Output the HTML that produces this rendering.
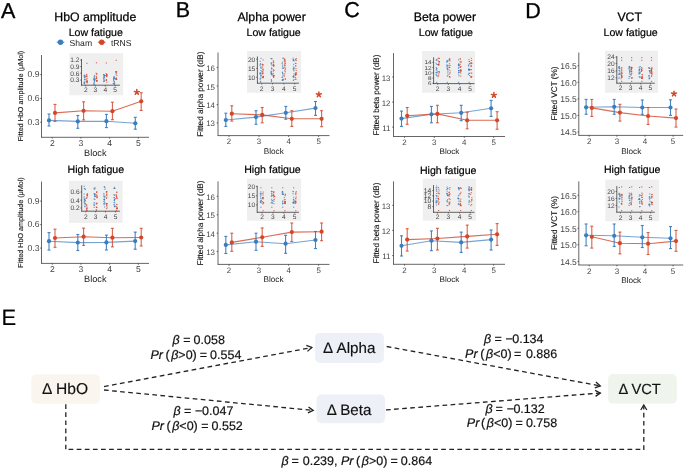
<!DOCTYPE html>
<html><head><meta charset="utf-8"><style>
html,body{margin:0;padding:0;background:#fff;}
body{width:685px;height:469px;overflow:hidden;}
svg{display:block;filter:blur(0.3px);-webkit-font-smoothing:antialiased;will-change:transform;text-rendering:geometricPrecision;font-family:"Liberation Sans",sans-serif;}
</style></head><body>
<svg width="685" height="469" viewBox="0 0 685 469">
<rect width="685" height="469" fill="#fff"/>
<text x="1.00" y="18.10" font-size="21.5" fill="#000" text-anchor="start" stroke="#000" stroke-width="0.35">A</text>
<text x="175.80" y="17.20" font-size="21.5" fill="#000" text-anchor="start" stroke="#000" stroke-width="0.35">B</text>
<text x="344.30" y="17.20" font-size="21.5" fill="#000" text-anchor="start" stroke="#000" stroke-width="0.35">C</text>
<text x="525.30" y="17.80" font-size="21.5" fill="#000" text-anchor="start" stroke="#000" stroke-width="0.35">D</text>
<text x="95.30" y="20.60" font-size="12.3" fill="#000" text-anchor="middle" stroke="#000" stroke-width="0.25">HbO amplitude</text>
<text x="271.60" y="20.60" font-size="12.3" fill="#000" text-anchor="middle" stroke="#000" stroke-width="0.25">Alpha power</text>
<text x="444.90" y="20.60" font-size="12.3" fill="#000" text-anchor="middle" stroke="#000" stroke-width="0.25">Beta power</text>
<text x="629.70" y="20.60" font-size="12.3" fill="#000" text-anchor="middle" stroke="#000" stroke-width="0.25">VCT</text>
<text x="95.75" y="35.80" font-size="10.6" fill="#000" text-anchor="middle" stroke="#000" stroke-width="0.2">Low fatigue</text>
<text x="273.60" y="35.80" font-size="10.6" fill="#000" text-anchor="middle" stroke="#000" stroke-width="0.2">Low fatigue</text>
<text x="445.85" y="35.80" font-size="10.6" fill="#000" text-anchor="middle" stroke="#000" stroke-width="0.2">Low fatigue</text>
<text x="630.60" y="35.80" font-size="10.6" fill="#000" text-anchor="middle" stroke="#000" stroke-width="0.2">Low fatigue</text>
<text x="95.85" y="173.40" font-size="10.6" fill="#000" text-anchor="middle" stroke="#000" stroke-width="0.2">High fatigue</text>
<text x="272.50" y="173.00" font-size="10.6" fill="#000" text-anchor="middle" stroke="#000" stroke-width="0.2">High fatigue</text>
<text x="448.20" y="173.50" font-size="10.6" fill="#000" text-anchor="middle" stroke="#000" stroke-width="0.2">High fatigue</text>
<text x="632.15" y="173.00" font-size="10.6" fill="#000" text-anchor="middle" stroke="#000" stroke-width="0.2">High fatigue</text>
<line x1="56.70" y1="42.20" x2="64.30" y2="42.20" stroke="#3a7dbf" stroke-width="1" />
<circle cx="60.5" cy="42.2" r="2.7" fill="#3a7dbf"/>
<line x1="97.90" y1="42.20" x2="105.50" y2="42.20" stroke="#d2472b" stroke-width="1" />
<circle cx="101.7" cy="42.2" r="2.7" fill="#d2472b"/>
<text x="69.60" y="45.60" font-size="8.6" fill="#222" text-anchor="start" >Sham</text>
<text x="110.90" y="45.60" font-size="8.6" fill="#222" text-anchor="start" >tRNS</text>
<line x1="41.50" y1="55.00" x2="41.50" y2="137.55" stroke="#333333" stroke-width="0.75" />
<line x1="41.25" y1="137.30" x2="149.00" y2="137.30" stroke="#333333" stroke-width="0.75" />
<line x1="40.20" y1="74.60" x2="41.50" y2="74.60" stroke="#333333" stroke-width="0.75" />
<text x="39.50" y="77.10" font-size="8.6" fill="#444444" text-anchor="end" >0.9</text>
<line x1="40.20" y1="98.40" x2="41.50" y2="98.40" stroke="#333333" stroke-width="0.75" />
<text x="39.50" y="100.90" font-size="8.6" fill="#444444" text-anchor="end" >0.6</text>
<line x1="40.20" y1="122.20" x2="41.50" y2="122.20" stroke="#333333" stroke-width="0.75" />
<text x="39.50" y="124.70" font-size="8.6" fill="#444444" text-anchor="end" >0.3</text>
<line x1="52.30" y1="137.30" x2="52.30" y2="138.60" stroke="#333333" stroke-width="0.75" />
<text x="52.30" y="146.00" font-size="8.6" fill="#444444" text-anchor="middle" >2</text>
<line x1="80.90" y1="137.30" x2="80.90" y2="138.60" stroke="#333333" stroke-width="0.75" />
<text x="80.90" y="146.00" font-size="8.6" fill="#444444" text-anchor="middle" >3</text>
<line x1="109.60" y1="137.30" x2="109.60" y2="138.60" stroke="#333333" stroke-width="0.75" />
<text x="109.60" y="146.00" font-size="8.6" fill="#444444" text-anchor="middle" >4</text>
<line x1="138.30" y1="137.30" x2="138.30" y2="138.60" stroke="#333333" stroke-width="0.75" />
<text x="138.30" y="146.00" font-size="8.6" fill="#444444" text-anchor="middle" >5</text>
<text x="95.25" y="155.80" font-size="9.2" fill="#1a1a1a" text-anchor="middle" >Block</text>
<text transform="translate(22.90,96.10) rotate(-90)" font-size="7.2" fill="#111" stroke="#111" stroke-width="0.12" text-anchor="middle">Fitted HbO amplitude (μMol)</text>
<rect x="69.30" y="53.20" width="53.80" height="42.10" fill="#efefef"/>
<rect x="84.52" y="75.83" width="1.2" height="0.9" fill="#3a7dbf" fill-opacity="0.85"/>
<rect x="83.81" y="81.81" width="1.2" height="0.9" fill="#3a7dbf" fill-opacity="0.85"/>
<rect x="84.04" y="79.26" width="1.2" height="0.9" fill="#3a7dbf" fill-opacity="0.85"/>
<rect x="84.45" y="80.74" width="1.2" height="0.9" fill="#3a7dbf" fill-opacity="0.85"/>
<rect x="83.53" y="75.44" width="1.2" height="0.9" fill="#3a7dbf" fill-opacity="0.85"/>
<rect x="84.02" y="82.49" width="1.2" height="0.9" fill="#3a7dbf" fill-opacity="0.85"/>
<rect x="83.50" y="81.79" width="1.2" height="0.9" fill="#3a7dbf" fill-opacity="0.85"/>
<rect x="84.37" y="78.78" width="1.2" height="0.9" fill="#3a7dbf" fill-opacity="0.85"/>
<rect x="84.63" y="76.72" width="1.2" height="0.9" fill="#3a7dbf" fill-opacity="0.85"/>
<rect x="83.54" y="83.11" width="1.2" height="0.9" fill="#3a7dbf" fill-opacity="0.85"/>
<rect x="84.15" y="74.79" width="1.2" height="0.9" fill="#3a7dbf" fill-opacity="0.85"/>
<rect x="83.96" y="83.47" width="1.2" height="0.9" fill="#3a7dbf" fill-opacity="0.85"/>
<rect x="84.01" y="76.61" width="1.2" height="0.9" fill="#3a7dbf" fill-opacity="0.85"/>
<rect x="83.77" y="74.83" width="1.2" height="0.9" fill="#3a7dbf" fill-opacity="0.85"/>
<rect x="84.09" y="78.71" width="1.2" height="0.9" fill="#3a7dbf" fill-opacity="0.85"/>
<rect x="83.78" y="76.76" width="1.2" height="0.9" fill="#3a7dbf" fill-opacity="0.85"/>
<rect x="86.25" y="75.52" width="1.2" height="0.9" fill="#d2472b" fill-opacity="0.85"/>
<rect x="85.73" y="76.16" width="1.2" height="0.9" fill="#d2472b" fill-opacity="0.85"/>
<rect x="86.37" y="81.09" width="1.2" height="0.9" fill="#d2472b" fill-opacity="0.85"/>
<rect x="85.92" y="79.33" width="1.2" height="0.9" fill="#d2472b" fill-opacity="0.85"/>
<rect x="86.73" y="82.48" width="1.2" height="0.9" fill="#d2472b" fill-opacity="0.85"/>
<rect x="86.10" y="74.64" width="1.2" height="0.9" fill="#d2472b" fill-opacity="0.85"/>
<rect x="86.55" y="80.04" width="1.2" height="0.9" fill="#d2472b" fill-opacity="0.85"/>
<rect x="86.21" y="81.98" width="1.2" height="0.9" fill="#d2472b" fill-opacity="0.85"/>
<rect x="86.50" y="81.02" width="1.2" height="0.9" fill="#d2472b" fill-opacity="0.85"/>
<rect x="86.41" y="76.28" width="1.2" height="0.9" fill="#d2472b" fill-opacity="0.85"/>
<rect x="86.72" y="81.49" width="1.2" height="0.9" fill="#d2472b" fill-opacity="0.85"/>
<rect x="86.41" y="78.10" width="1.2" height="0.9" fill="#d2472b" fill-opacity="0.85"/>
<rect x="85.99" y="73.86" width="1.2" height="0.9" fill="#d2472b" fill-opacity="0.85"/>
<rect x="86.20" y="80.73" width="1.2" height="0.9" fill="#d2472b" fill-opacity="0.85"/>
<rect x="86.30" y="62.80" width="1.2" height="1.0" fill="#d2472b" fill-opacity="0.85"/>
<rect x="93.76" y="76.19" width="1.2" height="0.9" fill="#3a7dbf" fill-opacity="0.85"/>
<rect x="93.91" y="81.23" width="1.2" height="0.9" fill="#3a7dbf" fill-opacity="0.85"/>
<rect x="93.63" y="78.11" width="1.2" height="0.9" fill="#3a7dbf" fill-opacity="0.85"/>
<rect x="94.03" y="79.38" width="1.2" height="0.9" fill="#3a7dbf" fill-opacity="0.85"/>
<rect x="93.57" y="79.50" width="1.2" height="0.9" fill="#3a7dbf" fill-opacity="0.85"/>
<rect x="93.14" y="79.20" width="1.2" height="0.9" fill="#3a7dbf" fill-opacity="0.85"/>
<rect x="93.94" y="74.96" width="1.2" height="0.9" fill="#3a7dbf" fill-opacity="0.85"/>
<rect x="93.81" y="83.89" width="1.2" height="0.9" fill="#3a7dbf" fill-opacity="0.85"/>
<rect x="93.30" y="78.29" width="1.2" height="0.9" fill="#3a7dbf" fill-opacity="0.85"/>
<rect x="94.28" y="79.32" width="1.2" height="0.9" fill="#3a7dbf" fill-opacity="0.85"/>
<rect x="93.75" y="81.87" width="1.2" height="0.9" fill="#3a7dbf" fill-opacity="0.85"/>
<rect x="93.38" y="82.72" width="1.2" height="0.9" fill="#3a7dbf" fill-opacity="0.85"/>
<rect x="94.24" y="79.43" width="1.2" height="0.9" fill="#3a7dbf" fill-opacity="0.85"/>
<rect x="93.65" y="80.04" width="1.2" height="0.9" fill="#3a7dbf" fill-opacity="0.85"/>
<rect x="93.76" y="77.11" width="1.2" height="0.9" fill="#3a7dbf" fill-opacity="0.85"/>
<rect x="93.11" y="83.64" width="1.2" height="0.9" fill="#3a7dbf" fill-opacity="0.85"/>
<rect x="96.28" y="79.99" width="1.2" height="0.9" fill="#d2472b" fill-opacity="0.85"/>
<rect x="96.19" y="80.97" width="1.2" height="0.9" fill="#d2472b" fill-opacity="0.85"/>
<rect x="95.92" y="80.24" width="1.2" height="0.9" fill="#d2472b" fill-opacity="0.85"/>
<rect x="95.81" y="77.88" width="1.2" height="0.9" fill="#d2472b" fill-opacity="0.85"/>
<rect x="96.34" y="73.08" width="1.2" height="0.9" fill="#d2472b" fill-opacity="0.85"/>
<rect x="95.54" y="77.96" width="1.2" height="0.9" fill="#d2472b" fill-opacity="0.85"/>
<rect x="95.88" y="77.34" width="1.2" height="0.9" fill="#d2472b" fill-opacity="0.85"/>
<rect x="95.72" y="75.94" width="1.2" height="0.9" fill="#d2472b" fill-opacity="0.85"/>
<rect x="96.05" y="77.67" width="1.2" height="0.9" fill="#d2472b" fill-opacity="0.85"/>
<rect x="95.85" y="78.37" width="1.2" height="0.9" fill="#d2472b" fill-opacity="0.85"/>
<rect x="95.58" y="72.82" width="1.2" height="0.9" fill="#d2472b" fill-opacity="0.85"/>
<rect x="96.00" y="74.23" width="1.2" height="0.9" fill="#d2472b" fill-opacity="0.85"/>
<rect x="96.26" y="80.73" width="1.2" height="0.9" fill="#d2472b" fill-opacity="0.85"/>
<rect x="96.28" y="80.12" width="1.2" height="0.9" fill="#d2472b" fill-opacity="0.85"/>
<rect x="95.90" y="62.30" width="1.2" height="1.0" fill="#d2472b" fill-opacity="0.85"/>
<rect x="104.01" y="76.48" width="1.2" height="0.9" fill="#3a7dbf" fill-opacity="0.85"/>
<rect x="103.10" y="80.44" width="1.2" height="0.9" fill="#3a7dbf" fill-opacity="0.85"/>
<rect x="103.02" y="74.21" width="1.2" height="0.9" fill="#3a7dbf" fill-opacity="0.85"/>
<rect x="103.30" y="81.23" width="1.2" height="0.9" fill="#3a7dbf" fill-opacity="0.85"/>
<rect x="103.75" y="75.09" width="1.2" height="0.9" fill="#3a7dbf" fill-opacity="0.85"/>
<rect x="103.08" y="77.32" width="1.2" height="0.9" fill="#3a7dbf" fill-opacity="0.85"/>
<rect x="103.63" y="75.57" width="1.2" height="0.9" fill="#3a7dbf" fill-opacity="0.85"/>
<rect x="103.33" y="75.65" width="1.2" height="0.9" fill="#3a7dbf" fill-opacity="0.85"/>
<rect x="103.55" y="80.81" width="1.2" height="0.9" fill="#3a7dbf" fill-opacity="0.85"/>
<rect x="103.57" y="77.11" width="1.2" height="0.9" fill="#3a7dbf" fill-opacity="0.85"/>
<rect x="103.46" y="74.27" width="1.2" height="0.9" fill="#3a7dbf" fill-opacity="0.85"/>
<rect x="103.23" y="78.05" width="1.2" height="0.9" fill="#3a7dbf" fill-opacity="0.85"/>
<rect x="104.08" y="75.08" width="1.2" height="0.9" fill="#3a7dbf" fill-opacity="0.85"/>
<rect x="103.25" y="78.90" width="1.2" height="0.9" fill="#3a7dbf" fill-opacity="0.85"/>
<rect x="103.98" y="79.80" width="1.2" height="0.9" fill="#3a7dbf" fill-opacity="0.85"/>
<rect x="103.02" y="74.25" width="1.2" height="0.9" fill="#3a7dbf" fill-opacity="0.85"/>
<rect x="106.06" y="73.94" width="1.2" height="0.9" fill="#d2472b" fill-opacity="0.85"/>
<rect x="106.05" y="74.07" width="1.2" height="0.9" fill="#d2472b" fill-opacity="0.85"/>
<rect x="105.85" y="78.99" width="1.2" height="0.9" fill="#d2472b" fill-opacity="0.85"/>
<rect x="106.37" y="74.65" width="1.2" height="0.9" fill="#d2472b" fill-opacity="0.85"/>
<rect x="105.82" y="80.13" width="1.2" height="0.9" fill="#d2472b" fill-opacity="0.85"/>
<rect x="105.98" y="74.67" width="1.2" height="0.9" fill="#d2472b" fill-opacity="0.85"/>
<rect x="105.89" y="76.30" width="1.2" height="0.9" fill="#d2472b" fill-opacity="0.85"/>
<rect x="105.96" y="75.60" width="1.2" height="0.9" fill="#d2472b" fill-opacity="0.85"/>
<rect x="105.56" y="73.11" width="1.2" height="0.9" fill="#d2472b" fill-opacity="0.85"/>
<rect x="106.25" y="81.75" width="1.2" height="0.9" fill="#d2472b" fill-opacity="0.85"/>
<rect x="106.23" y="75.46" width="1.2" height="0.9" fill="#d2472b" fill-opacity="0.85"/>
<rect x="106.33" y="75.50" width="1.2" height="0.9" fill="#d2472b" fill-opacity="0.85"/>
<rect x="105.70" y="79.62" width="1.2" height="0.9" fill="#d2472b" fill-opacity="0.85"/>
<rect x="105.21" y="74.95" width="1.2" height="0.9" fill="#d2472b" fill-opacity="0.85"/>
<rect x="105.80" y="62.50" width="1.2" height="1.0" fill="#d2472b" fill-opacity="0.85"/>
<rect x="112.85" y="82.96" width="1.2" height="0.9" fill="#3a7dbf" fill-opacity="0.85"/>
<rect x="113.95" y="82.42" width="1.2" height="0.9" fill="#3a7dbf" fill-opacity="0.85"/>
<rect x="113.01" y="80.18" width="1.2" height="0.9" fill="#3a7dbf" fill-opacity="0.85"/>
<rect x="113.97" y="82.86" width="1.2" height="0.9" fill="#3a7dbf" fill-opacity="0.85"/>
<rect x="113.41" y="81.39" width="1.2" height="0.9" fill="#3a7dbf" fill-opacity="0.85"/>
<rect x="113.22" y="78.45" width="1.2" height="0.9" fill="#3a7dbf" fill-opacity="0.85"/>
<rect x="113.61" y="76.90" width="1.2" height="0.9" fill="#3a7dbf" fill-opacity="0.85"/>
<rect x="113.03" y="78.95" width="1.2" height="0.9" fill="#3a7dbf" fill-opacity="0.85"/>
<rect x="113.60" y="75.99" width="1.2" height="0.9" fill="#3a7dbf" fill-opacity="0.85"/>
<rect x="113.40" y="77.71" width="1.2" height="0.9" fill="#3a7dbf" fill-opacity="0.85"/>
<rect x="113.85" y="77.98" width="1.2" height="0.9" fill="#3a7dbf" fill-opacity="0.85"/>
<rect x="112.82" y="83.15" width="1.2" height="0.9" fill="#3a7dbf" fill-opacity="0.85"/>
<rect x="113.19" y="76.86" width="1.2" height="0.9" fill="#3a7dbf" fill-opacity="0.85"/>
<rect x="113.74" y="83.93" width="1.2" height="0.9" fill="#3a7dbf" fill-opacity="0.85"/>
<rect x="113.06" y="78.10" width="1.2" height="0.9" fill="#3a7dbf" fill-opacity="0.85"/>
<rect x="113.81" y="81.12" width="1.2" height="0.9" fill="#3a7dbf" fill-opacity="0.85"/>
<rect x="115.41" y="78.94" width="1.2" height="0.9" fill="#d2472b" fill-opacity="0.85"/>
<rect x="115.82" y="78.49" width="1.2" height="0.9" fill="#d2472b" fill-opacity="0.85"/>
<rect x="116.18" y="74.91" width="1.2" height="0.9" fill="#d2472b" fill-opacity="0.85"/>
<rect x="115.87" y="72.66" width="1.2" height="0.9" fill="#d2472b" fill-opacity="0.85"/>
<rect x="115.20" y="71.31" width="1.2" height="0.9" fill="#d2472b" fill-opacity="0.85"/>
<rect x="115.26" y="78.75" width="1.2" height="0.9" fill="#d2472b" fill-opacity="0.85"/>
<rect x="115.72" y="77.38" width="1.2" height="0.9" fill="#d2472b" fill-opacity="0.85"/>
<rect x="115.44" y="78.12" width="1.2" height="0.9" fill="#d2472b" fill-opacity="0.85"/>
<rect x="115.35" y="73.61" width="1.2" height="0.9" fill="#d2472b" fill-opacity="0.85"/>
<rect x="115.72" y="78.36" width="1.2" height="0.9" fill="#d2472b" fill-opacity="0.85"/>
<rect x="116.06" y="79.14" width="1.2" height="0.9" fill="#d2472b" fill-opacity="0.85"/>
<rect x="115.66" y="71.77" width="1.2" height="0.9" fill="#d2472b" fill-opacity="0.85"/>
<rect x="115.05" y="71.49" width="1.2" height="0.9" fill="#d2472b" fill-opacity="0.85"/>
<rect x="116.04" y="71.21" width="1.2" height="0.9" fill="#d2472b" fill-opacity="0.85"/>
<rect x="115.60" y="59.80" width="1.2" height="1.0" fill="#d2472b" fill-opacity="0.85"/>
<line x1="81.50" y1="59.00" x2="81.50" y2="85.55" stroke="#333" stroke-width="0.75" />
<line x1="81.15" y1="85.20" x2="119.90" y2="85.20" stroke="#333" stroke-width="0.75" />
<line x1="80.20" y1="60.10" x2="81.50" y2="60.10" stroke="#333" stroke-width="0.6" />
<text x="79.40" y="62.40" font-size="6.6" fill="#444444" text-anchor="end" >1.2</text>
<line x1="80.20" y1="66.60" x2="81.50" y2="66.60" stroke="#333" stroke-width="0.6" />
<text x="79.40" y="68.90" font-size="6.6" fill="#444444" text-anchor="end" >0.9</text>
<line x1="80.20" y1="73.20" x2="81.50" y2="73.20" stroke="#333" stroke-width="0.6" />
<text x="79.40" y="75.50" font-size="6.6" fill="#444444" text-anchor="end" >0.6</text>
<line x1="80.20" y1="80.10" x2="81.50" y2="80.10" stroke="#333" stroke-width="0.6" />
<text x="79.40" y="82.40" font-size="6.6" fill="#444444" text-anchor="end" >0.3</text>
<line x1="85.80" y1="85.20" x2="85.80" y2="86.50" stroke="#333" stroke-width="0.6" />
<text x="85.80" y="92.30" font-size="6.6" fill="#444444" text-anchor="middle" >2</text>
<line x1="95.40" y1="85.20" x2="95.40" y2="86.50" stroke="#333" stroke-width="0.6" />
<text x="95.40" y="92.30" font-size="6.6" fill="#444444" text-anchor="middle" >3</text>
<line x1="105.30" y1="85.20" x2="105.30" y2="86.50" stroke="#333" stroke-width="0.6" />
<text x="105.30" y="92.30" font-size="6.6" fill="#444444" text-anchor="middle" >4</text>
<line x1="115.10" y1="85.20" x2="115.10" y2="86.50" stroke="#333" stroke-width="0.6" />
<text x="115.10" y="92.30" font-size="6.6" fill="#444444" text-anchor="middle" >5</text>
<path d="M49.00,120.40 L77.80,121.40 L106.40,121.20 L135.30,123.30" fill="none" stroke="#3a7dbf" stroke-width="1.1" stroke-opacity="0.7"/>
<path d="M55.00,112.90 L83.60,110.80 L112.40,111.20 L141.20,101.30" fill="none" stroke="#d2472b" stroke-width="1.1" stroke-opacity="0.8"/>
<g stroke="#3a7dbf" stroke-width="1.1" stroke-opacity="0.95"><line x1="49.00" y1="114.00" x2="49.00" y2="126.00"/><line x1="47.50" y1="114.00" x2="50.50" y2="114.00"/><line x1="47.50" y1="126.00" x2="50.50" y2="126.00"/></g>
<circle cx="49.00" cy="120.40" r="2.1" fill="#3a7dbf"/>
<g stroke="#3a7dbf" stroke-width="1.1" stroke-opacity="0.95"><line x1="77.80" y1="115.50" x2="77.80" y2="128.30"/><line x1="76.30" y1="115.50" x2="79.30" y2="115.50"/><line x1="76.30" y1="128.30" x2="79.30" y2="128.30"/></g>
<circle cx="77.80" cy="121.40" r="2.1" fill="#3a7dbf"/>
<g stroke="#3a7dbf" stroke-width="1.1" stroke-opacity="0.95"><line x1="106.40" y1="114.40" x2="106.40" y2="127.60"/><line x1="104.90" y1="114.40" x2="107.90" y2="114.40"/><line x1="104.90" y1="127.60" x2="107.90" y2="127.60"/></g>
<circle cx="106.40" cy="121.20" r="2.1" fill="#3a7dbf"/>
<g stroke="#3a7dbf" stroke-width="1.1" stroke-opacity="0.95"><line x1="135.30" y1="117.30" x2="135.30" y2="129.20"/><line x1="133.80" y1="117.30" x2="136.80" y2="117.30"/><line x1="133.80" y1="129.20" x2="136.80" y2="129.20"/></g>
<circle cx="135.30" cy="123.30" r="2.1" fill="#3a7dbf"/>
<g stroke="#d2472b" stroke-width="1.1" stroke-opacity="0.85"><line x1="55.00" y1="104.40" x2="55.00" y2="121.40"/><line x1="53.50" y1="104.40" x2="56.50" y2="104.40"/><line x1="53.50" y1="121.40" x2="56.50" y2="121.40"/></g>
<circle cx="55.00" cy="112.90" r="2.1" fill="#d2472b"/>
<g stroke="#d2472b" stroke-width="1.1" stroke-opacity="0.85"><line x1="83.60" y1="101.80" x2="83.60" y2="119.90"/><line x1="82.10" y1="101.80" x2="85.10" y2="101.80"/><line x1="82.10" y1="119.90" x2="85.10" y2="119.90"/></g>
<circle cx="83.60" cy="110.80" r="2.1" fill="#d2472b"/>
<g stroke="#d2472b" stroke-width="1.1" stroke-opacity="0.85"><line x1="112.40" y1="102.20" x2="112.40" y2="119.70"/><line x1="110.90" y1="102.20" x2="113.90" y2="102.20"/><line x1="110.90" y1="119.70" x2="113.90" y2="119.70"/></g>
<circle cx="112.40" cy="111.20" r="2.1" fill="#d2472b"/>
<g stroke="#d2472b" stroke-width="1.1" stroke-opacity="0.85"><line x1="141.20" y1="92.70" x2="141.20" y2="110.40"/><line x1="139.70" y1="92.70" x2="142.70" y2="92.70"/><line x1="139.70" y1="110.40" x2="142.70" y2="110.40"/></g>
<circle cx="141.20" cy="101.30" r="2.1" fill="#d2472b"/>
<path d="M136.80,92.20 L136.80,89.60 M136.80,92.20 L139.27,91.40 M136.80,92.20 L138.33,94.30 M136.80,92.20 L135.27,94.30 M136.80,92.20 L134.33,91.40 " stroke="#d2472b" stroke-width="1.5" stroke-linecap="round" fill="none"/>
<line x1="41.50" y1="181.60" x2="41.50" y2="263.65" stroke="#333333" stroke-width="0.75" />
<line x1="41.25" y1="263.40" x2="149.00" y2="263.40" stroke="#333333" stroke-width="0.75" />
<line x1="40.20" y1="201.10" x2="41.50" y2="201.10" stroke="#333333" stroke-width="0.75" />
<text x="39.50" y="203.60" font-size="8.6" fill="#444444" text-anchor="end" >0.9</text>
<line x1="40.20" y1="224.60" x2="41.50" y2="224.60" stroke="#333333" stroke-width="0.75" />
<text x="39.50" y="227.10" font-size="8.6" fill="#444444" text-anchor="end" >0.6</text>
<line x1="40.20" y1="248.10" x2="41.50" y2="248.10" stroke="#333333" stroke-width="0.75" />
<text x="39.50" y="250.60" font-size="8.6" fill="#444444" text-anchor="end" >0.3</text>
<line x1="52.30" y1="263.40" x2="52.30" y2="264.70" stroke="#333333" stroke-width="0.75" />
<text x="52.30" y="272.10" font-size="8.6" fill="#444444" text-anchor="middle" >2</text>
<line x1="80.90" y1="263.40" x2="80.90" y2="264.70" stroke="#333333" stroke-width="0.75" />
<text x="80.90" y="272.10" font-size="8.6" fill="#444444" text-anchor="middle" >3</text>
<line x1="109.60" y1="263.40" x2="109.60" y2="264.70" stroke="#333333" stroke-width="0.75" />
<text x="109.60" y="272.10" font-size="8.6" fill="#444444" text-anchor="middle" >4</text>
<line x1="138.30" y1="263.40" x2="138.30" y2="264.70" stroke="#333333" stroke-width="0.75" />
<text x="138.30" y="272.10" font-size="8.6" fill="#444444" text-anchor="middle" >5</text>
<text x="95.25" y="281.70" font-size="9.2" fill="#1a1a1a" text-anchor="middle" >Block</text>
<text transform="translate(22.90,222.50) rotate(-90)" font-size="7.2" fill="#111" stroke="#111" stroke-width="0.12" text-anchor="middle">Fitted HbO amplitude (μMol)</text>
<rect x="69.10" y="180.80" width="53.50" height="42.10" fill="#efefef"/>
<rect x="84.64" y="188.90" width="1.2" height="0.9" fill="#3a7dbf" fill-opacity="0.85"/>
<rect x="83.60" y="185.75" width="1.2" height="0.9" fill="#3a7dbf" fill-opacity="0.85"/>
<rect x="84.38" y="188.47" width="1.2" height="0.9" fill="#3a7dbf" fill-opacity="0.85"/>
<rect x="83.87" y="187.89" width="1.2" height="0.9" fill="#3a7dbf" fill-opacity="0.85"/>
<rect x="84.23" y="201.53" width="1.2" height="0.9" fill="#3a7dbf" fill-opacity="0.85"/>
<rect x="83.69" y="201.19" width="1.2" height="0.9" fill="#3a7dbf" fill-opacity="0.85"/>
<rect x="83.97" y="199.08" width="1.2" height="0.9" fill="#3a7dbf" fill-opacity="0.85"/>
<rect x="84.69" y="203.17" width="1.2" height="0.9" fill="#3a7dbf" fill-opacity="0.85"/>
<rect x="84.15" y="206.34" width="1.2" height="0.9" fill="#3a7dbf" fill-opacity="0.85"/>
<rect x="83.82" y="199.28" width="1.2" height="0.9" fill="#3a7dbf" fill-opacity="0.85"/>
<rect x="83.53" y="193.55" width="1.2" height="0.9" fill="#3a7dbf" fill-opacity="0.85"/>
<rect x="83.88" y="199.56" width="1.2" height="0.9" fill="#3a7dbf" fill-opacity="0.85"/>
<rect x="84.57" y="198.37" width="1.2" height="0.9" fill="#3a7dbf" fill-opacity="0.85"/>
<rect x="84.17" y="200.41" width="1.2" height="0.9" fill="#3a7dbf" fill-opacity="0.85"/>
<rect x="83.53" y="196.36" width="1.2" height="0.9" fill="#3a7dbf" fill-opacity="0.85"/>
<rect x="83.66" y="197.60" width="1.2" height="0.9" fill="#3a7dbf" fill-opacity="0.85"/>
<rect x="84.70" y="200.19" width="1.2" height="0.9" fill="#3a7dbf" fill-opacity="0.85"/>
<rect x="83.72" y="202.49" width="1.2" height="0.9" fill="#3a7dbf" fill-opacity="0.85"/>
<rect x="84.46" y="205.56" width="1.2" height="0.9" fill="#3a7dbf" fill-opacity="0.85"/>
<rect x="84.59" y="203.33" width="1.2" height="0.9" fill="#3a7dbf" fill-opacity="0.85"/>
<rect x="84.45" y="203.73" width="1.2" height="0.9" fill="#3a7dbf" fill-opacity="0.85"/>
<rect x="86.88" y="193.53" width="1.2" height="0.9" fill="#d2472b" fill-opacity="0.85"/>
<rect x="85.89" y="197.78" width="1.2" height="0.9" fill="#d2472b" fill-opacity="0.85"/>
<rect x="86.56" y="196.33" width="1.2" height="0.9" fill="#d2472b" fill-opacity="0.85"/>
<rect x="86.34" y="194.28" width="1.2" height="0.9" fill="#d2472b" fill-opacity="0.85"/>
<rect x="86.81" y="194.48" width="1.2" height="0.9" fill="#d2472b" fill-opacity="0.85"/>
<rect x="86.70" y="194.56" width="1.2" height="0.9" fill="#d2472b" fill-opacity="0.85"/>
<rect x="86.76" y="193.53" width="1.2" height="0.9" fill="#d2472b" fill-opacity="0.85"/>
<rect x="86.25" y="197.35" width="1.2" height="0.9" fill="#d2472b" fill-opacity="0.85"/>
<rect x="86.80" y="195.02" width="1.2" height="0.9" fill="#d2472b" fill-opacity="0.85"/>
<rect x="86.28" y="208.05" width="1.2" height="0.9" fill="#d2472b" fill-opacity="0.85"/>
<rect x="86.09" y="204.24" width="1.2" height="0.9" fill="#d2472b" fill-opacity="0.85"/>
<rect x="85.90" y="207.87" width="1.2" height="0.9" fill="#d2472b" fill-opacity="0.85"/>
<rect x="86.02" y="209.45" width="1.2" height="0.9" fill="#d2472b" fill-opacity="0.85"/>
<rect x="86.07" y="209.48" width="1.2" height="0.9" fill="#d2472b" fill-opacity="0.85"/>
<rect x="86.55" y="209.83" width="1.2" height="0.9" fill="#d2472b" fill-opacity="0.85"/>
<rect x="86.32" y="206.38" width="1.2" height="0.9" fill="#d2472b" fill-opacity="0.85"/>
<rect x="86.41" y="207.50" width="1.2" height="0.9" fill="#d2472b" fill-opacity="0.85"/>
<rect x="85.95" y="204.92" width="1.2" height="0.9" fill="#d2472b" fill-opacity="0.85"/>
<rect x="94.52" y="187.34" width="1.2" height="0.9" fill="#3a7dbf" fill-opacity="0.85"/>
<rect x="93.49" y="187.73" width="1.2" height="0.9" fill="#3a7dbf" fill-opacity="0.85"/>
<rect x="94.27" y="188.42" width="1.2" height="0.9" fill="#3a7dbf" fill-opacity="0.85"/>
<rect x="93.63" y="188.73" width="1.2" height="0.9" fill="#3a7dbf" fill-opacity="0.85"/>
<rect x="93.47" y="203.48" width="1.2" height="0.9" fill="#3a7dbf" fill-opacity="0.85"/>
<rect x="93.73" y="202.19" width="1.2" height="0.9" fill="#3a7dbf" fill-opacity="0.85"/>
<rect x="94.45" y="196.22" width="1.2" height="0.9" fill="#3a7dbf" fill-opacity="0.85"/>
<rect x="94.03" y="194.54" width="1.2" height="0.9" fill="#3a7dbf" fill-opacity="0.85"/>
<rect x="93.69" y="205.01" width="1.2" height="0.9" fill="#3a7dbf" fill-opacity="0.85"/>
<rect x="94.46" y="196.00" width="1.2" height="0.9" fill="#3a7dbf" fill-opacity="0.85"/>
<rect x="94.26" y="198.97" width="1.2" height="0.9" fill="#3a7dbf" fill-opacity="0.85"/>
<rect x="93.83" y="193.50" width="1.2" height="0.9" fill="#3a7dbf" fill-opacity="0.85"/>
<rect x="94.21" y="195.46" width="1.2" height="0.9" fill="#3a7dbf" fill-opacity="0.85"/>
<rect x="94.55" y="194.21" width="1.2" height="0.9" fill="#3a7dbf" fill-opacity="0.85"/>
<rect x="94.28" y="193.40" width="1.2" height="0.9" fill="#3a7dbf" fill-opacity="0.85"/>
<rect x="93.71" y="193.35" width="1.2" height="0.9" fill="#3a7dbf" fill-opacity="0.85"/>
<rect x="93.59" y="204.44" width="1.2" height="0.9" fill="#3a7dbf" fill-opacity="0.85"/>
<rect x="94.23" y="195.62" width="1.2" height="0.9" fill="#3a7dbf" fill-opacity="0.85"/>
<rect x="93.45" y="198.45" width="1.2" height="0.9" fill="#3a7dbf" fill-opacity="0.85"/>
<rect x="93.58" y="206.91" width="1.2" height="0.9" fill="#3a7dbf" fill-opacity="0.85"/>
<rect x="93.81" y="193.56" width="1.2" height="0.9" fill="#3a7dbf" fill-opacity="0.85"/>
<rect x="96.49" y="195.36" width="1.2" height="0.9" fill="#d2472b" fill-opacity="0.85"/>
<rect x="96.00" y="191.84" width="1.2" height="0.9" fill="#d2472b" fill-opacity="0.85"/>
<rect x="96.14" y="191.27" width="1.2" height="0.9" fill="#d2472b" fill-opacity="0.85"/>
<rect x="96.49" y="196.41" width="1.2" height="0.9" fill="#d2472b" fill-opacity="0.85"/>
<rect x="96.51" y="197.36" width="1.2" height="0.9" fill="#d2472b" fill-opacity="0.85"/>
<rect x="96.45" y="197.09" width="1.2" height="0.9" fill="#d2472b" fill-opacity="0.85"/>
<rect x="95.87" y="194.36" width="1.2" height="0.9" fill="#d2472b" fill-opacity="0.85"/>
<rect x="95.98" y="195.68" width="1.2" height="0.9" fill="#d2472b" fill-opacity="0.85"/>
<rect x="96.14" y="191.76" width="1.2" height="0.9" fill="#d2472b" fill-opacity="0.85"/>
<rect x="95.75" y="209.20" width="1.2" height="0.9" fill="#d2472b" fill-opacity="0.85"/>
<rect x="96.07" y="207.00" width="1.2" height="0.9" fill="#d2472b" fill-opacity="0.85"/>
<rect x="95.77" y="206.46" width="1.2" height="0.9" fill="#d2472b" fill-opacity="0.85"/>
<rect x="95.91" y="209.84" width="1.2" height="0.9" fill="#d2472b" fill-opacity="0.85"/>
<rect x="96.10" y="207.16" width="1.2" height="0.9" fill="#d2472b" fill-opacity="0.85"/>
<rect x="96.27" y="202.69" width="1.2" height="0.9" fill="#d2472b" fill-opacity="0.85"/>
<rect x="95.67" y="203.62" width="1.2" height="0.9" fill="#d2472b" fill-opacity="0.85"/>
<rect x="95.79" y="202.81" width="1.2" height="0.9" fill="#d2472b" fill-opacity="0.85"/>
<rect x="96.36" y="203.28" width="1.2" height="0.9" fill="#d2472b" fill-opacity="0.85"/>
<rect x="104.38" y="187.33" width="1.2" height="0.9" fill="#3a7dbf" fill-opacity="0.85"/>
<rect x="104.39" y="188.82" width="1.2" height="0.9" fill="#3a7dbf" fill-opacity="0.85"/>
<rect x="103.73" y="186.36" width="1.2" height="0.9" fill="#3a7dbf" fill-opacity="0.85"/>
<rect x="103.91" y="186.43" width="1.2" height="0.9" fill="#3a7dbf" fill-opacity="0.85"/>
<rect x="104.16" y="201.79" width="1.2" height="0.9" fill="#3a7dbf" fill-opacity="0.85"/>
<rect x="103.51" y="202.98" width="1.2" height="0.9" fill="#3a7dbf" fill-opacity="0.85"/>
<rect x="103.83" y="198.97" width="1.2" height="0.9" fill="#3a7dbf" fill-opacity="0.85"/>
<rect x="103.24" y="193.12" width="1.2" height="0.9" fill="#3a7dbf" fill-opacity="0.85"/>
<rect x="103.33" y="198.77" width="1.2" height="0.9" fill="#3a7dbf" fill-opacity="0.85"/>
<rect x="103.49" y="203.18" width="1.2" height="0.9" fill="#3a7dbf" fill-opacity="0.85"/>
<rect x="103.42" y="194.45" width="1.2" height="0.9" fill="#3a7dbf" fill-opacity="0.85"/>
<rect x="103.46" y="196.29" width="1.2" height="0.9" fill="#3a7dbf" fill-opacity="0.85"/>
<rect x="103.76" y="200.34" width="1.2" height="0.9" fill="#3a7dbf" fill-opacity="0.85"/>
<rect x="103.97" y="197.39" width="1.2" height="0.9" fill="#3a7dbf" fill-opacity="0.85"/>
<rect x="104.29" y="196.02" width="1.2" height="0.9" fill="#3a7dbf" fill-opacity="0.85"/>
<rect x="104.07" y="206.53" width="1.2" height="0.9" fill="#3a7dbf" fill-opacity="0.85"/>
<rect x="103.81" y="199.12" width="1.2" height="0.9" fill="#3a7dbf" fill-opacity="0.85"/>
<rect x="103.26" y="201.19" width="1.2" height="0.9" fill="#3a7dbf" fill-opacity="0.85"/>
<rect x="103.83" y="198.90" width="1.2" height="0.9" fill="#3a7dbf" fill-opacity="0.85"/>
<rect x="103.31" y="195.59" width="1.2" height="0.9" fill="#3a7dbf" fill-opacity="0.85"/>
<rect x="103.64" y="204.29" width="1.2" height="0.9" fill="#3a7dbf" fill-opacity="0.85"/>
<rect x="106.51" y="194.68" width="1.2" height="0.9" fill="#d2472b" fill-opacity="0.85"/>
<rect x="105.75" y="195.32" width="1.2" height="0.9" fill="#d2472b" fill-opacity="0.85"/>
<rect x="105.85" y="197.93" width="1.2" height="0.9" fill="#d2472b" fill-opacity="0.85"/>
<rect x="106.22" y="191.18" width="1.2" height="0.9" fill="#d2472b" fill-opacity="0.85"/>
<rect x="105.77" y="191.76" width="1.2" height="0.9" fill="#d2472b" fill-opacity="0.85"/>
<rect x="106.21" y="196.93" width="1.2" height="0.9" fill="#d2472b" fill-opacity="0.85"/>
<rect x="105.94" y="191.16" width="1.2" height="0.9" fill="#d2472b" fill-opacity="0.85"/>
<rect x="105.98" y="193.92" width="1.2" height="0.9" fill="#d2472b" fill-opacity="0.85"/>
<rect x="106.11" y="192.51" width="1.2" height="0.9" fill="#d2472b" fill-opacity="0.85"/>
<rect x="105.74" y="203.11" width="1.2" height="0.9" fill="#d2472b" fill-opacity="0.85"/>
<rect x="106.52" y="205.38" width="1.2" height="0.9" fill="#d2472b" fill-opacity="0.85"/>
<rect x="106.31" y="203.13" width="1.2" height="0.9" fill="#d2472b" fill-opacity="0.85"/>
<rect x="106.09" y="204.01" width="1.2" height="0.9" fill="#d2472b" fill-opacity="0.85"/>
<rect x="105.96" y="205.53" width="1.2" height="0.9" fill="#d2472b" fill-opacity="0.85"/>
<rect x="105.87" y="208.28" width="1.2" height="0.9" fill="#d2472b" fill-opacity="0.85"/>
<rect x="105.55" y="203.48" width="1.2" height="0.9" fill="#d2472b" fill-opacity="0.85"/>
<rect x="106.42" y="203.16" width="1.2" height="0.9" fill="#d2472b" fill-opacity="0.85"/>
<rect x="106.55" y="207.42" width="1.2" height="0.9" fill="#d2472b" fill-opacity="0.85"/>
<rect x="113.33" y="187.97" width="1.2" height="0.9" fill="#3a7dbf" fill-opacity="0.85"/>
<rect x="114.23" y="187.86" width="1.2" height="0.9" fill="#3a7dbf" fill-opacity="0.85"/>
<rect x="113.90" y="188.08" width="1.2" height="0.9" fill="#3a7dbf" fill-opacity="0.85"/>
<rect x="113.85" y="186.80" width="1.2" height="0.9" fill="#3a7dbf" fill-opacity="0.85"/>
<rect x="113.62" y="204.23" width="1.2" height="0.9" fill="#3a7dbf" fill-opacity="0.85"/>
<rect x="113.87" y="200.42" width="1.2" height="0.9" fill="#3a7dbf" fill-opacity="0.85"/>
<rect x="114.27" y="206.42" width="1.2" height="0.9" fill="#3a7dbf" fill-opacity="0.85"/>
<rect x="114.30" y="206.10" width="1.2" height="0.9" fill="#3a7dbf" fill-opacity="0.85"/>
<rect x="113.58" y="197.20" width="1.2" height="0.9" fill="#3a7dbf" fill-opacity="0.85"/>
<rect x="113.61" y="199.89" width="1.2" height="0.9" fill="#3a7dbf" fill-opacity="0.85"/>
<rect x="114.11" y="199.04" width="1.2" height="0.9" fill="#3a7dbf" fill-opacity="0.85"/>
<rect x="114.00" y="205.91" width="1.2" height="0.9" fill="#3a7dbf" fill-opacity="0.85"/>
<rect x="113.42" y="204.50" width="1.2" height="0.9" fill="#3a7dbf" fill-opacity="0.85"/>
<rect x="114.50" y="198.03" width="1.2" height="0.9" fill="#3a7dbf" fill-opacity="0.85"/>
<rect x="113.80" y="195.10" width="1.2" height="0.9" fill="#3a7dbf" fill-opacity="0.85"/>
<rect x="113.40" y="193.99" width="1.2" height="0.9" fill="#3a7dbf" fill-opacity="0.85"/>
<rect x="114.49" y="205.59" width="1.2" height="0.9" fill="#3a7dbf" fill-opacity="0.85"/>
<rect x="113.45" y="202.12" width="1.2" height="0.9" fill="#3a7dbf" fill-opacity="0.85"/>
<rect x="113.58" y="197.20" width="1.2" height="0.9" fill="#3a7dbf" fill-opacity="0.85"/>
<rect x="114.12" y="202.44" width="1.2" height="0.9" fill="#3a7dbf" fill-opacity="0.85"/>
<rect x="113.93" y="199.19" width="1.2" height="0.9" fill="#3a7dbf" fill-opacity="0.85"/>
<rect x="116.15" y="191.83" width="1.2" height="0.9" fill="#d2472b" fill-opacity="0.85"/>
<rect x="116.41" y="197.70" width="1.2" height="0.9" fill="#d2472b" fill-opacity="0.85"/>
<rect x="116.12" y="191.72" width="1.2" height="0.9" fill="#d2472b" fill-opacity="0.85"/>
<rect x="115.81" y="196.06" width="1.2" height="0.9" fill="#d2472b" fill-opacity="0.85"/>
<rect x="116.05" y="197.31" width="1.2" height="0.9" fill="#d2472b" fill-opacity="0.85"/>
<rect x="115.98" y="195.97" width="1.2" height="0.9" fill="#d2472b" fill-opacity="0.85"/>
<rect x="116.44" y="198.02" width="1.2" height="0.9" fill="#d2472b" fill-opacity="0.85"/>
<rect x="115.67" y="195.06" width="1.2" height="0.9" fill="#d2472b" fill-opacity="0.85"/>
<rect x="115.54" y="194.14" width="1.2" height="0.9" fill="#d2472b" fill-opacity="0.85"/>
<rect x="116.56" y="207.07" width="1.2" height="0.9" fill="#d2472b" fill-opacity="0.85"/>
<rect x="116.11" y="203.92" width="1.2" height="0.9" fill="#d2472b" fill-opacity="0.85"/>
<rect x="115.99" y="206.22" width="1.2" height="0.9" fill="#d2472b" fill-opacity="0.85"/>
<rect x="116.62" y="207.95" width="1.2" height="0.9" fill="#d2472b" fill-opacity="0.85"/>
<rect x="116.07" y="207.91" width="1.2" height="0.9" fill="#d2472b" fill-opacity="0.85"/>
<rect x="115.90" y="209.86" width="1.2" height="0.9" fill="#d2472b" fill-opacity="0.85"/>
<rect x="116.29" y="208.22" width="1.2" height="0.9" fill="#d2472b" fill-opacity="0.85"/>
<rect x="116.52" y="208.34" width="1.2" height="0.9" fill="#d2472b" fill-opacity="0.85"/>
<rect x="116.25" y="204.26" width="1.2" height="0.9" fill="#d2472b" fill-opacity="0.85"/>
<line x1="81.70" y1="185.40" x2="81.70" y2="211.55" stroke="#333" stroke-width="0.75" />
<line x1="81.35" y1="211.20" x2="119.90" y2="211.20" stroke="#333" stroke-width="0.75" />
<line x1="80.40" y1="192.00" x2="81.70" y2="192.00" stroke="#333" stroke-width="0.6" />
<text x="79.60" y="194.30" font-size="6.6" fill="#444444" text-anchor="end" >0.6</text>
<line x1="80.40" y1="200.20" x2="81.70" y2="200.20" stroke="#333" stroke-width="0.6" />
<text x="79.60" y="202.50" font-size="6.6" fill="#444444" text-anchor="end" >0.4</text>
<line x1="80.40" y1="208.00" x2="81.70" y2="208.00" stroke="#333" stroke-width="0.6" />
<text x="79.60" y="210.30" font-size="6.6" fill="#444444" text-anchor="end" >0.2</text>
<line x1="85.80" y1="211.20" x2="85.80" y2="212.50" stroke="#333" stroke-width="0.6" />
<text x="85.80" y="218.60" font-size="6.6" fill="#444444" text-anchor="middle" >2</text>
<line x1="95.70" y1="211.20" x2="95.70" y2="212.50" stroke="#333" stroke-width="0.6" />
<text x="95.70" y="218.60" font-size="6.6" fill="#444444" text-anchor="middle" >3</text>
<line x1="105.50" y1="211.20" x2="105.50" y2="212.50" stroke="#333" stroke-width="0.6" />
<text x="105.50" y="218.60" font-size="6.6" fill="#444444" text-anchor="middle" >4</text>
<line x1="115.60" y1="211.20" x2="115.60" y2="212.50" stroke="#333" stroke-width="0.6" />
<text x="115.60" y="218.60" font-size="6.6" fill="#444444" text-anchor="middle" >5</text>
<path d="M49.00,241.20 L77.80,242.60 L106.40,242.40 L135.20,241.10" fill="none" stroke="#3a7dbf" stroke-width="1.1" stroke-opacity="0.7"/>
<path d="M55.00,238.00 L83.60,236.70 L112.40,237.70 L141.20,237.50" fill="none" stroke="#d2472b" stroke-width="1.1" stroke-opacity="0.8"/>
<g stroke="#3a7dbf" stroke-width="1.1" stroke-opacity="0.95"><line x1="49.00" y1="232.60" x2="49.00" y2="250.10"/><line x1="47.50" y1="232.60" x2="50.50" y2="232.60"/><line x1="47.50" y1="250.10" x2="50.50" y2="250.10"/></g>
<circle cx="49.00" cy="241.20" r="2.1" fill="#3a7dbf"/>
<g stroke="#3a7dbf" stroke-width="1.1" stroke-opacity="0.95"><line x1="77.80" y1="234.50" x2="77.80" y2="250.50"/><line x1="76.30" y1="234.50" x2="79.30" y2="234.50"/><line x1="76.30" y1="250.50" x2="79.30" y2="250.50"/></g>
<circle cx="77.80" cy="242.60" r="2.1" fill="#3a7dbf"/>
<g stroke="#3a7dbf" stroke-width="1.1" stroke-opacity="0.95"><line x1="106.40" y1="235.10" x2="106.40" y2="250.00"/><line x1="104.90" y1="235.10" x2="107.90" y2="235.10"/><line x1="104.90" y1="250.00" x2="107.90" y2="250.00"/></g>
<circle cx="106.40" cy="242.40" r="2.1" fill="#3a7dbf"/>
<g stroke="#3a7dbf" stroke-width="1.1" stroke-opacity="0.95"><line x1="135.20" y1="232.10" x2="135.20" y2="249.20"/><line x1="133.70" y1="232.10" x2="136.70" y2="232.10"/><line x1="133.70" y1="249.20" x2="136.70" y2="249.20"/></g>
<circle cx="135.20" cy="241.10" r="2.1" fill="#3a7dbf"/>
<g stroke="#d2472b" stroke-width="1.1" stroke-opacity="0.85"><line x1="55.00" y1="229.20" x2="55.00" y2="247.30"/><line x1="53.50" y1="229.20" x2="56.50" y2="229.20"/><line x1="53.50" y1="247.30" x2="56.50" y2="247.30"/></g>
<circle cx="55.00" cy="238.00" r="2.1" fill="#d2472b"/>
<g stroke="#d2472b" stroke-width="1.1" stroke-opacity="0.85"><line x1="83.60" y1="228.10" x2="83.60" y2="245.40"/><line x1="82.10" y1="228.10" x2="85.10" y2="228.10"/><line x1="82.10" y1="245.40" x2="85.10" y2="245.40"/></g>
<circle cx="83.60" cy="236.70" r="2.1" fill="#d2472b"/>
<g stroke="#d2472b" stroke-width="1.1" stroke-opacity="0.85"><line x1="112.40" y1="228.30" x2="112.40" y2="246.90"/><line x1="110.90" y1="228.30" x2="113.90" y2="228.30"/><line x1="110.90" y1="246.90" x2="113.90" y2="246.90"/></g>
<circle cx="112.40" cy="237.70" r="2.1" fill="#d2472b"/>
<g stroke="#d2472b" stroke-width="1.1" stroke-opacity="0.85"><line x1="141.20" y1="228.30" x2="141.20" y2="246.00"/><line x1="139.70" y1="228.30" x2="142.70" y2="228.30"/><line x1="139.70" y1="246.00" x2="142.70" y2="246.00"/></g>
<circle cx="141.20" cy="237.50" r="2.1" fill="#d2472b"/>
<line x1="218.00" y1="52.50" x2="218.00" y2="135.85" stroke="#333333" stroke-width="0.75" />
<line x1="217.75" y1="135.60" x2="329.50" y2="135.60" stroke="#333333" stroke-width="0.75" />
<line x1="216.70" y1="67.40" x2="218.00" y2="67.40" stroke="#333333" stroke-width="0.75" />
<text x="215.00" y="70.96" font-size="7.9" fill="#444444" text-anchor="end" >16</text>
<line x1="216.70" y1="86.00" x2="218.00" y2="86.00" stroke="#333333" stroke-width="0.75" />
<text x="215.00" y="89.56" font-size="7.9" fill="#444444" text-anchor="end" >15</text>
<line x1="216.70" y1="104.60" x2="218.00" y2="104.60" stroke="#333333" stroke-width="0.75" />
<text x="215.00" y="108.16" font-size="7.9" fill="#444444" text-anchor="end" >14</text>
<line x1="216.70" y1="122.90" x2="218.00" y2="122.90" stroke="#333333" stroke-width="0.75" />
<text x="215.00" y="126.46" font-size="7.9" fill="#444444" text-anchor="end" >13</text>
<line x1="229.00" y1="135.60" x2="229.00" y2="136.90" stroke="#333333" stroke-width="0.75" />
<text x="229.00" y="144.30" font-size="7.9" fill="#444444" text-anchor="middle" >2</text>
<line x1="259.00" y1="135.60" x2="259.00" y2="136.90" stroke="#333333" stroke-width="0.75" />
<text x="259.00" y="144.30" font-size="7.9" fill="#444444" text-anchor="middle" >3</text>
<line x1="288.60" y1="135.60" x2="288.60" y2="136.90" stroke="#333333" stroke-width="0.75" />
<text x="288.60" y="144.30" font-size="7.9" fill="#444444" text-anchor="middle" >4</text>
<line x1="318.60" y1="135.60" x2="318.60" y2="136.90" stroke="#333333" stroke-width="0.75" />
<text x="318.60" y="144.30" font-size="7.9" fill="#444444" text-anchor="middle" >5</text>
<text x="273.75" y="153.60" font-size="8.2" fill="#1a1a1a" text-anchor="middle" >Block</text>
<text transform="translate(202.60,94.20) rotate(-90)" font-size="8.2" fill="#111" stroke="#111" stroke-width="0.12" text-anchor="middle">Fitted alpha power (dB)</text>
<rect x="247.00" y="51.00" width="54.10" height="41.80" fill="#efefef"/>
<rect x="260.05" y="63.26" width="1.2" height="0.9" fill="#3a7dbf" fill-opacity="0.85"/>
<rect x="260.12" y="66.43" width="1.2" height="0.9" fill="#3a7dbf" fill-opacity="0.85"/>
<rect x="259.48" y="72.57" width="1.2" height="0.9" fill="#3a7dbf" fill-opacity="0.85"/>
<rect x="260.40" y="57.87" width="1.2" height="0.9" fill="#3a7dbf" fill-opacity="0.85"/>
<rect x="259.68" y="63.77" width="1.2" height="0.9" fill="#3a7dbf" fill-opacity="0.85"/>
<rect x="259.96" y="81.45" width="1.2" height="0.9" fill="#3a7dbf" fill-opacity="0.85"/>
<rect x="259.97" y="77.63" width="1.2" height="0.9" fill="#3a7dbf" fill-opacity="0.85"/>
<rect x="259.58" y="72.89" width="1.2" height="0.9" fill="#3a7dbf" fill-opacity="0.85"/>
<rect x="260.44" y="72.79" width="1.2" height="0.9" fill="#3a7dbf" fill-opacity="0.85"/>
<rect x="260.29" y="70.11" width="1.2" height="0.9" fill="#3a7dbf" fill-opacity="0.85"/>
<rect x="259.48" y="73.66" width="1.2" height="0.9" fill="#3a7dbf" fill-opacity="0.85"/>
<rect x="260.11" y="75.75" width="1.2" height="0.9" fill="#3a7dbf" fill-opacity="0.85"/>
<rect x="259.44" y="64.78" width="1.2" height="0.9" fill="#3a7dbf" fill-opacity="0.85"/>
<rect x="259.97" y="78.32" width="1.2" height="0.9" fill="#3a7dbf" fill-opacity="0.85"/>
<rect x="260.45" y="74.80" width="1.2" height="0.9" fill="#3a7dbf" fill-opacity="0.85"/>
<rect x="260.51" y="74.69" width="1.2" height="0.9" fill="#3a7dbf" fill-opacity="0.85"/>
<rect x="260.36" y="67.03" width="1.2" height="0.9" fill="#3a7dbf" fill-opacity="0.85"/>
<rect x="260.52" y="68.22" width="1.2" height="0.9" fill="#3a7dbf" fill-opacity="0.85"/>
<rect x="259.52" y="78.64" width="1.2" height="0.9" fill="#3a7dbf" fill-opacity="0.85"/>
<rect x="259.66" y="60.81" width="1.2" height="0.9" fill="#3a7dbf" fill-opacity="0.85"/>
<rect x="259.92" y="80.72" width="1.2" height="0.9" fill="#3a7dbf" fill-opacity="0.85"/>
<rect x="259.76" y="72.59" width="1.2" height="0.9" fill="#3a7dbf" fill-opacity="0.85"/>
<rect x="262.06" y="68.71" width="1.2" height="0.9" fill="#d2472b" fill-opacity="0.85"/>
<rect x="262.30" y="65.27" width="1.2" height="0.9" fill="#d2472b" fill-opacity="0.85"/>
<rect x="262.69" y="70.40" width="1.2" height="0.9" fill="#d2472b" fill-opacity="0.85"/>
<rect x="262.71" y="72.55" width="1.2" height="0.9" fill="#d2472b" fill-opacity="0.85"/>
<rect x="262.79" y="76.39" width="1.2" height="0.9" fill="#d2472b" fill-opacity="0.85"/>
<rect x="261.80" y="72.32" width="1.2" height="0.9" fill="#d2472b" fill-opacity="0.85"/>
<rect x="262.76" y="76.48" width="1.2" height="0.9" fill="#d2472b" fill-opacity="0.85"/>
<rect x="262.28" y="77.45" width="1.2" height="0.9" fill="#d2472b" fill-opacity="0.85"/>
<rect x="261.85" y="73.25" width="1.2" height="0.9" fill="#d2472b" fill-opacity="0.85"/>
<rect x="262.29" y="75.85" width="1.2" height="0.9" fill="#d2472b" fill-opacity="0.85"/>
<rect x="261.68" y="63.82" width="1.2" height="0.9" fill="#d2472b" fill-opacity="0.85"/>
<rect x="262.79" y="76.34" width="1.2" height="0.9" fill="#d2472b" fill-opacity="0.85"/>
<rect x="262.56" y="59.50" width="1.2" height="0.9" fill="#d2472b" fill-opacity="0.85"/>
<rect x="261.78" y="66.58" width="1.2" height="0.9" fill="#d2472b" fill-opacity="0.85"/>
<rect x="262.52" y="64.02" width="1.2" height="0.9" fill="#d2472b" fill-opacity="0.85"/>
<rect x="261.65" y="76.75" width="1.2" height="0.9" fill="#d2472b" fill-opacity="0.85"/>
<rect x="261.65" y="71.07" width="1.2" height="0.9" fill="#d2472b" fill-opacity="0.85"/>
<rect x="262.00" y="73.36" width="1.2" height="0.9" fill="#d2472b" fill-opacity="0.85"/>
<rect x="262.78" y="76.93" width="1.2" height="0.9" fill="#d2472b" fill-opacity="0.85"/>
<rect x="262.80" y="68.67" width="1.2" height="0.9" fill="#d2472b" fill-opacity="0.85"/>
<rect x="261.69" y="64.36" width="1.2" height="0.9" fill="#d2472b" fill-opacity="0.85"/>
<rect x="261.64" y="70.74" width="1.2" height="0.9" fill="#d2472b" fill-opacity="0.85"/>
<rect x="270.79" y="62.29" width="1.2" height="0.9" fill="#3a7dbf" fill-opacity="0.85"/>
<rect x="270.49" y="72.20" width="1.2" height="0.9" fill="#3a7dbf" fill-opacity="0.85"/>
<rect x="271.34" y="58.57" width="1.2" height="0.9" fill="#3a7dbf" fill-opacity="0.85"/>
<rect x="271.45" y="65.08" width="1.2" height="0.9" fill="#3a7dbf" fill-opacity="0.85"/>
<rect x="270.75" y="79.07" width="1.2" height="0.9" fill="#3a7dbf" fill-opacity="0.85"/>
<rect x="270.92" y="68.60" width="1.2" height="0.9" fill="#3a7dbf" fill-opacity="0.85"/>
<rect x="271.01" y="73.00" width="1.2" height="0.9" fill="#3a7dbf" fill-opacity="0.85"/>
<rect x="271.04" y="70.97" width="1.2" height="0.9" fill="#3a7dbf" fill-opacity="0.85"/>
<rect x="270.91" y="80.12" width="1.2" height="0.9" fill="#3a7dbf" fill-opacity="0.85"/>
<rect x="271.16" y="67.90" width="1.2" height="0.9" fill="#3a7dbf" fill-opacity="0.85"/>
<rect x="270.66" y="63.25" width="1.2" height="0.9" fill="#3a7dbf" fill-opacity="0.85"/>
<rect x="270.93" y="81.02" width="1.2" height="0.9" fill="#3a7dbf" fill-opacity="0.85"/>
<rect x="270.31" y="70.71" width="1.2" height="0.9" fill="#3a7dbf" fill-opacity="0.85"/>
<rect x="271.00" y="67.52" width="1.2" height="0.9" fill="#3a7dbf" fill-opacity="0.85"/>
<rect x="271.04" y="58.03" width="1.2" height="0.9" fill="#3a7dbf" fill-opacity="0.85"/>
<rect x="270.37" y="72.72" width="1.2" height="0.9" fill="#3a7dbf" fill-opacity="0.85"/>
<rect x="270.86" y="72.61" width="1.2" height="0.9" fill="#3a7dbf" fill-opacity="0.85"/>
<rect x="270.72" y="73.85" width="1.2" height="0.9" fill="#3a7dbf" fill-opacity="0.85"/>
<rect x="271.19" y="74.52" width="1.2" height="0.9" fill="#3a7dbf" fill-opacity="0.85"/>
<rect x="270.37" y="58.08" width="1.2" height="0.9" fill="#3a7dbf" fill-opacity="0.85"/>
<rect x="271.46" y="73.77" width="1.2" height="0.9" fill="#3a7dbf" fill-opacity="0.85"/>
<rect x="270.85" y="63.58" width="1.2" height="0.9" fill="#3a7dbf" fill-opacity="0.85"/>
<rect x="272.88" y="70.59" width="1.2" height="0.9" fill="#d2472b" fill-opacity="0.85"/>
<rect x="272.88" y="65.56" width="1.2" height="0.9" fill="#d2472b" fill-opacity="0.85"/>
<rect x="273.21" y="65.67" width="1.2" height="0.9" fill="#d2472b" fill-opacity="0.85"/>
<rect x="272.95" y="64.16" width="1.2" height="0.9" fill="#d2472b" fill-opacity="0.85"/>
<rect x="272.53" y="74.54" width="1.2" height="0.9" fill="#d2472b" fill-opacity="0.85"/>
<rect x="273.38" y="70.07" width="1.2" height="0.9" fill="#d2472b" fill-opacity="0.85"/>
<rect x="272.77" y="64.37" width="1.2" height="0.9" fill="#d2472b" fill-opacity="0.85"/>
<rect x="272.79" y="75.23" width="1.2" height="0.9" fill="#d2472b" fill-opacity="0.85"/>
<rect x="273.02" y="61.67" width="1.2" height="0.9" fill="#d2472b" fill-opacity="0.85"/>
<rect x="272.62" y="72.91" width="1.2" height="0.9" fill="#d2472b" fill-opacity="0.85"/>
<rect x="272.90" y="64.63" width="1.2" height="0.9" fill="#d2472b" fill-opacity="0.85"/>
<rect x="273.03" y="75.89" width="1.2" height="0.9" fill="#d2472b" fill-opacity="0.85"/>
<rect x="272.70" y="76.37" width="1.2" height="0.9" fill="#d2472b" fill-opacity="0.85"/>
<rect x="273.28" y="64.96" width="1.2" height="0.9" fill="#d2472b" fill-opacity="0.85"/>
<rect x="273.04" y="77.02" width="1.2" height="0.9" fill="#d2472b" fill-opacity="0.85"/>
<rect x="272.65" y="62.50" width="1.2" height="0.9" fill="#d2472b" fill-opacity="0.85"/>
<rect x="272.73" y="69.20" width="1.2" height="0.9" fill="#d2472b" fill-opacity="0.85"/>
<rect x="273.51" y="75.30" width="1.2" height="0.9" fill="#d2472b" fill-opacity="0.85"/>
<rect x="272.83" y="61.59" width="1.2" height="0.9" fill="#d2472b" fill-opacity="0.85"/>
<rect x="273.27" y="75.31" width="1.2" height="0.9" fill="#d2472b" fill-opacity="0.85"/>
<rect x="272.91" y="75.29" width="1.2" height="0.9" fill="#d2472b" fill-opacity="0.85"/>
<rect x="272.85" y="60.40" width="1.2" height="0.9" fill="#d2472b" fill-opacity="0.85"/>
<rect x="281.83" y="76.60" width="1.2" height="0.9" fill="#3a7dbf" fill-opacity="0.85"/>
<rect x="282.00" y="65.86" width="1.2" height="0.9" fill="#3a7dbf" fill-opacity="0.85"/>
<rect x="281.99" y="67.62" width="1.2" height="0.9" fill="#3a7dbf" fill-opacity="0.85"/>
<rect x="281.69" y="79.64" width="1.2" height="0.9" fill="#3a7dbf" fill-opacity="0.85"/>
<rect x="282.63" y="57.66" width="1.2" height="0.9" fill="#3a7dbf" fill-opacity="0.85"/>
<rect x="282.68" y="78.67" width="1.2" height="0.9" fill="#3a7dbf" fill-opacity="0.85"/>
<rect x="282.64" y="67.97" width="1.2" height="0.9" fill="#3a7dbf" fill-opacity="0.85"/>
<rect x="281.77" y="79.81" width="1.2" height="0.9" fill="#3a7dbf" fill-opacity="0.85"/>
<rect x="282.50" y="75.44" width="1.2" height="0.9" fill="#3a7dbf" fill-opacity="0.85"/>
<rect x="282.12" y="73.46" width="1.2" height="0.9" fill="#3a7dbf" fill-opacity="0.85"/>
<rect x="281.91" y="64.49" width="1.2" height="0.9" fill="#3a7dbf" fill-opacity="0.85"/>
<rect x="281.58" y="63.01" width="1.2" height="0.9" fill="#3a7dbf" fill-opacity="0.85"/>
<rect x="281.84" y="71.68" width="1.2" height="0.9" fill="#3a7dbf" fill-opacity="0.85"/>
<rect x="281.55" y="76.99" width="1.2" height="0.9" fill="#3a7dbf" fill-opacity="0.85"/>
<rect x="282.33" y="79.24" width="1.2" height="0.9" fill="#3a7dbf" fill-opacity="0.85"/>
<rect x="282.58" y="79.72" width="1.2" height="0.9" fill="#3a7dbf" fill-opacity="0.85"/>
<rect x="282.19" y="79.14" width="1.2" height="0.9" fill="#3a7dbf" fill-opacity="0.85"/>
<rect x="282.39" y="57.87" width="1.2" height="0.9" fill="#3a7dbf" fill-opacity="0.85"/>
<rect x="281.86" y="61.67" width="1.2" height="0.9" fill="#3a7dbf" fill-opacity="0.85"/>
<rect x="282.13" y="73.46" width="1.2" height="0.9" fill="#3a7dbf" fill-opacity="0.85"/>
<rect x="282.63" y="67.48" width="1.2" height="0.9" fill="#3a7dbf" fill-opacity="0.85"/>
<rect x="281.91" y="72.24" width="1.2" height="0.9" fill="#3a7dbf" fill-opacity="0.85"/>
<rect x="284.73" y="63.10" width="1.2" height="0.9" fill="#d2472b" fill-opacity="0.85"/>
<rect x="284.64" y="68.05" width="1.2" height="0.9" fill="#d2472b" fill-opacity="0.85"/>
<rect x="283.94" y="65.29" width="1.2" height="0.9" fill="#d2472b" fill-opacity="0.85"/>
<rect x="284.68" y="69.31" width="1.2" height="0.9" fill="#d2472b" fill-opacity="0.85"/>
<rect x="284.65" y="61.32" width="1.2" height="0.9" fill="#d2472b" fill-opacity="0.85"/>
<rect x="284.67" y="77.83" width="1.2" height="0.9" fill="#d2472b" fill-opacity="0.85"/>
<rect x="283.71" y="75.67" width="1.2" height="0.9" fill="#d2472b" fill-opacity="0.85"/>
<rect x="284.74" y="71.38" width="1.2" height="0.9" fill="#d2472b" fill-opacity="0.85"/>
<rect x="284.03" y="58.65" width="1.2" height="0.9" fill="#d2472b" fill-opacity="0.85"/>
<rect x="284.33" y="63.46" width="1.2" height="0.9" fill="#d2472b" fill-opacity="0.85"/>
<rect x="284.27" y="66.86" width="1.2" height="0.9" fill="#d2472b" fill-opacity="0.85"/>
<rect x="283.70" y="74.63" width="1.2" height="0.9" fill="#d2472b" fill-opacity="0.85"/>
<rect x="283.85" y="58.76" width="1.2" height="0.9" fill="#d2472b" fill-opacity="0.85"/>
<rect x="283.78" y="60.29" width="1.2" height="0.9" fill="#d2472b" fill-opacity="0.85"/>
<rect x="284.73" y="78.99" width="1.2" height="0.9" fill="#d2472b" fill-opacity="0.85"/>
<rect x="284.30" y="59.44" width="1.2" height="0.9" fill="#d2472b" fill-opacity="0.85"/>
<rect x="284.08" y="64.50" width="1.2" height="0.9" fill="#d2472b" fill-opacity="0.85"/>
<rect x="284.48" y="65.28" width="1.2" height="0.9" fill="#d2472b" fill-opacity="0.85"/>
<rect x="284.13" y="70.46" width="1.2" height="0.9" fill="#d2472b" fill-opacity="0.85"/>
<rect x="284.09" y="61.75" width="1.2" height="0.9" fill="#d2472b" fill-opacity="0.85"/>
<rect x="284.37" y="60.27" width="1.2" height="0.9" fill="#d2472b" fill-opacity="0.85"/>
<rect x="284.16" y="73.30" width="1.2" height="0.9" fill="#d2472b" fill-opacity="0.85"/>
<rect x="292.61" y="59.47" width="1.2" height="0.9" fill="#3a7dbf" fill-opacity="0.85"/>
<rect x="293.13" y="66.51" width="1.2" height="0.9" fill="#3a7dbf" fill-opacity="0.85"/>
<rect x="292.86" y="76.33" width="1.2" height="0.9" fill="#3a7dbf" fill-opacity="0.85"/>
<rect x="293.15" y="76.78" width="1.2" height="0.9" fill="#3a7dbf" fill-opacity="0.85"/>
<rect x="292.85" y="67.91" width="1.2" height="0.9" fill="#3a7dbf" fill-opacity="0.85"/>
<rect x="293.24" y="69.46" width="1.2" height="0.9" fill="#3a7dbf" fill-opacity="0.85"/>
<rect x="293.23" y="67.64" width="1.2" height="0.9" fill="#3a7dbf" fill-opacity="0.85"/>
<rect x="292.69" y="68.61" width="1.2" height="0.9" fill="#3a7dbf" fill-opacity="0.85"/>
<rect x="293.23" y="70.41" width="1.2" height="0.9" fill="#3a7dbf" fill-opacity="0.85"/>
<rect x="292.91" y="59.27" width="1.2" height="0.9" fill="#3a7dbf" fill-opacity="0.85"/>
<rect x="293.46" y="67.77" width="1.2" height="0.9" fill="#3a7dbf" fill-opacity="0.85"/>
<rect x="292.85" y="80.03" width="1.2" height="0.9" fill="#3a7dbf" fill-opacity="0.85"/>
<rect x="293.35" y="79.10" width="1.2" height="0.9" fill="#3a7dbf" fill-opacity="0.85"/>
<rect x="292.96" y="63.84" width="1.2" height="0.9" fill="#3a7dbf" fill-opacity="0.85"/>
<rect x="293.38" y="60.51" width="1.2" height="0.9" fill="#3a7dbf" fill-opacity="0.85"/>
<rect x="293.46" y="73.44" width="1.2" height="0.9" fill="#3a7dbf" fill-opacity="0.85"/>
<rect x="293.20" y="76.57" width="1.2" height="0.9" fill="#3a7dbf" fill-opacity="0.85"/>
<rect x="293.08" y="75.16" width="1.2" height="0.9" fill="#3a7dbf" fill-opacity="0.85"/>
<rect x="293.11" y="60.03" width="1.2" height="0.9" fill="#3a7dbf" fill-opacity="0.85"/>
<rect x="292.57" y="57.67" width="1.2" height="0.9" fill="#3a7dbf" fill-opacity="0.85"/>
<rect x="292.45" y="76.13" width="1.2" height="0.9" fill="#3a7dbf" fill-opacity="0.85"/>
<rect x="292.52" y="59.75" width="1.2" height="0.9" fill="#3a7dbf" fill-opacity="0.85"/>
<rect x="294.81" y="76.92" width="1.2" height="0.9" fill="#d2472b" fill-opacity="0.85"/>
<rect x="295.61" y="58.07" width="1.2" height="0.9" fill="#d2472b" fill-opacity="0.85"/>
<rect x="295.61" y="60.22" width="1.2" height="0.9" fill="#d2472b" fill-opacity="0.85"/>
<rect x="295.60" y="72.37" width="1.2" height="0.9" fill="#d2472b" fill-opacity="0.85"/>
<rect x="295.29" y="78.50" width="1.2" height="0.9" fill="#d2472b" fill-opacity="0.85"/>
<rect x="294.64" y="75.12" width="1.2" height="0.9" fill="#d2472b" fill-opacity="0.85"/>
<rect x="295.21" y="74.43" width="1.2" height="0.9" fill="#d2472b" fill-opacity="0.85"/>
<rect x="294.73" y="73.28" width="1.2" height="0.9" fill="#d2472b" fill-opacity="0.85"/>
<rect x="295.72" y="74.03" width="1.2" height="0.9" fill="#d2472b" fill-opacity="0.85"/>
<rect x="294.99" y="58.90" width="1.2" height="0.9" fill="#d2472b" fill-opacity="0.85"/>
<rect x="295.59" y="69.96" width="1.2" height="0.9" fill="#d2472b" fill-opacity="0.85"/>
<rect x="294.82" y="62.88" width="1.2" height="0.9" fill="#d2472b" fill-opacity="0.85"/>
<rect x="295.34" y="63.05" width="1.2" height="0.9" fill="#d2472b" fill-opacity="0.85"/>
<rect x="295.07" y="74.13" width="1.2" height="0.9" fill="#d2472b" fill-opacity="0.85"/>
<rect x="295.08" y="65.63" width="1.2" height="0.9" fill="#d2472b" fill-opacity="0.85"/>
<rect x="295.10" y="65.26" width="1.2" height="0.9" fill="#d2472b" fill-opacity="0.85"/>
<rect x="295.20" y="59.38" width="1.2" height="0.9" fill="#d2472b" fill-opacity="0.85"/>
<rect x="295.10" y="78.96" width="1.2" height="0.9" fill="#d2472b" fill-opacity="0.85"/>
<rect x="294.79" y="73.99" width="1.2" height="0.9" fill="#d2472b" fill-opacity="0.85"/>
<rect x="295.51" y="72.75" width="1.2" height="0.9" fill="#d2472b" fill-opacity="0.85"/>
<rect x="295.22" y="72.37" width="1.2" height="0.9" fill="#d2472b" fill-opacity="0.85"/>
<rect x="295.37" y="68.19" width="1.2" height="0.9" fill="#d2472b" fill-opacity="0.85"/>
<line x1="257.40" y1="56.50" x2="257.40" y2="83.55" stroke="#333" stroke-width="0.75" />
<line x1="257.05" y1="83.20" x2="299.00" y2="83.20" stroke="#333" stroke-width="0.75" />
<line x1="256.10" y1="59.20" x2="257.40" y2="59.20" stroke="#333" stroke-width="0.6" />
<text x="255.30" y="61.50" font-size="6.6" fill="#444444" text-anchor="end" >20</text>
<line x1="256.10" y1="68.30" x2="257.40" y2="68.30" stroke="#333" stroke-width="0.6" />
<text x="255.30" y="70.60" font-size="6.6" fill="#444444" text-anchor="end" >15</text>
<line x1="256.10" y1="77.30" x2="257.40" y2="77.30" stroke="#333" stroke-width="0.6" />
<text x="255.30" y="79.60" font-size="6.6" fill="#444444" text-anchor="end" >10</text>
<line x1="261.70" y1="83.20" x2="261.70" y2="84.50" stroke="#333" stroke-width="0.6" />
<text x="261.70" y="90.60" font-size="6.6" fill="#444444" text-anchor="middle" >2</text>
<line x1="272.60" y1="83.20" x2="272.60" y2="84.50" stroke="#333" stroke-width="0.6" />
<text x="272.60" y="90.60" font-size="6.6" fill="#444444" text-anchor="middle" >3</text>
<line x1="283.80" y1="83.20" x2="283.80" y2="84.50" stroke="#333" stroke-width="0.6" />
<text x="283.80" y="90.60" font-size="6.6" fill="#444444" text-anchor="middle" >4</text>
<line x1="294.70" y1="83.20" x2="294.70" y2="84.50" stroke="#333" stroke-width="0.6" />
<text x="294.70" y="90.60" font-size="6.6" fill="#444444" text-anchor="middle" >5</text>
<path d="M225.80,120.00 L256.00,117.10 L285.80,112.80 L315.50,108.10" fill="none" stroke="#3a7dbf" stroke-width="1.1" stroke-opacity="0.7"/>
<path d="M231.80,113.70 L262.20,114.90 L291.80,118.80 L321.60,118.80" fill="none" stroke="#d2472b" stroke-width="1.1" stroke-opacity="0.8"/>
<g stroke="#3a7dbf" stroke-width="1.1" stroke-opacity="0.95"><line x1="225.80" y1="113.20" x2="225.80" y2="126.40"/><line x1="224.30" y1="113.20" x2="227.30" y2="113.20"/><line x1="224.30" y1="126.40" x2="227.30" y2="126.40"/></g>
<circle cx="225.80" cy="120.00" r="2.1" fill="#3a7dbf"/>
<g stroke="#3a7dbf" stroke-width="1.1" stroke-opacity="0.95"><line x1="256.00" y1="110.70" x2="256.00" y2="124.30"/><line x1="254.50" y1="110.70" x2="257.50" y2="110.70"/><line x1="254.50" y1="124.30" x2="257.50" y2="124.30"/></g>
<circle cx="256.00" cy="117.10" r="2.1" fill="#3a7dbf"/>
<g stroke="#3a7dbf" stroke-width="1.1" stroke-opacity="0.95"><line x1="285.80" y1="106.40" x2="285.80" y2="119.20"/><line x1="284.30" y1="106.40" x2="287.30" y2="106.40"/><line x1="284.30" y1="119.20" x2="287.30" y2="119.20"/></g>
<circle cx="285.80" cy="112.80" r="2.1" fill="#3a7dbf"/>
<g stroke="#3a7dbf" stroke-width="1.1" stroke-opacity="0.95"><line x1="315.50" y1="101.50" x2="315.50" y2="115.40"/><line x1="314.00" y1="101.50" x2="317.00" y2="101.50"/><line x1="314.00" y1="115.40" x2="317.00" y2="115.40"/></g>
<circle cx="315.50" cy="108.10" r="2.1" fill="#3a7dbf"/>
<g stroke="#d2472b" stroke-width="1.1" stroke-opacity="0.85"><line x1="231.80" y1="105.80" x2="231.80" y2="121.10"/><line x1="230.30" y1="105.80" x2="233.30" y2="105.80"/><line x1="230.30" y1="121.10" x2="233.30" y2="121.10"/></g>
<circle cx="231.80" cy="113.70" r="2.1" fill="#d2472b"/>
<g stroke="#d2472b" stroke-width="1.1" stroke-opacity="0.85"><line x1="262.20" y1="107.50" x2="262.20" y2="122.80"/><line x1="260.70" y1="107.50" x2="263.70" y2="107.50"/><line x1="260.70" y1="122.80" x2="263.70" y2="122.80"/></g>
<circle cx="262.20" cy="114.90" r="2.1" fill="#d2472b"/>
<g stroke="#d2472b" stroke-width="1.1" stroke-opacity="0.85"><line x1="291.80" y1="110.70" x2="291.80" y2="126.40"/><line x1="290.30" y1="110.70" x2="293.30" y2="110.70"/><line x1="290.30" y1="126.40" x2="293.30" y2="126.40"/></g>
<circle cx="291.80" cy="118.80" r="2.1" fill="#d2472b"/>
<g stroke="#d2472b" stroke-width="1.1" stroke-opacity="0.85"><line x1="321.60" y1="110.70" x2="321.60" y2="126.70"/><line x1="320.10" y1="110.70" x2="323.10" y2="110.70"/><line x1="320.10" y1="126.70" x2="323.10" y2="126.70"/></g>
<circle cx="321.60" cy="118.80" r="2.1" fill="#d2472b"/>
<path d="M318.85,94.60 L318.85,92.00 M318.85,94.60 L321.32,93.80 M318.85,94.60 L320.38,96.70 M318.85,94.60 L317.32,96.70 M318.85,94.60 L316.38,93.80 " stroke="#d2472b" stroke-width="1.5" stroke-linecap="round" fill="none"/>
<line x1="218.00" y1="181.40" x2="218.00" y2="264.65" stroke="#333333" stroke-width="0.75" />
<line x1="217.75" y1="264.40" x2="329.50" y2="264.40" stroke="#333333" stroke-width="0.75" />
<line x1="216.70" y1="196.30" x2="218.00" y2="196.30" stroke="#333333" stroke-width="0.75" />
<text x="215.00" y="199.86" font-size="7.9" fill="#444444" text-anchor="end" >16</text>
<line x1="216.70" y1="214.80" x2="218.00" y2="214.80" stroke="#333333" stroke-width="0.75" />
<text x="215.00" y="218.36" font-size="7.9" fill="#444444" text-anchor="end" >15</text>
<line x1="216.70" y1="233.20" x2="218.00" y2="233.20" stroke="#333333" stroke-width="0.75" />
<text x="215.00" y="236.76" font-size="7.9" fill="#444444" text-anchor="end" >14</text>
<line x1="216.70" y1="251.40" x2="218.00" y2="251.40" stroke="#333333" stroke-width="0.75" />
<text x="215.00" y="254.96" font-size="7.9" fill="#444444" text-anchor="end" >13</text>
<line x1="229.00" y1="264.40" x2="229.00" y2="265.70" stroke="#333333" stroke-width="0.75" />
<text x="229.00" y="273.10" font-size="7.9" fill="#444444" text-anchor="middle" >2</text>
<line x1="259.00" y1="264.40" x2="259.00" y2="265.70" stroke="#333333" stroke-width="0.75" />
<text x="259.00" y="273.10" font-size="7.9" fill="#444444" text-anchor="middle" >3</text>
<line x1="288.60" y1="264.40" x2="288.60" y2="265.70" stroke="#333333" stroke-width="0.75" />
<text x="288.60" y="273.10" font-size="7.9" fill="#444444" text-anchor="middle" >4</text>
<line x1="318.60" y1="264.40" x2="318.60" y2="265.70" stroke="#333333" stroke-width="0.75" />
<text x="318.60" y="273.10" font-size="7.9" fill="#444444" text-anchor="middle" >5</text>
<text x="273.55" y="281.90" font-size="8.2" fill="#1a1a1a" text-anchor="middle" >Block</text>
<text transform="translate(202.60,223.00) rotate(-90)" font-size="8.2" fill="#111" stroke="#111" stroke-width="0.12" text-anchor="middle">Fitted alpha power (dB)</text>
<rect x="247.00" y="178.70" width="54.10" height="42.10" fill="#efefef"/>
<rect x="260.30" y="187.30" width="1.2" height="1.0" fill="#3a7dbf" fill-opacity="0.85"/>
<rect x="259.82" y="193.62" width="1.2" height="0.9" fill="#3a7dbf" fill-opacity="0.85"/>
<rect x="259.89" y="195.70" width="1.2" height="0.9" fill="#3a7dbf" fill-opacity="0.85"/>
<rect x="260.18" y="191.41" width="1.2" height="0.9" fill="#3a7dbf" fill-opacity="0.85"/>
<rect x="260.66" y="202.48" width="1.2" height="0.9" fill="#3a7dbf" fill-opacity="0.85"/>
<rect x="259.97" y="200.50" width="1.2" height="0.9" fill="#3a7dbf" fill-opacity="0.85"/>
<rect x="260.03" y="197.53" width="1.2" height="0.9" fill="#3a7dbf" fill-opacity="0.85"/>
<rect x="259.83" y="192.79" width="1.2" height="0.9" fill="#3a7dbf" fill-opacity="0.85"/>
<rect x="260.81" y="193.34" width="1.2" height="0.9" fill="#3a7dbf" fill-opacity="0.85"/>
<rect x="260.67" y="201.33" width="1.2" height="0.9" fill="#3a7dbf" fill-opacity="0.85"/>
<rect x="259.93" y="200.96" width="1.2" height="0.9" fill="#3a7dbf" fill-opacity="0.85"/>
<rect x="260.45" y="194.58" width="1.2" height="0.9" fill="#3a7dbf" fill-opacity="0.85"/>
<rect x="260.73" y="200.06" width="1.2" height="0.9" fill="#3a7dbf" fill-opacity="0.85"/>
<rect x="259.80" y="201.99" width="1.2" height="0.9" fill="#3a7dbf" fill-opacity="0.85"/>
<rect x="260.51" y="198.43" width="1.2" height="0.9" fill="#3a7dbf" fill-opacity="0.85"/>
<rect x="260.30" y="206.70" width="1.2" height="1.0" fill="#3a7dbf" fill-opacity="0.85"/>
<rect x="262.11" y="197.37" width="1.2" height="0.9" fill="#d2472b" fill-opacity="0.85"/>
<rect x="262.01" y="196.97" width="1.2" height="0.9" fill="#d2472b" fill-opacity="0.85"/>
<rect x="262.94" y="202.73" width="1.2" height="0.9" fill="#d2472b" fill-opacity="0.85"/>
<rect x="262.26" y="197.90" width="1.2" height="0.9" fill="#d2472b" fill-opacity="0.85"/>
<rect x="262.59" y="202.41" width="1.2" height="0.9" fill="#d2472b" fill-opacity="0.85"/>
<rect x="262.92" y="202.08" width="1.2" height="0.9" fill="#d2472b" fill-opacity="0.85"/>
<rect x="262.40" y="197.40" width="1.2" height="0.9" fill="#d2472b" fill-opacity="0.85"/>
<rect x="262.42" y="198.54" width="1.2" height="0.9" fill="#d2472b" fill-opacity="0.85"/>
<rect x="262.27" y="193.07" width="1.2" height="0.9" fill="#d2472b" fill-opacity="0.85"/>
<rect x="261.95" y="201.21" width="1.2" height="0.9" fill="#d2472b" fill-opacity="0.85"/>
<rect x="262.65" y="191.63" width="1.2" height="0.9" fill="#d2472b" fill-opacity="0.85"/>
<rect x="262.54" y="194.56" width="1.2" height="0.9" fill="#d2472b" fill-opacity="0.85"/>
<rect x="262.31" y="196.94" width="1.2" height="0.9" fill="#d2472b" fill-opacity="0.85"/>
<rect x="262.13" y="203.52" width="1.2" height="0.9" fill="#d2472b" fill-opacity="0.85"/>
<rect x="262.50" y="210.20" width="1.2" height="1.0" fill="#d2472b" fill-opacity="0.85"/>
<rect x="271.20" y="187.30" width="1.2" height="1.0" fill="#3a7dbf" fill-opacity="0.85"/>
<rect x="270.84" y="195.92" width="1.2" height="0.9" fill="#3a7dbf" fill-opacity="0.85"/>
<rect x="270.93" y="198.77" width="1.2" height="0.9" fill="#3a7dbf" fill-opacity="0.85"/>
<rect x="271.50" y="195.18" width="1.2" height="0.9" fill="#3a7dbf" fill-opacity="0.85"/>
<rect x="271.27" y="194.72" width="1.2" height="0.9" fill="#3a7dbf" fill-opacity="0.85"/>
<rect x="270.72" y="202.31" width="1.2" height="0.9" fill="#3a7dbf" fill-opacity="0.85"/>
<rect x="270.87" y="191.35" width="1.2" height="0.9" fill="#3a7dbf" fill-opacity="0.85"/>
<rect x="271.34" y="200.50" width="1.2" height="0.9" fill="#3a7dbf" fill-opacity="0.85"/>
<rect x="271.00" y="193.64" width="1.2" height="0.9" fill="#3a7dbf" fill-opacity="0.85"/>
<rect x="271.15" y="192.86" width="1.2" height="0.9" fill="#3a7dbf" fill-opacity="0.85"/>
<rect x="271.44" y="191.11" width="1.2" height="0.9" fill="#3a7dbf" fill-opacity="0.85"/>
<rect x="271.75" y="202.20" width="1.2" height="0.9" fill="#3a7dbf" fill-opacity="0.85"/>
<rect x="271.75" y="200.10" width="1.2" height="0.9" fill="#3a7dbf" fill-opacity="0.85"/>
<rect x="270.95" y="190.79" width="1.2" height="0.9" fill="#3a7dbf" fill-opacity="0.85"/>
<rect x="271.53" y="203.11" width="1.2" height="0.9" fill="#3a7dbf" fill-opacity="0.85"/>
<rect x="271.20" y="206.70" width="1.2" height="1.0" fill="#3a7dbf" fill-opacity="0.85"/>
<rect x="273.93" y="196.18" width="1.2" height="0.9" fill="#d2472b" fill-opacity="0.85"/>
<rect x="273.78" y="198.81" width="1.2" height="0.9" fill="#d2472b" fill-opacity="0.85"/>
<rect x="273.03" y="194.72" width="1.2" height="0.9" fill="#d2472b" fill-opacity="0.85"/>
<rect x="272.96" y="196.60" width="1.2" height="0.9" fill="#d2472b" fill-opacity="0.85"/>
<rect x="273.95" y="195.82" width="1.2" height="0.9" fill="#d2472b" fill-opacity="0.85"/>
<rect x="272.81" y="195.19" width="1.2" height="0.9" fill="#d2472b" fill-opacity="0.85"/>
<rect x="273.00" y="191.61" width="1.2" height="0.9" fill="#d2472b" fill-opacity="0.85"/>
<rect x="273.24" y="200.85" width="1.2" height="0.9" fill="#d2472b" fill-opacity="0.85"/>
<rect x="272.92" y="194.68" width="1.2" height="0.9" fill="#d2472b" fill-opacity="0.85"/>
<rect x="273.31" y="203.32" width="1.2" height="0.9" fill="#d2472b" fill-opacity="0.85"/>
<rect x="272.87" y="193.65" width="1.2" height="0.9" fill="#d2472b" fill-opacity="0.85"/>
<rect x="273.00" y="191.74" width="1.2" height="0.9" fill="#d2472b" fill-opacity="0.85"/>
<rect x="272.98" y="199.51" width="1.2" height="0.9" fill="#d2472b" fill-opacity="0.85"/>
<rect x="273.39" y="191.56" width="1.2" height="0.9" fill="#d2472b" fill-opacity="0.85"/>
<rect x="273.40" y="210.20" width="1.2" height="1.0" fill="#d2472b" fill-opacity="0.85"/>
<rect x="282.10" y="187.30" width="1.2" height="1.0" fill="#3a7dbf" fill-opacity="0.85"/>
<rect x="282.70" y="193.79" width="1.2" height="0.9" fill="#3a7dbf" fill-opacity="0.85"/>
<rect x="282.14" y="192.14" width="1.2" height="0.9" fill="#3a7dbf" fill-opacity="0.85"/>
<rect x="281.99" y="200.61" width="1.2" height="0.9" fill="#3a7dbf" fill-opacity="0.85"/>
<rect x="282.07" y="203.39" width="1.2" height="0.9" fill="#3a7dbf" fill-opacity="0.85"/>
<rect x="281.99" y="193.69" width="1.2" height="0.9" fill="#3a7dbf" fill-opacity="0.85"/>
<rect x="282.01" y="191.03" width="1.2" height="0.9" fill="#3a7dbf" fill-opacity="0.85"/>
<rect x="282.57" y="193.78" width="1.2" height="0.9" fill="#3a7dbf" fill-opacity="0.85"/>
<rect x="282.10" y="201.35" width="1.2" height="0.9" fill="#3a7dbf" fill-opacity="0.85"/>
<rect x="281.81" y="190.96" width="1.2" height="0.9" fill="#3a7dbf" fill-opacity="0.85"/>
<rect x="281.75" y="193.70" width="1.2" height="0.9" fill="#3a7dbf" fill-opacity="0.85"/>
<rect x="282.54" y="193.56" width="1.2" height="0.9" fill="#3a7dbf" fill-opacity="0.85"/>
<rect x="281.56" y="192.39" width="1.2" height="0.9" fill="#3a7dbf" fill-opacity="0.85"/>
<rect x="282.18" y="202.61" width="1.2" height="0.9" fill="#3a7dbf" fill-opacity="0.85"/>
<rect x="281.98" y="203.43" width="1.2" height="0.9" fill="#3a7dbf" fill-opacity="0.85"/>
<rect x="282.10" y="206.70" width="1.2" height="1.0" fill="#3a7dbf" fill-opacity="0.85"/>
<rect x="284.48" y="202.31" width="1.2" height="0.9" fill="#d2472b" fill-opacity="0.85"/>
<rect x="284.59" y="200.94" width="1.2" height="0.9" fill="#d2472b" fill-opacity="0.85"/>
<rect x="283.81" y="197.23" width="1.2" height="0.9" fill="#d2472b" fill-opacity="0.85"/>
<rect x="284.75" y="193.69" width="1.2" height="0.9" fill="#d2472b" fill-opacity="0.85"/>
<rect x="284.81" y="202.30" width="1.2" height="0.9" fill="#d2472b" fill-opacity="0.85"/>
<rect x="284.49" y="195.26" width="1.2" height="0.9" fill="#d2472b" fill-opacity="0.85"/>
<rect x="284.47" y="201.04" width="1.2" height="0.9" fill="#d2472b" fill-opacity="0.85"/>
<rect x="284.33" y="201.24" width="1.2" height="0.9" fill="#d2472b" fill-opacity="0.85"/>
<rect x="284.52" y="199.23" width="1.2" height="0.9" fill="#d2472b" fill-opacity="0.85"/>
<rect x="284.81" y="194.40" width="1.2" height="0.9" fill="#d2472b" fill-opacity="0.85"/>
<rect x="283.79" y="203.00" width="1.2" height="0.9" fill="#d2472b" fill-opacity="0.85"/>
<rect x="284.85" y="203.19" width="1.2" height="0.9" fill="#d2472b" fill-opacity="0.85"/>
<rect x="283.75" y="199.40" width="1.2" height="0.9" fill="#d2472b" fill-opacity="0.85"/>
<rect x="283.85" y="202.29" width="1.2" height="0.9" fill="#d2472b" fill-opacity="0.85"/>
<rect x="284.30" y="210.20" width="1.2" height="1.0" fill="#d2472b" fill-opacity="0.85"/>
<rect x="293.00" y="187.30" width="1.2" height="1.0" fill="#3a7dbf" fill-opacity="0.85"/>
<rect x="293.20" y="203.14" width="1.2" height="0.9" fill="#3a7dbf" fill-opacity="0.85"/>
<rect x="292.60" y="191.34" width="1.2" height="0.9" fill="#3a7dbf" fill-opacity="0.85"/>
<rect x="293.08" y="198.81" width="1.2" height="0.9" fill="#3a7dbf" fill-opacity="0.85"/>
<rect x="293.51" y="200.25" width="1.2" height="0.9" fill="#3a7dbf" fill-opacity="0.85"/>
<rect x="292.40" y="193.39" width="1.2" height="0.9" fill="#3a7dbf" fill-opacity="0.85"/>
<rect x="292.42" y="202.54" width="1.2" height="0.9" fill="#3a7dbf" fill-opacity="0.85"/>
<rect x="292.54" y="201.94" width="1.2" height="0.9" fill="#3a7dbf" fill-opacity="0.85"/>
<rect x="293.34" y="201.08" width="1.2" height="0.9" fill="#3a7dbf" fill-opacity="0.85"/>
<rect x="293.06" y="201.96" width="1.2" height="0.9" fill="#3a7dbf" fill-opacity="0.85"/>
<rect x="292.64" y="201.97" width="1.2" height="0.9" fill="#3a7dbf" fill-opacity="0.85"/>
<rect x="292.80" y="199.28" width="1.2" height="0.9" fill="#3a7dbf" fill-opacity="0.85"/>
<rect x="293.33" y="202.14" width="1.2" height="0.9" fill="#3a7dbf" fill-opacity="0.85"/>
<rect x="293.03" y="196.68" width="1.2" height="0.9" fill="#3a7dbf" fill-opacity="0.85"/>
<rect x="292.44" y="190.89" width="1.2" height="0.9" fill="#3a7dbf" fill-opacity="0.85"/>
<rect x="293.00" y="206.70" width="1.2" height="1.0" fill="#3a7dbf" fill-opacity="0.85"/>
<rect x="295.19" y="198.48" width="1.2" height="0.9" fill="#d2472b" fill-opacity="0.85"/>
<rect x="295.33" y="201.86" width="1.2" height="0.9" fill="#d2472b" fill-opacity="0.85"/>
<rect x="295.04" y="192.78" width="1.2" height="0.9" fill="#d2472b" fill-opacity="0.85"/>
<rect x="295.23" y="200.64" width="1.2" height="0.9" fill="#d2472b" fill-opacity="0.85"/>
<rect x="295.61" y="191.18" width="1.2" height="0.9" fill="#d2472b" fill-opacity="0.85"/>
<rect x="294.70" y="201.39" width="1.2" height="0.9" fill="#d2472b" fill-opacity="0.85"/>
<rect x="295.06" y="197.84" width="1.2" height="0.9" fill="#d2472b" fill-opacity="0.85"/>
<rect x="294.97" y="200.89" width="1.2" height="0.9" fill="#d2472b" fill-opacity="0.85"/>
<rect x="295.18" y="193.97" width="1.2" height="0.9" fill="#d2472b" fill-opacity="0.85"/>
<rect x="294.71" y="203.13" width="1.2" height="0.9" fill="#d2472b" fill-opacity="0.85"/>
<rect x="295.35" y="192.48" width="1.2" height="0.9" fill="#d2472b" fill-opacity="0.85"/>
<rect x="295.21" y="202.12" width="1.2" height="0.9" fill="#d2472b" fill-opacity="0.85"/>
<rect x="295.63" y="196.47" width="1.2" height="0.9" fill="#d2472b" fill-opacity="0.85"/>
<rect x="294.68" y="200.76" width="1.2" height="0.9" fill="#d2472b" fill-opacity="0.85"/>
<rect x="295.20" y="210.20" width="1.2" height="1.0" fill="#d2472b" fill-opacity="0.85"/>
<line x1="257.20" y1="185.70" x2="257.20" y2="212.65" stroke="#333" stroke-width="0.75" />
<line x1="256.85" y1="212.30" x2="299.00" y2="212.30" stroke="#333" stroke-width="0.75" />
<line x1="255.90" y1="186.50" x2="257.20" y2="186.50" stroke="#333" stroke-width="0.6" />
<text x="255.10" y="188.80" font-size="6.6" fill="#444444" text-anchor="end" >20</text>
<line x1="255.90" y1="195.80" x2="257.20" y2="195.80" stroke="#333" stroke-width="0.6" />
<text x="255.10" y="198.10" font-size="6.6" fill="#444444" text-anchor="end" >15</text>
<line x1="255.90" y1="204.90" x2="257.20" y2="204.90" stroke="#333" stroke-width="0.6" />
<text x="255.10" y="207.20" font-size="6.6" fill="#444444" text-anchor="end" >10</text>
<line x1="262.00" y1="212.30" x2="262.00" y2="213.60" stroke="#333" stroke-width="0.6" />
<text x="262.00" y="218.90" font-size="6.6" fill="#444444" text-anchor="middle" >2</text>
<line x1="272.90" y1="212.30" x2="272.90" y2="213.60" stroke="#333" stroke-width="0.6" />
<text x="272.90" y="218.90" font-size="6.6" fill="#444444" text-anchor="middle" >3</text>
<line x1="283.80" y1="212.30" x2="283.80" y2="213.60" stroke="#333" stroke-width="0.6" />
<text x="283.80" y="218.90" font-size="6.6" fill="#444444" text-anchor="middle" >4</text>
<line x1="294.70" y1="212.30" x2="294.70" y2="213.60" stroke="#333" stroke-width="0.6" />
<text x="294.70" y="218.90" font-size="6.6" fill="#444444" text-anchor="middle" >5</text>
<path d="M225.80,244.90 L256.00,241.70 L285.60,243.70 L315.50,240.00" fill="none" stroke="#3a7dbf" stroke-width="1.1" stroke-opacity="0.7"/>
<path d="M231.80,242.40 L262.20,237.30 L291.80,232.10 L321.60,231.70" fill="none" stroke="#d2472b" stroke-width="1.1" stroke-opacity="0.8"/>
<g stroke="#3a7dbf" stroke-width="1.1" stroke-opacity="0.95"><line x1="225.80" y1="236.40" x2="225.80" y2="253.50"/><line x1="224.30" y1="236.40" x2="227.30" y2="236.40"/><line x1="224.30" y1="253.50" x2="227.30" y2="253.50"/></g>
<circle cx="225.80" cy="244.90" r="2.1" fill="#3a7dbf"/>
<g stroke="#3a7dbf" stroke-width="1.1" stroke-opacity="0.95"><line x1="256.00" y1="233.20" x2="256.00" y2="250.30"/><line x1="254.50" y1="233.20" x2="257.50" y2="233.20"/><line x1="254.50" y1="250.30" x2="257.50" y2="250.30"/></g>
<circle cx="256.00" cy="241.70" r="2.1" fill="#3a7dbf"/>
<g stroke="#3a7dbf" stroke-width="1.1" stroke-opacity="0.95"><line x1="285.60" y1="235.30" x2="285.60" y2="253.30"/><line x1="284.10" y1="235.30" x2="287.10" y2="235.30"/><line x1="284.10" y1="253.30" x2="287.10" y2="253.30"/></g>
<circle cx="285.60" cy="243.70" r="2.1" fill="#3a7dbf"/>
<g stroke="#3a7dbf" stroke-width="1.1" stroke-opacity="0.95"><line x1="315.50" y1="231.50" x2="315.50" y2="248.60"/><line x1="314.00" y1="231.50" x2="317.00" y2="231.50"/><line x1="314.00" y1="248.60" x2="317.00" y2="248.60"/></g>
<circle cx="315.50" cy="240.00" r="2.1" fill="#3a7dbf"/>
<g stroke="#d2472b" stroke-width="1.1" stroke-opacity="0.85"><line x1="231.80" y1="233.20" x2="231.80" y2="251.30"/><line x1="230.30" y1="233.20" x2="233.30" y2="233.20"/><line x1="230.30" y1="251.30" x2="233.30" y2="251.30"/></g>
<circle cx="231.80" cy="242.40" r="2.1" fill="#d2472b"/>
<g stroke="#d2472b" stroke-width="1.1" stroke-opacity="0.85"><line x1="262.20" y1="227.90" x2="262.20" y2="246.40"/><line x1="260.70" y1="227.90" x2="263.70" y2="227.90"/><line x1="260.70" y1="246.40" x2="263.70" y2="246.40"/></g>
<circle cx="262.20" cy="237.30" r="2.1" fill="#d2472b"/>
<g stroke="#d2472b" stroke-width="1.1" stroke-opacity="0.85"><line x1="291.80" y1="223.00" x2="291.80" y2="241.50"/><line x1="290.30" y1="223.00" x2="293.30" y2="223.00"/><line x1="290.30" y1="241.50" x2="293.30" y2="241.50"/></g>
<circle cx="291.80" cy="232.10" r="2.1" fill="#d2472b"/>
<g stroke="#d2472b" stroke-width="1.1" stroke-opacity="0.85"><line x1="321.60" y1="223.00" x2="321.60" y2="240.70"/><line x1="320.10" y1="223.00" x2="323.10" y2="223.00"/><line x1="320.10" y1="240.70" x2="323.10" y2="240.70"/></g>
<circle cx="321.60" cy="231.70" r="2.1" fill="#d2472b"/>
<line x1="393.50" y1="53.10" x2="393.50" y2="136.75" stroke="#333333" stroke-width="0.75" />
<line x1="393.25" y1="136.50" x2="505.00" y2="136.50" stroke="#333333" stroke-width="0.75" />
<line x1="392.20" y1="77.00" x2="393.50" y2="77.00" stroke="#333333" stroke-width="0.75" />
<text x="390.50" y="80.56" font-size="7.9" fill="#444444" text-anchor="end" >13</text>
<line x1="392.20" y1="102.10" x2="393.50" y2="102.10" stroke="#333333" stroke-width="0.75" />
<text x="390.50" y="105.66" font-size="7.9" fill="#444444" text-anchor="end" >12</text>
<line x1="392.20" y1="127.10" x2="393.50" y2="127.10" stroke="#333333" stroke-width="0.75" />
<text x="390.50" y="130.66" font-size="7.9" fill="#444444" text-anchor="end" >11</text>
<line x1="404.50" y1="136.50" x2="404.50" y2="137.80" stroke="#333333" stroke-width="0.75" />
<text x="404.50" y="145.20" font-size="7.9" fill="#444444" text-anchor="middle" >2</text>
<line x1="434.30" y1="136.50" x2="434.30" y2="137.80" stroke="#333333" stroke-width="0.75" />
<text x="434.30" y="145.20" font-size="7.9" fill="#444444" text-anchor="middle" >3</text>
<line x1="464.30" y1="136.50" x2="464.30" y2="137.80" stroke="#333333" stroke-width="0.75" />
<text x="464.30" y="145.20" font-size="7.9" fill="#444444" text-anchor="middle" >4</text>
<line x1="493.70" y1="136.50" x2="493.70" y2="137.80" stroke="#333333" stroke-width="0.75" />
<text x="493.70" y="145.20" font-size="7.9" fill="#444444" text-anchor="middle" >5</text>
<text x="449.45" y="154.10" font-size="8.1" fill="#1a1a1a" text-anchor="middle" >Block</text>
<text transform="translate(378.80,95.10) rotate(-90)" font-size="8.2" fill="#111" stroke="#111" stroke-width="0.12" text-anchor="middle">Fitted beta power (dB)</text>
<rect x="422.00" y="51.00" width="53.00" height="41.80" fill="#efefef"/>
<rect x="436.29" y="69.59" width="1.2" height="0.9" fill="#3a7dbf" fill-opacity="0.85"/>
<rect x="436.53" y="72.45" width="1.2" height="0.9" fill="#3a7dbf" fill-opacity="0.85"/>
<rect x="436.51" y="71.53" width="1.2" height="0.9" fill="#3a7dbf" fill-opacity="0.85"/>
<rect x="435.96" y="59.73" width="1.2" height="0.9" fill="#3a7dbf" fill-opacity="0.85"/>
<rect x="436.18" y="74.91" width="1.2" height="0.9" fill="#3a7dbf" fill-opacity="0.85"/>
<rect x="435.54" y="74.20" width="1.2" height="0.9" fill="#3a7dbf" fill-opacity="0.85"/>
<rect x="435.70" y="67.04" width="1.2" height="0.9" fill="#3a7dbf" fill-opacity="0.85"/>
<rect x="436.09" y="68.28" width="1.2" height="0.9" fill="#3a7dbf" fill-opacity="0.85"/>
<rect x="435.66" y="59.47" width="1.2" height="0.9" fill="#3a7dbf" fill-opacity="0.85"/>
<rect x="436.50" y="63.89" width="1.2" height="0.9" fill="#3a7dbf" fill-opacity="0.85"/>
<rect x="435.59" y="71.96" width="1.2" height="0.9" fill="#3a7dbf" fill-opacity="0.85"/>
<rect x="435.57" y="72.48" width="1.2" height="0.9" fill="#3a7dbf" fill-opacity="0.85"/>
<rect x="435.55" y="69.50" width="1.2" height="0.9" fill="#3a7dbf" fill-opacity="0.85"/>
<rect x="436.45" y="59.28" width="1.2" height="0.9" fill="#3a7dbf" fill-opacity="0.85"/>
<rect x="435.66" y="62.73" width="1.2" height="0.9" fill="#3a7dbf" fill-opacity="0.85"/>
<rect x="436.45" y="75.56" width="1.2" height="0.9" fill="#3a7dbf" fill-opacity="0.85"/>
<rect x="436.55" y="64.05" width="1.2" height="0.9" fill="#3a7dbf" fill-opacity="0.85"/>
<rect x="436.21" y="68.20" width="1.2" height="0.9" fill="#3a7dbf" fill-opacity="0.85"/>
<rect x="436.00" y="81.80" width="1.2" height="1.0" fill="#3a7dbf" fill-opacity="0.85"/>
<rect x="438.73" y="61.58" width="1.2" height="0.9" fill="#d2472b" fill-opacity="0.85"/>
<rect x="438.76" y="70.91" width="1.2" height="0.9" fill="#d2472b" fill-opacity="0.85"/>
<rect x="437.96" y="74.81" width="1.2" height="0.9" fill="#d2472b" fill-opacity="0.85"/>
<rect x="437.80" y="64.58" width="1.2" height="0.9" fill="#d2472b" fill-opacity="0.85"/>
<rect x="437.68" y="60.45" width="1.2" height="0.9" fill="#d2472b" fill-opacity="0.85"/>
<rect x="438.32" y="63.44" width="1.2" height="0.9" fill="#d2472b" fill-opacity="0.85"/>
<rect x="438.41" y="57.71" width="1.2" height="0.9" fill="#d2472b" fill-opacity="0.85"/>
<rect x="437.97" y="64.14" width="1.2" height="0.9" fill="#d2472b" fill-opacity="0.85"/>
<rect x="438.18" y="73.37" width="1.2" height="0.9" fill="#d2472b" fill-opacity="0.85"/>
<rect x="438.18" y="63.71" width="1.2" height="0.9" fill="#d2472b" fill-opacity="0.85"/>
<rect x="437.67" y="71.18" width="1.2" height="0.9" fill="#d2472b" fill-opacity="0.85"/>
<rect x="437.63" y="76.37" width="1.2" height="0.9" fill="#d2472b" fill-opacity="0.85"/>
<rect x="438.61" y="72.05" width="1.2" height="0.9" fill="#d2472b" fill-opacity="0.85"/>
<rect x="438.55" y="58.00" width="1.2" height="0.9" fill="#d2472b" fill-opacity="0.85"/>
<rect x="438.29" y="64.68" width="1.2" height="0.9" fill="#d2472b" fill-opacity="0.85"/>
<rect x="437.66" y="57.82" width="1.2" height="0.9" fill="#d2472b" fill-opacity="0.85"/>
<rect x="438.75" y="61.12" width="1.2" height="0.9" fill="#d2472b" fill-opacity="0.85"/>
<rect x="438.51" y="61.42" width="1.2" height="0.9" fill="#d2472b" fill-opacity="0.85"/>
<rect x="447.23" y="74.68" width="1.2" height="0.9" fill="#3a7dbf" fill-opacity="0.85"/>
<rect x="446.53" y="64.97" width="1.2" height="0.9" fill="#3a7dbf" fill-opacity="0.85"/>
<rect x="447.03" y="67.96" width="1.2" height="0.9" fill="#3a7dbf" fill-opacity="0.85"/>
<rect x="447.00" y="61.04" width="1.2" height="0.9" fill="#3a7dbf" fill-opacity="0.85"/>
<rect x="447.13" y="72.48" width="1.2" height="0.9" fill="#3a7dbf" fill-opacity="0.85"/>
<rect x="447.23" y="59.86" width="1.2" height="0.9" fill="#3a7dbf" fill-opacity="0.85"/>
<rect x="446.51" y="60.76" width="1.2" height="0.9" fill="#3a7dbf" fill-opacity="0.85"/>
<rect x="447.20" y="69.39" width="1.2" height="0.9" fill="#3a7dbf" fill-opacity="0.85"/>
<rect x="447.21" y="64.89" width="1.2" height="0.9" fill="#3a7dbf" fill-opacity="0.85"/>
<rect x="446.47" y="68.30" width="1.2" height="0.9" fill="#3a7dbf" fill-opacity="0.85"/>
<rect x="446.31" y="64.51" width="1.2" height="0.9" fill="#3a7dbf" fill-opacity="0.85"/>
<rect x="446.28" y="60.55" width="1.2" height="0.9" fill="#3a7dbf" fill-opacity="0.85"/>
<rect x="447.30" y="70.69" width="1.2" height="0.9" fill="#3a7dbf" fill-opacity="0.85"/>
<rect x="446.16" y="61.93" width="1.2" height="0.9" fill="#3a7dbf" fill-opacity="0.85"/>
<rect x="446.74" y="75.63" width="1.2" height="0.9" fill="#3a7dbf" fill-opacity="0.85"/>
<rect x="446.38" y="65.99" width="1.2" height="0.9" fill="#3a7dbf" fill-opacity="0.85"/>
<rect x="447.09" y="69.11" width="1.2" height="0.9" fill="#3a7dbf" fill-opacity="0.85"/>
<rect x="446.61" y="66.81" width="1.2" height="0.9" fill="#3a7dbf" fill-opacity="0.85"/>
<rect x="446.70" y="81.80" width="1.2" height="1.0" fill="#3a7dbf" fill-opacity="0.85"/>
<rect x="449.40" y="58.72" width="1.2" height="0.9" fill="#d2472b" fill-opacity="0.85"/>
<rect x="448.89" y="58.28" width="1.2" height="0.9" fill="#d2472b" fill-opacity="0.85"/>
<rect x="448.46" y="73.75" width="1.2" height="0.9" fill="#d2472b" fill-opacity="0.85"/>
<rect x="449.44" y="71.70" width="1.2" height="0.9" fill="#d2472b" fill-opacity="0.85"/>
<rect x="449.25" y="69.75" width="1.2" height="0.9" fill="#d2472b" fill-opacity="0.85"/>
<rect x="448.82" y="59.70" width="1.2" height="0.9" fill="#d2472b" fill-opacity="0.85"/>
<rect x="449.31" y="60.52" width="1.2" height="0.9" fill="#d2472b" fill-opacity="0.85"/>
<rect x="448.84" y="63.31" width="1.2" height="0.9" fill="#d2472b" fill-opacity="0.85"/>
<rect x="449.32" y="76.84" width="1.2" height="0.9" fill="#d2472b" fill-opacity="0.85"/>
<rect x="448.84" y="76.39" width="1.2" height="0.9" fill="#d2472b" fill-opacity="0.85"/>
<rect x="449.18" y="67.02" width="1.2" height="0.9" fill="#d2472b" fill-opacity="0.85"/>
<rect x="448.65" y="66.85" width="1.2" height="0.9" fill="#d2472b" fill-opacity="0.85"/>
<rect x="448.48" y="65.40" width="1.2" height="0.9" fill="#d2472b" fill-opacity="0.85"/>
<rect x="449.49" y="64.89" width="1.2" height="0.9" fill="#d2472b" fill-opacity="0.85"/>
<rect x="449.05" y="76.08" width="1.2" height="0.9" fill="#d2472b" fill-opacity="0.85"/>
<rect x="448.71" y="67.24" width="1.2" height="0.9" fill="#d2472b" fill-opacity="0.85"/>
<rect x="448.63" y="59.36" width="1.2" height="0.9" fill="#d2472b" fill-opacity="0.85"/>
<rect x="449.34" y="72.66" width="1.2" height="0.9" fill="#d2472b" fill-opacity="0.85"/>
<rect x="458.24" y="65.25" width="1.2" height="0.9" fill="#3a7dbf" fill-opacity="0.85"/>
<rect x="458.13" y="72.11" width="1.2" height="0.9" fill="#3a7dbf" fill-opacity="0.85"/>
<rect x="458.21" y="70.27" width="1.2" height="0.9" fill="#3a7dbf" fill-opacity="0.85"/>
<rect x="458.15" y="65.28" width="1.2" height="0.9" fill="#3a7dbf" fill-opacity="0.85"/>
<rect x="457.88" y="63.91" width="1.2" height="0.9" fill="#3a7dbf" fill-opacity="0.85"/>
<rect x="458.13" y="72.03" width="1.2" height="0.9" fill="#3a7dbf" fill-opacity="0.85"/>
<rect x="458.43" y="64.13" width="1.2" height="0.9" fill="#3a7dbf" fill-opacity="0.85"/>
<rect x="458.00" y="70.03" width="1.2" height="0.9" fill="#3a7dbf" fill-opacity="0.85"/>
<rect x="457.96" y="59.44" width="1.2" height="0.9" fill="#3a7dbf" fill-opacity="0.85"/>
<rect x="458.11" y="63.41" width="1.2" height="0.9" fill="#3a7dbf" fill-opacity="0.85"/>
<rect x="458.28" y="66.93" width="1.2" height="0.9" fill="#3a7dbf" fill-opacity="0.85"/>
<rect x="458.26" y="70.00" width="1.2" height="0.9" fill="#3a7dbf" fill-opacity="0.85"/>
<rect x="458.07" y="65.02" width="1.2" height="0.9" fill="#3a7dbf" fill-opacity="0.85"/>
<rect x="458.29" y="71.50" width="1.2" height="0.9" fill="#3a7dbf" fill-opacity="0.85"/>
<rect x="458.31" y="65.06" width="1.2" height="0.9" fill="#3a7dbf" fill-opacity="0.85"/>
<rect x="458.13" y="73.69" width="1.2" height="0.9" fill="#3a7dbf" fill-opacity="0.85"/>
<rect x="458.45" y="75.45" width="1.2" height="0.9" fill="#3a7dbf" fill-opacity="0.85"/>
<rect x="457.94" y="67.85" width="1.2" height="0.9" fill="#3a7dbf" fill-opacity="0.85"/>
<rect x="457.90" y="81.80" width="1.2" height="1.0" fill="#3a7dbf" fill-opacity="0.85"/>
<rect x="460.50" y="60.84" width="1.2" height="0.9" fill="#d2472b" fill-opacity="0.85"/>
<rect x="460.07" y="75.65" width="1.2" height="0.9" fill="#d2472b" fill-opacity="0.85"/>
<rect x="460.36" y="70.93" width="1.2" height="0.9" fill="#d2472b" fill-opacity="0.85"/>
<rect x="459.71" y="71.67" width="1.2" height="0.9" fill="#d2472b" fill-opacity="0.85"/>
<rect x="460.20" y="72.63" width="1.2" height="0.9" fill="#d2472b" fill-opacity="0.85"/>
<rect x="460.00" y="70.43" width="1.2" height="0.9" fill="#d2472b" fill-opacity="0.85"/>
<rect x="460.43" y="69.63" width="1.2" height="0.9" fill="#d2472b" fill-opacity="0.85"/>
<rect x="460.36" y="69.88" width="1.2" height="0.9" fill="#d2472b" fill-opacity="0.85"/>
<rect x="459.69" y="58.18" width="1.2" height="0.9" fill="#d2472b" fill-opacity="0.85"/>
<rect x="460.28" y="66.12" width="1.2" height="0.9" fill="#d2472b" fill-opacity="0.85"/>
<rect x="460.32" y="61.86" width="1.2" height="0.9" fill="#d2472b" fill-opacity="0.85"/>
<rect x="459.55" y="69.76" width="1.2" height="0.9" fill="#d2472b" fill-opacity="0.85"/>
<rect x="459.77" y="66.70" width="1.2" height="0.9" fill="#d2472b" fill-opacity="0.85"/>
<rect x="459.66" y="58.69" width="1.2" height="0.9" fill="#d2472b" fill-opacity="0.85"/>
<rect x="459.72" y="63.74" width="1.2" height="0.9" fill="#d2472b" fill-opacity="0.85"/>
<rect x="459.54" y="61.36" width="1.2" height="0.9" fill="#d2472b" fill-opacity="0.85"/>
<rect x="459.96" y="66.58" width="1.2" height="0.9" fill="#d2472b" fill-opacity="0.85"/>
<rect x="460.21" y="69.40" width="1.2" height="0.9" fill="#d2472b" fill-opacity="0.85"/>
<rect x="468.98" y="63.20" width="1.2" height="0.9" fill="#3a7dbf" fill-opacity="0.85"/>
<rect x="468.39" y="59.26" width="1.2" height="0.9" fill="#3a7dbf" fill-opacity="0.85"/>
<rect x="468.39" y="63.87" width="1.2" height="0.9" fill="#3a7dbf" fill-opacity="0.85"/>
<rect x="468.90" y="61.16" width="1.2" height="0.9" fill="#3a7dbf" fill-opacity="0.85"/>
<rect x="467.94" y="65.46" width="1.2" height="0.9" fill="#3a7dbf" fill-opacity="0.85"/>
<rect x="468.01" y="69.44" width="1.2" height="0.9" fill="#3a7dbf" fill-opacity="0.85"/>
<rect x="468.31" y="68.30" width="1.2" height="0.9" fill="#3a7dbf" fill-opacity="0.85"/>
<rect x="469.05" y="68.89" width="1.2" height="0.9" fill="#3a7dbf" fill-opacity="0.85"/>
<rect x="468.40" y="72.84" width="1.2" height="0.9" fill="#3a7dbf" fill-opacity="0.85"/>
<rect x="468.67" y="72.75" width="1.2" height="0.9" fill="#3a7dbf" fill-opacity="0.85"/>
<rect x="468.07" y="65.38" width="1.2" height="0.9" fill="#3a7dbf" fill-opacity="0.85"/>
<rect x="468.58" y="69.14" width="1.2" height="0.9" fill="#3a7dbf" fill-opacity="0.85"/>
<rect x="469.06" y="75.14" width="1.2" height="0.9" fill="#3a7dbf" fill-opacity="0.85"/>
<rect x="468.32" y="69.35" width="1.2" height="0.9" fill="#3a7dbf" fill-opacity="0.85"/>
<rect x="467.90" y="74.08" width="1.2" height="0.9" fill="#3a7dbf" fill-opacity="0.85"/>
<rect x="468.58" y="61.04" width="1.2" height="0.9" fill="#3a7dbf" fill-opacity="0.85"/>
<rect x="468.07" y="69.46" width="1.2" height="0.9" fill="#3a7dbf" fill-opacity="0.85"/>
<rect x="468.97" y="69.70" width="1.2" height="0.9" fill="#3a7dbf" fill-opacity="0.85"/>
<rect x="468.50" y="81.80" width="1.2" height="1.0" fill="#3a7dbf" fill-opacity="0.85"/>
<rect x="470.62" y="64.87" width="1.2" height="0.9" fill="#d2472b" fill-opacity="0.85"/>
<rect x="470.45" y="62.00" width="1.2" height="0.9" fill="#d2472b" fill-opacity="0.85"/>
<rect x="470.56" y="76.32" width="1.2" height="0.9" fill="#d2472b" fill-opacity="0.85"/>
<rect x="471.20" y="76.10" width="1.2" height="0.9" fill="#d2472b" fill-opacity="0.85"/>
<rect x="470.41" y="69.09" width="1.2" height="0.9" fill="#d2472b" fill-opacity="0.85"/>
<rect x="470.70" y="76.48" width="1.2" height="0.9" fill="#d2472b" fill-opacity="0.85"/>
<rect x="470.48" y="65.63" width="1.2" height="0.9" fill="#d2472b" fill-opacity="0.85"/>
<rect x="470.69" y="76.55" width="1.2" height="0.9" fill="#d2472b" fill-opacity="0.85"/>
<rect x="470.67" y="63.15" width="1.2" height="0.9" fill="#d2472b" fill-opacity="0.85"/>
<rect x="470.85" y="59.99" width="1.2" height="0.9" fill="#d2472b" fill-opacity="0.85"/>
<rect x="470.45" y="66.16" width="1.2" height="0.9" fill="#d2472b" fill-opacity="0.85"/>
<rect x="471.09" y="72.66" width="1.2" height="0.9" fill="#d2472b" fill-opacity="0.85"/>
<rect x="470.74" y="57.90" width="1.2" height="0.9" fill="#d2472b" fill-opacity="0.85"/>
<rect x="471.22" y="62.91" width="1.2" height="0.9" fill="#d2472b" fill-opacity="0.85"/>
<rect x="470.39" y="72.66" width="1.2" height="0.9" fill="#d2472b" fill-opacity="0.85"/>
<rect x="470.29" y="62.79" width="1.2" height="0.9" fill="#d2472b" fill-opacity="0.85"/>
<rect x="470.45" y="76.64" width="1.2" height="0.9" fill="#d2472b" fill-opacity="0.85"/>
<rect x="470.67" y="69.32" width="1.2" height="0.9" fill="#d2472b" fill-opacity="0.85"/>
<line x1="433.60" y1="57.30" x2="433.60" y2="83.95" stroke="#333" stroke-width="0.75" />
<line x1="433.25" y1="83.60" x2="474.50" y2="83.60" stroke="#333" stroke-width="0.75" />
<line x1="432.30" y1="62.40" x2="433.60" y2="62.40" stroke="#333" stroke-width="0.6" />
<text transform="translate(431.50,64.30) scale(1,0.85)" font-size="6.4" fill="#444444" text-anchor="end">14</text>
<line x1="432.30" y1="67.60" x2="433.60" y2="67.60" stroke="#333" stroke-width="0.6" />
<text transform="translate(431.50,69.50) scale(1,0.85)" font-size="6.4" fill="#444444" text-anchor="end">12</text>
<line x1="432.30" y1="72.90" x2="433.60" y2="72.90" stroke="#333" stroke-width="0.6" />
<text transform="translate(431.50,74.80) scale(1,0.85)" font-size="6.4" fill="#444444" text-anchor="end">10</text>
<line x1="432.30" y1="78.10" x2="433.60" y2="78.10" stroke="#333" stroke-width="0.6" />
<text transform="translate(431.50,80.00) scale(1,0.85)" font-size="6.4" fill="#444444" text-anchor="end">8</text>
<line x1="432.30" y1="83.30" x2="433.60" y2="83.30" stroke="#333" stroke-width="0.6" />
<text transform="translate(431.50,85.20) scale(1,0.85)" font-size="6.4" fill="#444444" text-anchor="end">6</text>
<line x1="437.70" y1="83.60" x2="437.70" y2="84.90" stroke="#333" stroke-width="0.6" />
<text x="437.70" y="90.60" font-size="6.6" fill="#444444" text-anchor="middle" >2</text>
<line x1="448.40" y1="83.60" x2="448.40" y2="84.90" stroke="#333" stroke-width="0.6" />
<text x="448.40" y="90.60" font-size="6.6" fill="#444444" text-anchor="middle" >3</text>
<line x1="459.60" y1="83.60" x2="459.60" y2="84.90" stroke="#333" stroke-width="0.6" />
<text x="459.60" y="90.60" font-size="6.6" fill="#444444" text-anchor="middle" >4</text>
<line x1="470.20" y1="83.60" x2="470.20" y2="84.90" stroke="#333" stroke-width="0.6" />
<text x="470.20" y="90.60" font-size="6.6" fill="#444444" text-anchor="middle" >5</text>
<path d="M401.50,118.60 L431.40,114.30 L461.20,112.80 L491.10,108.30" fill="none" stroke="#3a7dbf" stroke-width="1.1" stroke-opacity="0.7"/>
<path d="M407.20,115.80 L437.40,113.90 L467.20,120.30 L497.10,120.30" fill="none" stroke="#d2472b" stroke-width="1.1" stroke-opacity="0.8"/>
<g stroke="#3a7dbf" stroke-width="1.1" stroke-opacity="0.95"><line x1="401.50" y1="111.10" x2="401.50" y2="126.40"/><line x1="400.00" y1="111.10" x2="403.00" y2="111.10"/><line x1="400.00" y1="126.40" x2="403.00" y2="126.40"/></g>
<circle cx="401.50" cy="118.60" r="2.1" fill="#3a7dbf"/>
<g stroke="#3a7dbf" stroke-width="1.1" stroke-opacity="0.95"><line x1="431.40" y1="106.40" x2="431.40" y2="122.80"/><line x1="429.90" y1="106.40" x2="432.90" y2="106.40"/><line x1="429.90" y1="122.80" x2="432.90" y2="122.80"/></g>
<circle cx="431.40" cy="114.30" r="2.1" fill="#3a7dbf"/>
<g stroke="#3a7dbf" stroke-width="1.1" stroke-opacity="0.95"><line x1="461.20" y1="105.30" x2="461.20" y2="120.70"/><line x1="459.70" y1="105.30" x2="462.70" y2="105.30"/><line x1="459.70" y1="120.70" x2="462.70" y2="120.70"/></g>
<circle cx="461.20" cy="112.80" r="2.1" fill="#3a7dbf"/>
<g stroke="#3a7dbf" stroke-width="1.1" stroke-opacity="0.95"><line x1="491.10" y1="100.40" x2="491.10" y2="116.40"/><line x1="489.60" y1="100.40" x2="492.60" y2="100.40"/><line x1="489.60" y1="116.40" x2="492.60" y2="116.40"/></g>
<circle cx="491.10" cy="108.30" r="2.1" fill="#3a7dbf"/>
<g stroke="#d2472b" stroke-width="1.1" stroke-opacity="0.85"><line x1="407.20" y1="107.50" x2="407.20" y2="124.30"/><line x1="405.70" y1="107.50" x2="408.70" y2="107.50"/><line x1="405.70" y1="124.30" x2="408.70" y2="124.30"/></g>
<circle cx="407.20" cy="115.80" r="2.1" fill="#d2472b"/>
<g stroke="#d2472b" stroke-width="1.1" stroke-opacity="0.85"><line x1="437.40" y1="105.30" x2="437.40" y2="122.80"/><line x1="435.90" y1="105.30" x2="438.90" y2="105.30"/><line x1="435.90" y1="122.80" x2="438.90" y2="122.80"/></g>
<circle cx="437.40" cy="113.90" r="2.1" fill="#d2472b"/>
<g stroke="#d2472b" stroke-width="1.1" stroke-opacity="0.85"><line x1="467.20" y1="112.20" x2="467.20" y2="128.80"/><line x1="465.70" y1="112.20" x2="468.70" y2="112.20"/><line x1="465.70" y1="128.80" x2="468.70" y2="128.80"/></g>
<circle cx="467.20" cy="120.30" r="2.1" fill="#d2472b"/>
<g stroke="#d2472b" stroke-width="1.1" stroke-opacity="0.85"><line x1="497.10" y1="111.70" x2="497.10" y2="129.20"/><line x1="495.60" y1="111.70" x2="498.60" y2="111.70"/><line x1="495.60" y1="129.20" x2="498.60" y2="129.20"/></g>
<circle cx="497.10" cy="120.30" r="2.1" fill="#d2472b"/>
<path d="M493.90,95.20 L493.90,92.60 M493.90,95.20 L496.37,94.40 M493.90,95.20 L495.43,97.30 M493.90,95.20 L492.37,97.30 M493.90,95.20 L491.43,94.40 " stroke="#d2472b" stroke-width="1.5" stroke-linecap="round" fill="none"/>
<line x1="393.50" y1="181.40" x2="393.50" y2="264.55" stroke="#333333" stroke-width="0.75" />
<line x1="393.25" y1="264.30" x2="505.00" y2="264.30" stroke="#333333" stroke-width="0.75" />
<line x1="392.20" y1="205.30" x2="393.50" y2="205.30" stroke="#333333" stroke-width="0.75" />
<text x="390.50" y="208.86" font-size="7.9" fill="#444444" text-anchor="end" >13</text>
<line x1="392.20" y1="230.40" x2="393.50" y2="230.40" stroke="#333333" stroke-width="0.75" />
<text x="390.50" y="233.96" font-size="7.9" fill="#444444" text-anchor="end" >12</text>
<line x1="392.20" y1="255.60" x2="393.50" y2="255.60" stroke="#333333" stroke-width="0.75" />
<text x="390.50" y="259.16" font-size="7.9" fill="#444444" text-anchor="end" >11</text>
<line x1="404.50" y1="264.30" x2="404.50" y2="265.60" stroke="#333333" stroke-width="0.75" />
<text x="404.50" y="273.00" font-size="7.9" fill="#444444" text-anchor="middle" >2</text>
<line x1="434.30" y1="264.30" x2="434.30" y2="265.60" stroke="#333333" stroke-width="0.75" />
<text x="434.30" y="273.00" font-size="7.9" fill="#444444" text-anchor="middle" >3</text>
<line x1="464.30" y1="264.30" x2="464.30" y2="265.60" stroke="#333333" stroke-width="0.75" />
<text x="464.30" y="273.00" font-size="7.9" fill="#444444" text-anchor="middle" >4</text>
<line x1="493.70" y1="264.30" x2="493.70" y2="265.60" stroke="#333333" stroke-width="0.75" />
<text x="493.70" y="273.00" font-size="7.9" fill="#444444" text-anchor="middle" >5</text>
<text x="449.45" y="282.10" font-size="8.1" fill="#1a1a1a" text-anchor="middle" >Block</text>
<text transform="translate(378.80,223.00) rotate(-90)" font-size="8.2" fill="#111" stroke="#111" stroke-width="0.12" text-anchor="middle">Fitted beta power (dB)</text>
<rect x="422.80" y="178.70" width="53.30" height="41.90" fill="#efefef"/>
<rect x="436.19" y="201.42" width="1.2" height="0.9" fill="#3a7dbf" fill-opacity="0.85"/>
<rect x="435.51" y="195.25" width="1.2" height="0.9" fill="#3a7dbf" fill-opacity="0.85"/>
<rect x="436.00" y="185.56" width="1.2" height="0.9" fill="#3a7dbf" fill-opacity="0.85"/>
<rect x="436.11" y="194.96" width="1.2" height="0.9" fill="#3a7dbf" fill-opacity="0.85"/>
<rect x="436.12" y="193.01" width="1.2" height="0.9" fill="#3a7dbf" fill-opacity="0.85"/>
<rect x="436.16" y="191.00" width="1.2" height="0.9" fill="#3a7dbf" fill-opacity="0.85"/>
<rect x="435.70" y="200.15" width="1.2" height="0.9" fill="#3a7dbf" fill-opacity="0.85"/>
<rect x="436.02" y="196.32" width="1.2" height="0.9" fill="#3a7dbf" fill-opacity="0.85"/>
<rect x="435.86" y="189.41" width="1.2" height="0.9" fill="#3a7dbf" fill-opacity="0.85"/>
<rect x="435.52" y="201.65" width="1.2" height="0.9" fill="#3a7dbf" fill-opacity="0.85"/>
<rect x="436.02" y="201.62" width="1.2" height="0.9" fill="#3a7dbf" fill-opacity="0.85"/>
<rect x="435.60" y="202.44" width="1.2" height="0.9" fill="#3a7dbf" fill-opacity="0.85"/>
<rect x="436.16" y="187.41" width="1.2" height="0.9" fill="#3a7dbf" fill-opacity="0.85"/>
<rect x="435.73" y="201.65" width="1.2" height="0.9" fill="#3a7dbf" fill-opacity="0.85"/>
<rect x="435.44" y="187.43" width="1.2" height="0.9" fill="#3a7dbf" fill-opacity="0.85"/>
<rect x="435.55" y="198.25" width="1.2" height="0.9" fill="#3a7dbf" fill-opacity="0.85"/>
<rect x="435.91" y="204.58" width="1.2" height="0.9" fill="#3a7dbf" fill-opacity="0.85"/>
<rect x="435.99" y="189.57" width="1.2" height="0.9" fill="#3a7dbf" fill-opacity="0.85"/>
<rect x="438.52" y="193.40" width="1.2" height="0.9" fill="#d2472b" fill-opacity="0.85"/>
<rect x="438.02" y="203.83" width="1.2" height="0.9" fill="#d2472b" fill-opacity="0.85"/>
<rect x="438.24" y="198.80" width="1.2" height="0.9" fill="#d2472b" fill-opacity="0.85"/>
<rect x="438.57" y="201.85" width="1.2" height="0.9" fill="#d2472b" fill-opacity="0.85"/>
<rect x="437.83" y="187.09" width="1.2" height="0.9" fill="#d2472b" fill-opacity="0.85"/>
<rect x="437.77" y="197.98" width="1.2" height="0.9" fill="#d2472b" fill-opacity="0.85"/>
<rect x="437.51" y="197.74" width="1.2" height="0.9" fill="#d2472b" fill-opacity="0.85"/>
<rect x="438.03" y="203.27" width="1.2" height="0.9" fill="#d2472b" fill-opacity="0.85"/>
<rect x="438.20" y="188.77" width="1.2" height="0.9" fill="#d2472b" fill-opacity="0.85"/>
<rect x="437.64" y="192.48" width="1.2" height="0.9" fill="#d2472b" fill-opacity="0.85"/>
<rect x="437.57" y="195.74" width="1.2" height="0.9" fill="#d2472b" fill-opacity="0.85"/>
<rect x="438.44" y="190.54" width="1.2" height="0.9" fill="#d2472b" fill-opacity="0.85"/>
<rect x="437.42" y="199.82" width="1.2" height="0.9" fill="#d2472b" fill-opacity="0.85"/>
<rect x="437.42" y="201.33" width="1.2" height="0.9" fill="#d2472b" fill-opacity="0.85"/>
<rect x="438.49" y="192.88" width="1.2" height="0.9" fill="#d2472b" fill-opacity="0.85"/>
<rect x="437.77" y="198.34" width="1.2" height="0.9" fill="#d2472b" fill-opacity="0.85"/>
<rect x="438.00" y="210.00" width="1.2" height="1.0" fill="#d2472b" fill-opacity="0.85"/>
<rect x="446.57" y="193.10" width="1.2" height="0.9" fill="#3a7dbf" fill-opacity="0.85"/>
<rect x="447.30" y="188.09" width="1.2" height="0.9" fill="#3a7dbf" fill-opacity="0.85"/>
<rect x="446.61" y="186.63" width="1.2" height="0.9" fill="#3a7dbf" fill-opacity="0.85"/>
<rect x="446.58" y="200.48" width="1.2" height="0.9" fill="#3a7dbf" fill-opacity="0.85"/>
<rect x="446.39" y="205.17" width="1.2" height="0.9" fill="#3a7dbf" fill-opacity="0.85"/>
<rect x="447.17" y="205.14" width="1.2" height="0.9" fill="#3a7dbf" fill-opacity="0.85"/>
<rect x="447.17" y="198.95" width="1.2" height="0.9" fill="#3a7dbf" fill-opacity="0.85"/>
<rect x="447.10" y="194.49" width="1.2" height="0.9" fill="#3a7dbf" fill-opacity="0.85"/>
<rect x="446.72" y="201.47" width="1.2" height="0.9" fill="#3a7dbf" fill-opacity="0.85"/>
<rect x="446.95" y="194.97" width="1.2" height="0.9" fill="#3a7dbf" fill-opacity="0.85"/>
<rect x="446.20" y="193.73" width="1.2" height="0.9" fill="#3a7dbf" fill-opacity="0.85"/>
<rect x="446.42" y="200.48" width="1.2" height="0.9" fill="#3a7dbf" fill-opacity="0.85"/>
<rect x="447.04" y="195.30" width="1.2" height="0.9" fill="#3a7dbf" fill-opacity="0.85"/>
<rect x="446.13" y="188.99" width="1.2" height="0.9" fill="#3a7dbf" fill-opacity="0.85"/>
<rect x="446.81" y="188.02" width="1.2" height="0.9" fill="#3a7dbf" fill-opacity="0.85"/>
<rect x="446.41" y="192.77" width="1.2" height="0.9" fill="#3a7dbf" fill-opacity="0.85"/>
<rect x="447.21" y="194.58" width="1.2" height="0.9" fill="#3a7dbf" fill-opacity="0.85"/>
<rect x="446.59" y="190.65" width="1.2" height="0.9" fill="#3a7dbf" fill-opacity="0.85"/>
<rect x="449.03" y="203.26" width="1.2" height="0.9" fill="#d2472b" fill-opacity="0.85"/>
<rect x="448.87" y="191.64" width="1.2" height="0.9" fill="#d2472b" fill-opacity="0.85"/>
<rect x="448.47" y="195.64" width="1.2" height="0.9" fill="#d2472b" fill-opacity="0.85"/>
<rect x="448.67" y="193.72" width="1.2" height="0.9" fill="#d2472b" fill-opacity="0.85"/>
<rect x="448.69" y="201.84" width="1.2" height="0.9" fill="#d2472b" fill-opacity="0.85"/>
<rect x="449.46" y="199.08" width="1.2" height="0.9" fill="#d2472b" fill-opacity="0.85"/>
<rect x="448.75" y="204.09" width="1.2" height="0.9" fill="#d2472b" fill-opacity="0.85"/>
<rect x="448.68" y="198.01" width="1.2" height="0.9" fill="#d2472b" fill-opacity="0.85"/>
<rect x="448.89" y="194.12" width="1.2" height="0.9" fill="#d2472b" fill-opacity="0.85"/>
<rect x="449.42" y="201.63" width="1.2" height="0.9" fill="#d2472b" fill-opacity="0.85"/>
<rect x="448.31" y="192.08" width="1.2" height="0.9" fill="#d2472b" fill-opacity="0.85"/>
<rect x="448.37" y="195.09" width="1.2" height="0.9" fill="#d2472b" fill-opacity="0.85"/>
<rect x="449.23" y="187.12" width="1.2" height="0.9" fill="#d2472b" fill-opacity="0.85"/>
<rect x="449.16" y="188.68" width="1.2" height="0.9" fill="#d2472b" fill-opacity="0.85"/>
<rect x="449.43" y="193.43" width="1.2" height="0.9" fill="#d2472b" fill-opacity="0.85"/>
<rect x="448.37" y="202.77" width="1.2" height="0.9" fill="#d2472b" fill-opacity="0.85"/>
<rect x="448.90" y="210.00" width="1.2" height="1.0" fill="#d2472b" fill-opacity="0.85"/>
<rect x="458.44" y="189.40" width="1.2" height="0.9" fill="#3a7dbf" fill-opacity="0.85"/>
<rect x="457.81" y="197.82" width="1.2" height="0.9" fill="#3a7dbf" fill-opacity="0.85"/>
<rect x="458.28" y="201.20" width="1.2" height="0.9" fill="#3a7dbf" fill-opacity="0.85"/>
<rect x="457.86" y="195.38" width="1.2" height="0.9" fill="#3a7dbf" fill-opacity="0.85"/>
<rect x="457.73" y="187.55" width="1.2" height="0.9" fill="#3a7dbf" fill-opacity="0.85"/>
<rect x="458.05" y="188.45" width="1.2" height="0.9" fill="#3a7dbf" fill-opacity="0.85"/>
<rect x="457.47" y="197.68" width="1.2" height="0.9" fill="#3a7dbf" fill-opacity="0.85"/>
<rect x="457.42" y="198.11" width="1.2" height="0.9" fill="#3a7dbf" fill-opacity="0.85"/>
<rect x="458.07" y="187.66" width="1.2" height="0.9" fill="#3a7dbf" fill-opacity="0.85"/>
<rect x="458.38" y="194.80" width="1.2" height="0.9" fill="#3a7dbf" fill-opacity="0.85"/>
<rect x="458.14" y="198.13" width="1.2" height="0.9" fill="#3a7dbf" fill-opacity="0.85"/>
<rect x="458.30" y="188.09" width="1.2" height="0.9" fill="#3a7dbf" fill-opacity="0.85"/>
<rect x="458.04" y="187.22" width="1.2" height="0.9" fill="#3a7dbf" fill-opacity="0.85"/>
<rect x="458.39" y="203.78" width="1.2" height="0.9" fill="#3a7dbf" fill-opacity="0.85"/>
<rect x="457.84" y="203.42" width="1.2" height="0.9" fill="#3a7dbf" fill-opacity="0.85"/>
<rect x="458.25" y="199.43" width="1.2" height="0.9" fill="#3a7dbf" fill-opacity="0.85"/>
<rect x="458.43" y="188.29" width="1.2" height="0.9" fill="#3a7dbf" fill-opacity="0.85"/>
<rect x="457.83" y="203.73" width="1.2" height="0.9" fill="#3a7dbf" fill-opacity="0.85"/>
<rect x="460.04" y="201.34" width="1.2" height="0.9" fill="#d2472b" fill-opacity="0.85"/>
<rect x="460.35" y="191.80" width="1.2" height="0.9" fill="#d2472b" fill-opacity="0.85"/>
<rect x="460.46" y="187.76" width="1.2" height="0.9" fill="#d2472b" fill-opacity="0.85"/>
<rect x="459.84" y="205.13" width="1.2" height="0.9" fill="#d2472b" fill-opacity="0.85"/>
<rect x="459.60" y="204.40" width="1.2" height="0.9" fill="#d2472b" fill-opacity="0.85"/>
<rect x="459.84" y="202.85" width="1.2" height="0.9" fill="#d2472b" fill-opacity="0.85"/>
<rect x="460.02" y="204.91" width="1.2" height="0.9" fill="#d2472b" fill-opacity="0.85"/>
<rect x="459.54" y="204.07" width="1.2" height="0.9" fill="#d2472b" fill-opacity="0.85"/>
<rect x="460.48" y="188.18" width="1.2" height="0.9" fill="#d2472b" fill-opacity="0.85"/>
<rect x="460.14" y="198.68" width="1.2" height="0.9" fill="#d2472b" fill-opacity="0.85"/>
<rect x="459.71" y="187.17" width="1.2" height="0.9" fill="#d2472b" fill-opacity="0.85"/>
<rect x="459.56" y="193.59" width="1.2" height="0.9" fill="#d2472b" fill-opacity="0.85"/>
<rect x="460.42" y="205.42" width="1.2" height="0.9" fill="#d2472b" fill-opacity="0.85"/>
<rect x="460.34" y="204.60" width="1.2" height="0.9" fill="#d2472b" fill-opacity="0.85"/>
<rect x="459.59" y="193.08" width="1.2" height="0.9" fill="#d2472b" fill-opacity="0.85"/>
<rect x="459.64" y="200.45" width="1.2" height="0.9" fill="#d2472b" fill-opacity="0.85"/>
<rect x="460.10" y="210.00" width="1.2" height="1.0" fill="#d2472b" fill-opacity="0.85"/>
<rect x="468.46" y="196.49" width="1.2" height="0.9" fill="#3a7dbf" fill-opacity="0.85"/>
<rect x="467.99" y="195.44" width="1.2" height="0.9" fill="#3a7dbf" fill-opacity="0.85"/>
<rect x="468.52" y="187.03" width="1.2" height="0.9" fill="#3a7dbf" fill-opacity="0.85"/>
<rect x="468.53" y="186.16" width="1.2" height="0.9" fill="#3a7dbf" fill-opacity="0.85"/>
<rect x="468.24" y="188.56" width="1.2" height="0.9" fill="#3a7dbf" fill-opacity="0.85"/>
<rect x="468.58" y="188.57" width="1.2" height="0.9" fill="#3a7dbf" fill-opacity="0.85"/>
<rect x="468.17" y="193.32" width="1.2" height="0.9" fill="#3a7dbf" fill-opacity="0.85"/>
<rect x="468.58" y="189.98" width="1.2" height="0.9" fill="#3a7dbf" fill-opacity="0.85"/>
<rect x="468.40" y="203.76" width="1.2" height="0.9" fill="#3a7dbf" fill-opacity="0.85"/>
<rect x="468.28" y="188.81" width="1.2" height="0.9" fill="#3a7dbf" fill-opacity="0.85"/>
<rect x="468.59" y="190.36" width="1.2" height="0.9" fill="#3a7dbf" fill-opacity="0.85"/>
<rect x="468.58" y="201.28" width="1.2" height="0.9" fill="#3a7dbf" fill-opacity="0.85"/>
<rect x="468.29" y="189.31" width="1.2" height="0.9" fill="#3a7dbf" fill-opacity="0.85"/>
<rect x="468.43" y="193.17" width="1.2" height="0.9" fill="#3a7dbf" fill-opacity="0.85"/>
<rect x="469.10" y="193.50" width="1.2" height="0.9" fill="#3a7dbf" fill-opacity="0.85"/>
<rect x="468.69" y="196.57" width="1.2" height="0.9" fill="#3a7dbf" fill-opacity="0.85"/>
<rect x="468.67" y="199.88" width="1.2" height="0.9" fill="#3a7dbf" fill-opacity="0.85"/>
<rect x="468.35" y="201.66" width="1.2" height="0.9" fill="#3a7dbf" fill-opacity="0.85"/>
<rect x="471.27" y="199.21" width="1.2" height="0.9" fill="#d2472b" fill-opacity="0.85"/>
<rect x="470.85" y="189.67" width="1.2" height="0.9" fill="#d2472b" fill-opacity="0.85"/>
<rect x="470.17" y="193.86" width="1.2" height="0.9" fill="#d2472b" fill-opacity="0.85"/>
<rect x="471.01" y="187.31" width="1.2" height="0.9" fill="#d2472b" fill-opacity="0.85"/>
<rect x="470.95" y="188.73" width="1.2" height="0.9" fill="#d2472b" fill-opacity="0.85"/>
<rect x="470.54" y="188.45" width="1.2" height="0.9" fill="#d2472b" fill-opacity="0.85"/>
<rect x="470.75" y="187.16" width="1.2" height="0.9" fill="#d2472b" fill-opacity="0.85"/>
<rect x="470.37" y="201.49" width="1.2" height="0.9" fill="#d2472b" fill-opacity="0.85"/>
<rect x="471.21" y="197.29" width="1.2" height="0.9" fill="#d2472b" fill-opacity="0.85"/>
<rect x="470.67" y="192.13" width="1.2" height="0.9" fill="#d2472b" fill-opacity="0.85"/>
<rect x="471.14" y="200.31" width="1.2" height="0.9" fill="#d2472b" fill-opacity="0.85"/>
<rect x="470.89" y="189.75" width="1.2" height="0.9" fill="#d2472b" fill-opacity="0.85"/>
<rect x="470.23" y="188.83" width="1.2" height="0.9" fill="#d2472b" fill-opacity="0.85"/>
<rect x="470.16" y="205.23" width="1.2" height="0.9" fill="#d2472b" fill-opacity="0.85"/>
<rect x="471.00" y="204.03" width="1.2" height="0.9" fill="#d2472b" fill-opacity="0.85"/>
<rect x="470.98" y="199.39" width="1.2" height="0.9" fill="#d2472b" fill-opacity="0.85"/>
<rect x="470.70" y="210.00" width="1.2" height="1.0" fill="#d2472b" fill-opacity="0.85"/>
<line x1="433.50" y1="185.10" x2="433.50" y2="212.65" stroke="#333" stroke-width="0.75" />
<line x1="433.15" y1="212.30" x2="474.50" y2="212.30" stroke="#333" stroke-width="0.75" />
<line x1="432.20" y1="190.50" x2="433.50" y2="190.50" stroke="#333" stroke-width="0.6" />
<text x="431.40" y="192.87" font-size="6.8" fill="#444444" text-anchor="end" >14</text>
<line x1="432.20" y1="195.80" x2="433.50" y2="195.80" stroke="#333" stroke-width="0.6" />
<text x="431.40" y="198.17" font-size="6.8" fill="#444444" text-anchor="end" >12</text>
<line x1="432.20" y1="201.10" x2="433.50" y2="201.10" stroke="#333" stroke-width="0.6" />
<text x="431.40" y="203.47" font-size="6.8" fill="#444444" text-anchor="end" >10</text>
<line x1="432.20" y1="206.60" x2="433.50" y2="206.60" stroke="#333" stroke-width="0.6" />
<text x="431.40" y="208.97" font-size="6.8" fill="#444444" text-anchor="end" >8</text>
<line x1="437.50" y1="212.30" x2="437.50" y2="213.60" stroke="#333" stroke-width="0.6" />
<text x="437.50" y="218.90" font-size="6.6" fill="#444444" text-anchor="middle" >2</text>
<line x1="448.40" y1="212.30" x2="448.40" y2="213.60" stroke="#333" stroke-width="0.6" />
<text x="448.40" y="218.90" font-size="6.6" fill="#444444" text-anchor="middle" >3</text>
<line x1="459.60" y1="212.30" x2="459.60" y2="213.60" stroke="#333" stroke-width="0.6" />
<text x="459.60" y="218.90" font-size="6.6" fill="#444444" text-anchor="middle" >4</text>
<line x1="470.20" y1="212.30" x2="470.20" y2="213.60" stroke="#333" stroke-width="0.6" />
<text x="470.20" y="218.90" font-size="6.6" fill="#444444" text-anchor="middle" >5</text>
<path d="M401.50,245.80 L431.40,240.70 L461.20,242.40 L491.10,239.60" fill="none" stroke="#3a7dbf" stroke-width="1.1" stroke-opacity="0.7"/>
<path d="M407.20,239.60 L437.40,238.50 L467.20,236.40 L497.10,234.30" fill="none" stroke="#d2472b" stroke-width="1.1" stroke-opacity="0.8"/>
<g stroke="#3a7dbf" stroke-width="1.1" stroke-opacity="0.95"><line x1="401.50" y1="235.80" x2="401.50" y2="256.00"/><line x1="400.00" y1="235.80" x2="403.00" y2="235.80"/><line x1="400.00" y1="256.00" x2="403.00" y2="256.00"/></g>
<circle cx="401.50" cy="245.80" r="2.1" fill="#3a7dbf"/>
<g stroke="#3a7dbf" stroke-width="1.1" stroke-opacity="0.95"><line x1="431.40" y1="230.90" x2="431.40" y2="250.70"/><line x1="429.90" y1="230.90" x2="432.90" y2="230.90"/><line x1="429.90" y1="250.70" x2="432.90" y2="250.70"/></g>
<circle cx="431.40" cy="240.70" r="2.1" fill="#3a7dbf"/>
<g stroke="#3a7dbf" stroke-width="1.1" stroke-opacity="0.95"><line x1="461.20" y1="232.10" x2="461.20" y2="252.40"/><line x1="459.70" y1="232.10" x2="462.70" y2="232.10"/><line x1="459.70" y1="252.40" x2="462.70" y2="252.40"/></g>
<circle cx="461.20" cy="242.40" r="2.1" fill="#3a7dbf"/>
<g stroke="#3a7dbf" stroke-width="1.1" stroke-opacity="0.95"><line x1="491.10" y1="230.00" x2="491.10" y2="250.00"/><line x1="489.60" y1="230.00" x2="492.60" y2="230.00"/><line x1="489.60" y1="250.00" x2="492.60" y2="250.00"/></g>
<circle cx="491.10" cy="239.60" r="2.1" fill="#3a7dbf"/>
<g stroke="#d2472b" stroke-width="1.1" stroke-opacity="0.85"><line x1="407.20" y1="228.70" x2="407.20" y2="251.10"/><line x1="405.70" y1="228.70" x2="408.70" y2="228.70"/><line x1="405.70" y1="251.10" x2="408.70" y2="251.10"/></g>
<circle cx="407.20" cy="239.60" r="2.1" fill="#d2472b"/>
<g stroke="#d2472b" stroke-width="1.1" stroke-opacity="0.85"><line x1="437.40" y1="228.30" x2="437.40" y2="250.00"/><line x1="435.90" y1="228.30" x2="438.90" y2="228.30"/><line x1="435.90" y1="250.00" x2="438.90" y2="250.00"/></g>
<circle cx="437.40" cy="238.50" r="2.1" fill="#d2472b"/>
<g stroke="#d2472b" stroke-width="1.1" stroke-opacity="0.85"><line x1="467.20" y1="225.10" x2="467.20" y2="248.10"/><line x1="465.70" y1="225.10" x2="468.70" y2="225.10"/><line x1="465.70" y1="248.10" x2="468.70" y2="248.10"/></g>
<circle cx="467.20" cy="236.40" r="2.1" fill="#d2472b"/>
<g stroke="#d2472b" stroke-width="1.1" stroke-opacity="0.85"><line x1="497.10" y1="223.60" x2="497.10" y2="245.40"/><line x1="495.60" y1="223.60" x2="498.60" y2="223.60"/><line x1="495.60" y1="245.40" x2="498.60" y2="245.40"/></g>
<circle cx="497.10" cy="234.30" r="2.1" fill="#d2472b"/>
<line x1="578.80" y1="52.50" x2="578.80" y2="135.65" stroke="#333333" stroke-width="0.75" />
<line x1="578.55" y1="135.40" x2="683.20" y2="135.40" stroke="#333333" stroke-width="0.75" />
<line x1="577.50" y1="65.70" x2="578.80" y2="65.70" stroke="#333333" stroke-width="0.75" />
<text x="576.80" y="68.97" font-size="8.5" fill="#444444" text-anchor="end" >16.5</text>
<line x1="577.50" y1="82.30" x2="578.80" y2="82.30" stroke="#333333" stroke-width="0.75" />
<text x="576.80" y="85.57" font-size="8.5" fill="#444444" text-anchor="end" >16.0</text>
<line x1="577.50" y1="98.90" x2="578.80" y2="98.90" stroke="#333333" stroke-width="0.75" />
<text x="576.80" y="102.17" font-size="8.5" fill="#444444" text-anchor="end" >15.5</text>
<line x1="577.50" y1="115.40" x2="578.80" y2="115.40" stroke="#333333" stroke-width="0.75" />
<text x="576.80" y="118.67" font-size="8.5" fill="#444444" text-anchor="end" >15.0</text>
<line x1="577.50" y1="132.00" x2="578.80" y2="132.00" stroke="#333333" stroke-width="0.75" />
<text x="576.80" y="135.27" font-size="8.5" fill="#444444" text-anchor="end" >14.5</text>
<line x1="589.20" y1="135.40" x2="589.20" y2="136.70" stroke="#333333" stroke-width="0.75" />
<text x="589.20" y="144.10" font-size="8.0" fill="#444444" text-anchor="middle" >2</text>
<line x1="616.90" y1="135.40" x2="616.90" y2="136.70" stroke="#333333" stroke-width="0.75" />
<text x="616.90" y="144.10" font-size="8.0" fill="#444444" text-anchor="middle" >3</text>
<line x1="644.90" y1="135.40" x2="644.90" y2="136.70" stroke="#333333" stroke-width="0.75" />
<text x="644.90" y="144.10" font-size="8.0" fill="#444444" text-anchor="middle" >4</text>
<line x1="673.10" y1="135.40" x2="673.10" y2="136.70" stroke="#333333" stroke-width="0.75" />
<text x="673.10" y="144.10" font-size="8.0" fill="#444444" text-anchor="middle" >5</text>
<text x="631.25" y="153.60" font-size="8.2" fill="#1a1a1a" text-anchor="middle" >Block</text>
<text transform="translate(557.40,93.50) rotate(-90)" font-size="8.2" fill="#111" stroke="#111" stroke-width="0.12" text-anchor="middle">Fitted VCT (%)</text>
<rect x="605.10" y="50.70" width="52.90" height="42.10" fill="#efefef"/>
<rect x="618.38" y="69.90" width="1.2" height="0.9" fill="#3a7dbf" fill-opacity="0.85"/>
<rect x="618.29" y="74.08" width="1.2" height="0.9" fill="#3a7dbf" fill-opacity="0.85"/>
<rect x="618.64" y="72.61" width="1.2" height="0.9" fill="#3a7dbf" fill-opacity="0.85"/>
<rect x="618.81" y="66.49" width="1.2" height="0.9" fill="#3a7dbf" fill-opacity="0.85"/>
<rect x="618.72" y="66.23" width="1.2" height="0.9" fill="#3a7dbf" fill-opacity="0.85"/>
<rect x="618.31" y="66.64" width="1.2" height="0.9" fill="#3a7dbf" fill-opacity="0.85"/>
<rect x="619.19" y="71.18" width="1.2" height="0.9" fill="#3a7dbf" fill-opacity="0.85"/>
<rect x="618.47" y="67.33" width="1.2" height="0.9" fill="#3a7dbf" fill-opacity="0.85"/>
<rect x="619.34" y="73.78" width="1.2" height="0.9" fill="#3a7dbf" fill-opacity="0.85"/>
<rect x="618.68" y="73.14" width="1.2" height="0.9" fill="#3a7dbf" fill-opacity="0.85"/>
<rect x="618.26" y="78.25" width="1.2" height="0.9" fill="#3a7dbf" fill-opacity="0.85"/>
<rect x="618.55" y="76.74" width="1.2" height="0.9" fill="#3a7dbf" fill-opacity="0.85"/>
<rect x="618.34" y="67.60" width="1.2" height="0.9" fill="#3a7dbf" fill-opacity="0.85"/>
<rect x="619.18" y="69.70" width="1.2" height="0.9" fill="#3a7dbf" fill-opacity="0.85"/>
<rect x="618.90" y="68.06" width="1.2" height="0.9" fill="#3a7dbf" fill-opacity="0.85"/>
<rect x="618.65" y="73.93" width="1.2" height="0.9" fill="#3a7dbf" fill-opacity="0.85"/>
<rect x="620.48" y="73.26" width="1.2" height="0.9" fill="#d2472b" fill-opacity="0.85"/>
<rect x="620.65" y="67.55" width="1.2" height="0.9" fill="#d2472b" fill-opacity="0.85"/>
<rect x="620.91" y="74.81" width="1.2" height="0.9" fill="#d2472b" fill-opacity="0.85"/>
<rect x="621.10" y="70.53" width="1.2" height="0.9" fill="#d2472b" fill-opacity="0.85"/>
<rect x="620.76" y="72.15" width="1.2" height="0.9" fill="#d2472b" fill-opacity="0.85"/>
<rect x="621.24" y="76.14" width="1.2" height="0.9" fill="#d2472b" fill-opacity="0.85"/>
<rect x="621.09" y="69.71" width="1.2" height="0.9" fill="#d2472b" fill-opacity="0.85"/>
<rect x="621.45" y="72.99" width="1.2" height="0.9" fill="#d2472b" fill-opacity="0.85"/>
<rect x="620.75" y="75.38" width="1.2" height="0.9" fill="#d2472b" fill-opacity="0.85"/>
<rect x="620.54" y="78.32" width="1.2" height="0.9" fill="#d2472b" fill-opacity="0.85"/>
<rect x="621.31" y="71.74" width="1.2" height="0.9" fill="#d2472b" fill-opacity="0.85"/>
<rect x="620.99" y="68.63" width="1.2" height="0.9" fill="#d2472b" fill-opacity="0.85"/>
<rect x="621.20" y="67.31" width="1.2" height="0.9" fill="#d2472b" fill-opacity="0.85"/>
<rect x="621.09" y="75.80" width="1.2" height="0.9" fill="#d2472b" fill-opacity="0.85"/>
<rect x="620.78" y="77.09" width="1.2" height="0.9" fill="#d2472b" fill-opacity="0.85"/>
<rect x="621.11" y="74.98" width="1.2" height="0.9" fill="#d2472b" fill-opacity="0.85"/>
<rect x="620.95" y="73.63" width="1.2" height="0.9" fill="#d2472b" fill-opacity="0.85"/>
<rect x="621.53" y="76.68" width="1.2" height="0.9" fill="#d2472b" fill-opacity="0.85"/>
<rect x="621.00" y="57.20" width="1.2" height="1.0" fill="#d2472b" fill-opacity="0.85"/>
<rect x="621.00" y="59.80" width="1.2" height="1.0" fill="#d2472b" fill-opacity="0.85"/>
<rect x="621.00" y="80.80" width="1.2" height="1.0" fill="#d2472b" fill-opacity="0.85"/>
<rect x="629.00" y="71.82" width="1.2" height="0.9" fill="#3a7dbf" fill-opacity="0.85"/>
<rect x="629.04" y="66.53" width="1.2" height="0.9" fill="#3a7dbf" fill-opacity="0.85"/>
<rect x="629.39" y="74.03" width="1.2" height="0.9" fill="#3a7dbf" fill-opacity="0.85"/>
<rect x="628.54" y="76.27" width="1.2" height="0.9" fill="#3a7dbf" fill-opacity="0.85"/>
<rect x="629.00" y="70.69" width="1.2" height="0.9" fill="#3a7dbf" fill-opacity="0.85"/>
<rect x="628.75" y="66.04" width="1.2" height="0.9" fill="#3a7dbf" fill-opacity="0.85"/>
<rect x="628.34" y="67.90" width="1.2" height="0.9" fill="#3a7dbf" fill-opacity="0.85"/>
<rect x="629.12" y="66.50" width="1.2" height="0.9" fill="#3a7dbf" fill-opacity="0.85"/>
<rect x="628.50" y="67.41" width="1.2" height="0.9" fill="#3a7dbf" fill-opacity="0.85"/>
<rect x="629.25" y="70.75" width="1.2" height="0.9" fill="#3a7dbf" fill-opacity="0.85"/>
<rect x="628.74" y="66.78" width="1.2" height="0.9" fill="#3a7dbf" fill-opacity="0.85"/>
<rect x="629.26" y="72.78" width="1.2" height="0.9" fill="#3a7dbf" fill-opacity="0.85"/>
<rect x="629.24" y="76.24" width="1.2" height="0.9" fill="#3a7dbf" fill-opacity="0.85"/>
<rect x="628.70" y="69.31" width="1.2" height="0.9" fill="#3a7dbf" fill-opacity="0.85"/>
<rect x="629.26" y="70.34" width="1.2" height="0.9" fill="#3a7dbf" fill-opacity="0.85"/>
<rect x="628.38" y="78.01" width="1.2" height="0.9" fill="#3a7dbf" fill-opacity="0.85"/>
<rect x="630.68" y="68.91" width="1.2" height="0.9" fill="#d2472b" fill-opacity="0.85"/>
<rect x="630.98" y="69.58" width="1.2" height="0.9" fill="#d2472b" fill-opacity="0.85"/>
<rect x="630.72" y="73.74" width="1.2" height="0.9" fill="#d2472b" fill-opacity="0.85"/>
<rect x="630.90" y="66.90" width="1.2" height="0.9" fill="#d2472b" fill-opacity="0.85"/>
<rect x="631.08" y="71.17" width="1.2" height="0.9" fill="#d2472b" fill-opacity="0.85"/>
<rect x="631.23" y="78.00" width="1.2" height="0.9" fill="#d2472b" fill-opacity="0.85"/>
<rect x="631.14" y="72.88" width="1.2" height="0.9" fill="#d2472b" fill-opacity="0.85"/>
<rect x="630.46" y="74.76" width="1.2" height="0.9" fill="#d2472b" fill-opacity="0.85"/>
<rect x="631.34" y="77.37" width="1.2" height="0.9" fill="#d2472b" fill-opacity="0.85"/>
<rect x="631.36" y="77.08" width="1.2" height="0.9" fill="#d2472b" fill-opacity="0.85"/>
<rect x="630.88" y="71.44" width="1.2" height="0.9" fill="#d2472b" fill-opacity="0.85"/>
<rect x="631.16" y="68.06" width="1.2" height="0.9" fill="#d2472b" fill-opacity="0.85"/>
<rect x="630.48" y="67.58" width="1.2" height="0.9" fill="#d2472b" fill-opacity="0.85"/>
<rect x="630.59" y="69.29" width="1.2" height="0.9" fill="#d2472b" fill-opacity="0.85"/>
<rect x="630.46" y="70.83" width="1.2" height="0.9" fill="#d2472b" fill-opacity="0.85"/>
<rect x="630.58" y="66.85" width="1.2" height="0.9" fill="#d2472b" fill-opacity="0.85"/>
<rect x="630.84" y="68.04" width="1.2" height="0.9" fill="#d2472b" fill-opacity="0.85"/>
<rect x="631.45" y="67.15" width="1.2" height="0.9" fill="#d2472b" fill-opacity="0.85"/>
<rect x="631.00" y="57.20" width="1.2" height="1.0" fill="#d2472b" fill-opacity="0.85"/>
<rect x="631.00" y="59.80" width="1.2" height="1.0" fill="#d2472b" fill-opacity="0.85"/>
<rect x="631.00" y="80.80" width="1.2" height="1.0" fill="#d2472b" fill-opacity="0.85"/>
<rect x="638.58" y="73.61" width="1.2" height="0.9" fill="#3a7dbf" fill-opacity="0.85"/>
<rect x="638.82" y="68.98" width="1.2" height="0.9" fill="#3a7dbf" fill-opacity="0.85"/>
<rect x="638.55" y="70.41" width="1.2" height="0.9" fill="#3a7dbf" fill-opacity="0.85"/>
<rect x="639.59" y="76.62" width="1.2" height="0.9" fill="#3a7dbf" fill-opacity="0.85"/>
<rect x="638.98" y="71.71" width="1.2" height="0.9" fill="#3a7dbf" fill-opacity="0.85"/>
<rect x="638.52" y="66.85" width="1.2" height="0.9" fill="#3a7dbf" fill-opacity="0.85"/>
<rect x="638.72" y="70.14" width="1.2" height="0.9" fill="#3a7dbf" fill-opacity="0.85"/>
<rect x="638.59" y="76.36" width="1.2" height="0.9" fill="#3a7dbf" fill-opacity="0.85"/>
<rect x="639.54" y="66.05" width="1.2" height="0.9" fill="#3a7dbf" fill-opacity="0.85"/>
<rect x="638.58" y="72.51" width="1.2" height="0.9" fill="#3a7dbf" fill-opacity="0.85"/>
<rect x="638.43" y="72.70" width="1.2" height="0.9" fill="#3a7dbf" fill-opacity="0.85"/>
<rect x="639.57" y="72.51" width="1.2" height="0.9" fill="#3a7dbf" fill-opacity="0.85"/>
<rect x="639.24" y="76.80" width="1.2" height="0.9" fill="#3a7dbf" fill-opacity="0.85"/>
<rect x="638.84" y="69.09" width="1.2" height="0.9" fill="#3a7dbf" fill-opacity="0.85"/>
<rect x="639.33" y="67.89" width="1.2" height="0.9" fill="#3a7dbf" fill-opacity="0.85"/>
<rect x="639.33" y="72.57" width="1.2" height="0.9" fill="#3a7dbf" fill-opacity="0.85"/>
<rect x="640.87" y="70.71" width="1.2" height="0.9" fill="#d2472b" fill-opacity="0.85"/>
<rect x="641.78" y="76.34" width="1.2" height="0.9" fill="#d2472b" fill-opacity="0.85"/>
<rect x="641.57" y="76.83" width="1.2" height="0.9" fill="#d2472b" fill-opacity="0.85"/>
<rect x="641.49" y="76.42" width="1.2" height="0.9" fill="#d2472b" fill-opacity="0.85"/>
<rect x="641.22" y="69.50" width="1.2" height="0.9" fill="#d2472b" fill-opacity="0.85"/>
<rect x="640.63" y="71.01" width="1.2" height="0.9" fill="#d2472b" fill-opacity="0.85"/>
<rect x="640.94" y="67.18" width="1.2" height="0.9" fill="#d2472b" fill-opacity="0.85"/>
<rect x="641.43" y="69.88" width="1.2" height="0.9" fill="#d2472b" fill-opacity="0.85"/>
<rect x="641.14" y="78.04" width="1.2" height="0.9" fill="#d2472b" fill-opacity="0.85"/>
<rect x="641.79" y="77.81" width="1.2" height="0.9" fill="#d2472b" fill-opacity="0.85"/>
<rect x="641.04" y="78.02" width="1.2" height="0.9" fill="#d2472b" fill-opacity="0.85"/>
<rect x="640.87" y="69.43" width="1.2" height="0.9" fill="#d2472b" fill-opacity="0.85"/>
<rect x="640.85" y="69.15" width="1.2" height="0.9" fill="#d2472b" fill-opacity="0.85"/>
<rect x="641.68" y="74.15" width="1.2" height="0.9" fill="#d2472b" fill-opacity="0.85"/>
<rect x="641.18" y="76.68" width="1.2" height="0.9" fill="#d2472b" fill-opacity="0.85"/>
<rect x="641.56" y="74.49" width="1.2" height="0.9" fill="#d2472b" fill-opacity="0.85"/>
<rect x="641.39" y="67.84" width="1.2" height="0.9" fill="#d2472b" fill-opacity="0.85"/>
<rect x="641.54" y="77.49" width="1.2" height="0.9" fill="#d2472b" fill-opacity="0.85"/>
<rect x="641.20" y="57.20" width="1.2" height="1.0" fill="#d2472b" fill-opacity="0.85"/>
<rect x="641.20" y="59.80" width="1.2" height="1.0" fill="#d2472b" fill-opacity="0.85"/>
<rect x="641.20" y="80.80" width="1.2" height="1.0" fill="#d2472b" fill-opacity="0.85"/>
<rect x="648.67" y="75.35" width="1.2" height="0.9" fill="#3a7dbf" fill-opacity="0.85"/>
<rect x="649.05" y="68.04" width="1.2" height="0.9" fill="#3a7dbf" fill-opacity="0.85"/>
<rect x="649.06" y="70.01" width="1.2" height="0.9" fill="#3a7dbf" fill-opacity="0.85"/>
<rect x="648.58" y="78.19" width="1.2" height="0.9" fill="#3a7dbf" fill-opacity="0.85"/>
<rect x="649.24" y="70.89" width="1.2" height="0.9" fill="#3a7dbf" fill-opacity="0.85"/>
<rect x="648.30" y="75.03" width="1.2" height="0.9" fill="#3a7dbf" fill-opacity="0.85"/>
<rect x="648.28" y="67.38" width="1.2" height="0.9" fill="#3a7dbf" fill-opacity="0.85"/>
<rect x="649.07" y="77.33" width="1.2" height="0.9" fill="#3a7dbf" fill-opacity="0.85"/>
<rect x="649.09" y="67.62" width="1.2" height="0.9" fill="#3a7dbf" fill-opacity="0.85"/>
<rect x="648.89" y="78.30" width="1.2" height="0.9" fill="#3a7dbf" fill-opacity="0.85"/>
<rect x="648.76" y="70.24" width="1.2" height="0.9" fill="#3a7dbf" fill-opacity="0.85"/>
<rect x="648.12" y="67.43" width="1.2" height="0.9" fill="#3a7dbf" fill-opacity="0.85"/>
<rect x="648.88" y="78.18" width="1.2" height="0.9" fill="#3a7dbf" fill-opacity="0.85"/>
<rect x="649.22" y="72.49" width="1.2" height="0.9" fill="#3a7dbf" fill-opacity="0.85"/>
<rect x="649.15" y="71.30" width="1.2" height="0.9" fill="#3a7dbf" fill-opacity="0.85"/>
<rect x="648.35" y="76.32" width="1.2" height="0.9" fill="#3a7dbf" fill-opacity="0.85"/>
<rect x="650.65" y="69.80" width="1.2" height="0.9" fill="#d2472b" fill-opacity="0.85"/>
<rect x="651.00" y="69.66" width="1.2" height="0.9" fill="#d2472b" fill-opacity="0.85"/>
<rect x="650.80" y="69.88" width="1.2" height="0.9" fill="#d2472b" fill-opacity="0.85"/>
<rect x="651.39" y="68.38" width="1.2" height="0.9" fill="#d2472b" fill-opacity="0.85"/>
<rect x="650.85" y="70.99" width="1.2" height="0.9" fill="#d2472b" fill-opacity="0.85"/>
<rect x="651.39" y="73.68" width="1.2" height="0.9" fill="#d2472b" fill-opacity="0.85"/>
<rect x="651.40" y="71.77" width="1.2" height="0.9" fill="#d2472b" fill-opacity="0.85"/>
<rect x="650.94" y="72.72" width="1.2" height="0.9" fill="#d2472b" fill-opacity="0.85"/>
<rect x="650.32" y="72.98" width="1.2" height="0.9" fill="#d2472b" fill-opacity="0.85"/>
<rect x="650.52" y="72.00" width="1.2" height="0.9" fill="#d2472b" fill-opacity="0.85"/>
<rect x="651.26" y="66.90" width="1.2" height="0.9" fill="#d2472b" fill-opacity="0.85"/>
<rect x="650.87" y="68.87" width="1.2" height="0.9" fill="#d2472b" fill-opacity="0.85"/>
<rect x="650.97" y="75.33" width="1.2" height="0.9" fill="#d2472b" fill-opacity="0.85"/>
<rect x="650.92" y="70.66" width="1.2" height="0.9" fill="#d2472b" fill-opacity="0.85"/>
<rect x="651.24" y="73.35" width="1.2" height="0.9" fill="#d2472b" fill-opacity="0.85"/>
<rect x="650.97" y="68.09" width="1.2" height="0.9" fill="#d2472b" fill-opacity="0.85"/>
<rect x="650.63" y="69.76" width="1.2" height="0.9" fill="#d2472b" fill-opacity="0.85"/>
<rect x="650.91" y="75.89" width="1.2" height="0.9" fill="#d2472b" fill-opacity="0.85"/>
<rect x="650.90" y="57.20" width="1.2" height="1.0" fill="#d2472b" fill-opacity="0.85"/>
<rect x="650.90" y="59.80" width="1.2" height="1.0" fill="#d2472b" fill-opacity="0.85"/>
<rect x="650.90" y="80.80" width="1.2" height="1.0" fill="#d2472b" fill-opacity="0.85"/>
<line x1="616.80" y1="56.10" x2="616.80" y2="83.55" stroke="#333" stroke-width="0.75" />
<line x1="616.45" y1="83.20" x2="654.80" y2="83.20" stroke="#333" stroke-width="0.75" />
<line x1="615.50" y1="57.10" x2="616.80" y2="57.10" stroke="#333" stroke-width="0.6" />
<text x="614.70" y="59.40" font-size="6.6" fill="#444444" text-anchor="end" >24</text>
<line x1="615.50" y1="63.50" x2="616.80" y2="63.50" stroke="#333" stroke-width="0.6" />
<text x="614.70" y="65.80" font-size="6.6" fill="#444444" text-anchor="end" >20</text>
<line x1="615.50" y1="71.00" x2="616.80" y2="71.00" stroke="#333" stroke-width="0.6" />
<text x="614.70" y="73.30" font-size="6.6" fill="#444444" text-anchor="end" >16</text>
<line x1="615.50" y1="77.90" x2="616.80" y2="77.90" stroke="#333" stroke-width="0.6" />
<text x="614.70" y="80.20" font-size="6.6" fill="#444444" text-anchor="end" >12</text>
<line x1="620.50" y1="83.20" x2="620.50" y2="84.50" stroke="#333" stroke-width="0.6" />
<text x="620.50" y="90.30" font-size="6.6" fill="#444444" text-anchor="middle" >2</text>
<line x1="630.50" y1="83.20" x2="630.50" y2="84.50" stroke="#333" stroke-width="0.6" />
<text x="630.50" y="90.30" font-size="6.6" fill="#444444" text-anchor="middle" >3</text>
<line x1="640.70" y1="83.20" x2="640.70" y2="84.50" stroke="#333" stroke-width="0.6" />
<text x="640.70" y="90.30" font-size="6.6" fill="#444444" text-anchor="middle" >4</text>
<line x1="650.40" y1="83.20" x2="650.40" y2="84.50" stroke="#333" stroke-width="0.6" />
<text x="650.40" y="90.30" font-size="6.6" fill="#444444" text-anchor="middle" >5</text>
<path d="M586.10,107.30 L614.20,106.80 L642.30,107.50 L670.50,107.50" fill="none" stroke="#3a7dbf" stroke-width="1.1" stroke-opacity="0.7"/>
<path d="M591.80,107.90 L619.90,112.60 L648.10,116.00 L676.00,118.10" fill="none" stroke="#d2472b" stroke-width="1.1" stroke-opacity="0.8"/>
<g stroke="#3a7dbf" stroke-width="1.1" stroke-opacity="0.95"><line x1="586.10" y1="99.40" x2="586.10" y2="114.30"/><line x1="584.60" y1="99.40" x2="587.60" y2="99.40"/><line x1="584.60" y1="114.30" x2="587.60" y2="114.30"/></g>
<circle cx="586.10" cy="107.30" r="2.1" fill="#3a7dbf"/>
<g stroke="#3a7dbf" stroke-width="1.1" stroke-opacity="0.95"><line x1="614.20" y1="99.40" x2="614.20" y2="114.30"/><line x1="612.70" y1="99.40" x2="615.70" y2="99.40"/><line x1="612.70" y1="114.30" x2="615.70" y2="114.30"/></g>
<circle cx="614.20" cy="106.80" r="2.1" fill="#3a7dbf"/>
<g stroke="#3a7dbf" stroke-width="1.1" stroke-opacity="0.95"><line x1="642.30" y1="100.00" x2="642.30" y2="114.30"/><line x1="640.80" y1="100.00" x2="643.80" y2="100.00"/><line x1="640.80" y1="114.30" x2="643.80" y2="114.30"/></g>
<circle cx="642.30" cy="107.50" r="2.1" fill="#3a7dbf"/>
<g stroke="#3a7dbf" stroke-width="1.1" stroke-opacity="0.95"><line x1="670.50" y1="99.80" x2="670.50" y2="115.40"/><line x1="669.00" y1="99.80" x2="672.00" y2="99.80"/><line x1="669.00" y1="115.40" x2="672.00" y2="115.40"/></g>
<circle cx="670.50" cy="107.50" r="2.1" fill="#3a7dbf"/>
<g stroke="#d2472b" stroke-width="1.1" stroke-opacity="0.85"><line x1="591.80" y1="99.40" x2="591.80" y2="116.40"/><line x1="590.30" y1="99.40" x2="593.30" y2="99.40"/><line x1="590.30" y1="116.40" x2="593.30" y2="116.40"/></g>
<circle cx="591.80" cy="107.90" r="2.1" fill="#d2472b"/>
<g stroke="#d2472b" stroke-width="1.1" stroke-opacity="0.85"><line x1="619.90" y1="104.30" x2="619.90" y2="121.10"/><line x1="618.40" y1="104.30" x2="621.40" y2="104.30"/><line x1="618.40" y1="121.10" x2="621.40" y2="121.10"/></g>
<circle cx="619.90" cy="112.60" r="2.1" fill="#d2472b"/>
<g stroke="#d2472b" stroke-width="1.1" stroke-opacity="0.85"><line x1="648.10" y1="107.50" x2="648.10" y2="124.50"/><line x1="646.60" y1="107.50" x2="649.60" y2="107.50"/><line x1="646.60" y1="124.50" x2="649.60" y2="124.50"/></g>
<circle cx="648.10" cy="116.00" r="2.1" fill="#d2472b"/>
<g stroke="#d2472b" stroke-width="1.1" stroke-opacity="0.85"><line x1="676.00" y1="109.00" x2="676.00" y2="127.10"/><line x1="674.50" y1="109.00" x2="677.50" y2="109.00"/><line x1="674.50" y1="127.10" x2="677.50" y2="127.10"/></g>
<circle cx="676.00" cy="118.10" r="2.1" fill="#d2472b"/>
<path d="M674.00,93.80 L674.00,91.20 M674.00,93.80 L676.47,93.00 M674.00,93.80 L675.53,95.90 M674.00,93.80 L672.47,95.90 M674.00,93.80 L671.53,93.00 " stroke="#d2472b" stroke-width="1.5" stroke-linecap="round" fill="none"/>
<line x1="578.80" y1="181.40" x2="578.80" y2="265.25" stroke="#333333" stroke-width="0.75" />
<line x1="578.55" y1="265.00" x2="683.20" y2="265.00" stroke="#333333" stroke-width="0.75" />
<line x1="577.50" y1="195.30" x2="578.80" y2="195.30" stroke="#333333" stroke-width="0.75" />
<text x="576.80" y="198.57" font-size="8.5" fill="#444444" text-anchor="end" >16.5</text>
<line x1="577.50" y1="211.70" x2="578.80" y2="211.70" stroke="#333333" stroke-width="0.75" />
<text x="576.80" y="214.97" font-size="8.5" fill="#444444" text-anchor="end" >16.0</text>
<line x1="577.50" y1="228.30" x2="578.80" y2="228.30" stroke="#333333" stroke-width="0.75" />
<text x="576.80" y="231.57" font-size="8.5" fill="#444444" text-anchor="end" >15.5</text>
<line x1="577.50" y1="244.70" x2="578.80" y2="244.70" stroke="#333333" stroke-width="0.75" />
<text x="576.80" y="247.97" font-size="8.5" fill="#444444" text-anchor="end" >15.0</text>
<line x1="577.50" y1="261.40" x2="578.80" y2="261.40" stroke="#333333" stroke-width="0.75" />
<text x="576.80" y="264.67" font-size="8.5" fill="#444444" text-anchor="end" >14.5</text>
<line x1="589.20" y1="265.00" x2="589.20" y2="266.30" stroke="#333333" stroke-width="0.75" />
<text x="589.20" y="273.70" font-size="8.0" fill="#444444" text-anchor="middle" >2</text>
<line x1="616.90" y1="265.00" x2="616.90" y2="266.30" stroke="#333333" stroke-width="0.75" />
<text x="616.90" y="273.70" font-size="8.0" fill="#444444" text-anchor="middle" >3</text>
<line x1="644.90" y1="265.00" x2="644.90" y2="266.30" stroke="#333333" stroke-width="0.75" />
<text x="644.90" y="273.70" font-size="8.0" fill="#444444" text-anchor="middle" >4</text>
<line x1="673.10" y1="265.00" x2="673.10" y2="266.30" stroke="#333333" stroke-width="0.75" />
<text x="673.10" y="273.70" font-size="8.0" fill="#444444" text-anchor="middle" >5</text>
<text x="631.15" y="282.80" font-size="8.2" fill="#1a1a1a" text-anchor="middle" >Block</text>
<text transform="translate(557.40,223.00) rotate(-90)" font-size="8.2" fill="#111" stroke="#111" stroke-width="0.12" text-anchor="middle">Fitted VCT (%)</text>
<rect x="605.30" y="179.70" width="53.80" height="41.60" fill="#efefef"/>
<rect x="618.80" y="187.00" width="1.2" height="1.0" fill="#3a7dbf" fill-opacity="0.85"/>
<rect x="619.35" y="195.72" width="1.2" height="0.9" fill="#3a7dbf" fill-opacity="0.85"/>
<rect x="619.05" y="194.32" width="1.2" height="0.9" fill="#3a7dbf" fill-opacity="0.85"/>
<rect x="618.50" y="193.74" width="1.2" height="0.9" fill="#3a7dbf" fill-opacity="0.85"/>
<rect x="618.45" y="206.54" width="1.2" height="0.9" fill="#3a7dbf" fill-opacity="0.85"/>
<rect x="618.75" y="201.54" width="1.2" height="0.9" fill="#3a7dbf" fill-opacity="0.85"/>
<rect x="618.79" y="198.89" width="1.2" height="0.9" fill="#3a7dbf" fill-opacity="0.85"/>
<rect x="619.20" y="195.24" width="1.2" height="0.9" fill="#3a7dbf" fill-opacity="0.85"/>
<rect x="618.48" y="193.80" width="1.2" height="0.9" fill="#3a7dbf" fill-opacity="0.85"/>
<rect x="618.52" y="192.83" width="1.2" height="0.9" fill="#3a7dbf" fill-opacity="0.85"/>
<rect x="619.28" y="198.26" width="1.2" height="0.9" fill="#3a7dbf" fill-opacity="0.85"/>
<rect x="618.34" y="197.86" width="1.2" height="0.9" fill="#3a7dbf" fill-opacity="0.85"/>
<rect x="619.39" y="196.17" width="1.2" height="0.9" fill="#3a7dbf" fill-opacity="0.85"/>
<rect x="618.94" y="193.43" width="1.2" height="0.9" fill="#3a7dbf" fill-opacity="0.85"/>
<rect x="618.99" y="197.83" width="1.2" height="0.9" fill="#3a7dbf" fill-opacity="0.85"/>
<rect x="621.00" y="186.40" width="1.2" height="1.0" fill="#d2472b" fill-opacity="0.85"/>
<rect x="621.23" y="196.61" width="1.2" height="0.9" fill="#d2472b" fill-opacity="0.85"/>
<rect x="621.18" y="198.52" width="1.2" height="0.9" fill="#d2472b" fill-opacity="0.85"/>
<rect x="621.10" y="203.37" width="1.2" height="0.9" fill="#d2472b" fill-opacity="0.85"/>
<rect x="620.48" y="194.26" width="1.2" height="0.9" fill="#d2472b" fill-opacity="0.85"/>
<rect x="620.99" y="203.90" width="1.2" height="0.9" fill="#d2472b" fill-opacity="0.85"/>
<rect x="621.54" y="194.88" width="1.2" height="0.9" fill="#d2472b" fill-opacity="0.85"/>
<rect x="621.27" y="199.50" width="1.2" height="0.9" fill="#d2472b" fill-opacity="0.85"/>
<rect x="620.74" y="203.12" width="1.2" height="0.9" fill="#d2472b" fill-opacity="0.85"/>
<rect x="621.45" y="196.83" width="1.2" height="0.9" fill="#d2472b" fill-opacity="0.85"/>
<rect x="621.32" y="194.17" width="1.2" height="0.9" fill="#d2472b" fill-opacity="0.85"/>
<rect x="621.23" y="193.72" width="1.2" height="0.9" fill="#d2472b" fill-opacity="0.85"/>
<rect x="621.54" y="200.98" width="1.2" height="0.9" fill="#d2472b" fill-opacity="0.85"/>
<rect x="621.00" y="202.67" width="1.2" height="0.9" fill="#d2472b" fill-opacity="0.85"/>
<rect x="620.58" y="194.92" width="1.2" height="0.9" fill="#d2472b" fill-opacity="0.85"/>
<rect x="621.00" y="210.10" width="1.2" height="1.0" fill="#d2472b" fill-opacity="0.85"/>
<rect x="628.90" y="187.00" width="1.2" height="1.0" fill="#3a7dbf" fill-opacity="0.85"/>
<rect x="628.91" y="199.95" width="1.2" height="0.9" fill="#3a7dbf" fill-opacity="0.85"/>
<rect x="629.38" y="193.55" width="1.2" height="0.9" fill="#3a7dbf" fill-opacity="0.85"/>
<rect x="629.14" y="199.65" width="1.2" height="0.9" fill="#3a7dbf" fill-opacity="0.85"/>
<rect x="628.59" y="195.63" width="1.2" height="0.9" fill="#3a7dbf" fill-opacity="0.85"/>
<rect x="628.71" y="192.72" width="1.2" height="0.9" fill="#3a7dbf" fill-opacity="0.85"/>
<rect x="628.81" y="196.29" width="1.2" height="0.9" fill="#3a7dbf" fill-opacity="0.85"/>
<rect x="629.30" y="197.83" width="1.2" height="0.9" fill="#3a7dbf" fill-opacity="0.85"/>
<rect x="628.51" y="205.03" width="1.2" height="0.9" fill="#3a7dbf" fill-opacity="0.85"/>
<rect x="628.50" y="198.10" width="1.2" height="0.9" fill="#3a7dbf" fill-opacity="0.85"/>
<rect x="629.47" y="201.83" width="1.2" height="0.9" fill="#3a7dbf" fill-opacity="0.85"/>
<rect x="629.22" y="195.38" width="1.2" height="0.9" fill="#3a7dbf" fill-opacity="0.85"/>
<rect x="628.32" y="196.75" width="1.2" height="0.9" fill="#3a7dbf" fill-opacity="0.85"/>
<rect x="628.71" y="203.25" width="1.2" height="0.9" fill="#3a7dbf" fill-opacity="0.85"/>
<rect x="628.82" y="194.93" width="1.2" height="0.9" fill="#3a7dbf" fill-opacity="0.85"/>
<rect x="631.10" y="186.40" width="1.2" height="1.0" fill="#d2472b" fill-opacity="0.85"/>
<rect x="630.99" y="195.33" width="1.2" height="0.9" fill="#d2472b" fill-opacity="0.85"/>
<rect x="631.00" y="197.90" width="1.2" height="0.9" fill="#d2472b" fill-opacity="0.85"/>
<rect x="630.85" y="199.61" width="1.2" height="0.9" fill="#d2472b" fill-opacity="0.85"/>
<rect x="630.60" y="193.69" width="1.2" height="0.9" fill="#d2472b" fill-opacity="0.85"/>
<rect x="631.13" y="193.83" width="1.2" height="0.9" fill="#d2472b" fill-opacity="0.85"/>
<rect x="631.47" y="196.87" width="1.2" height="0.9" fill="#d2472b" fill-opacity="0.85"/>
<rect x="631.35" y="198.61" width="1.2" height="0.9" fill="#d2472b" fill-opacity="0.85"/>
<rect x="630.58" y="204.31" width="1.2" height="0.9" fill="#d2472b" fill-opacity="0.85"/>
<rect x="630.67" y="192.75" width="1.2" height="0.9" fill="#d2472b" fill-opacity="0.85"/>
<rect x="631.19" y="197.19" width="1.2" height="0.9" fill="#d2472b" fill-opacity="0.85"/>
<rect x="630.92" y="201.48" width="1.2" height="0.9" fill="#d2472b" fill-opacity="0.85"/>
<rect x="630.50" y="204.13" width="1.2" height="0.9" fill="#d2472b" fill-opacity="0.85"/>
<rect x="630.75" y="202.58" width="1.2" height="0.9" fill="#d2472b" fill-opacity="0.85"/>
<rect x="630.54" y="203.05" width="1.2" height="0.9" fill="#d2472b" fill-opacity="0.85"/>
<rect x="631.10" y="210.10" width="1.2" height="1.0" fill="#d2472b" fill-opacity="0.85"/>
<rect x="639.00" y="187.00" width="1.2" height="1.0" fill="#3a7dbf" fill-opacity="0.85"/>
<rect x="639.31" y="206.06" width="1.2" height="0.9" fill="#3a7dbf" fill-opacity="0.85"/>
<rect x="639.10" y="206.42" width="1.2" height="0.9" fill="#3a7dbf" fill-opacity="0.85"/>
<rect x="639.56" y="195.04" width="1.2" height="0.9" fill="#3a7dbf" fill-opacity="0.85"/>
<rect x="638.50" y="198.73" width="1.2" height="0.9" fill="#3a7dbf" fill-opacity="0.85"/>
<rect x="639.00" y="201.03" width="1.2" height="0.9" fill="#3a7dbf" fill-opacity="0.85"/>
<rect x="638.59" y="199.17" width="1.2" height="0.9" fill="#3a7dbf" fill-opacity="0.85"/>
<rect x="639.10" y="194.26" width="1.2" height="0.9" fill="#3a7dbf" fill-opacity="0.85"/>
<rect x="638.55" y="198.89" width="1.2" height="0.9" fill="#3a7dbf" fill-opacity="0.85"/>
<rect x="639.27" y="198.70" width="1.2" height="0.9" fill="#3a7dbf" fill-opacity="0.85"/>
<rect x="638.97" y="202.57" width="1.2" height="0.9" fill="#3a7dbf" fill-opacity="0.85"/>
<rect x="638.83" y="198.06" width="1.2" height="0.9" fill="#3a7dbf" fill-opacity="0.85"/>
<rect x="638.64" y="195.71" width="1.2" height="0.9" fill="#3a7dbf" fill-opacity="0.85"/>
<rect x="638.53" y="198.80" width="1.2" height="0.9" fill="#3a7dbf" fill-opacity="0.85"/>
<rect x="639.25" y="202.70" width="1.2" height="0.9" fill="#3a7dbf" fill-opacity="0.85"/>
<rect x="641.20" y="186.40" width="1.2" height="1.0" fill="#d2472b" fill-opacity="0.85"/>
<rect x="640.63" y="199.89" width="1.2" height="0.9" fill="#d2472b" fill-opacity="0.85"/>
<rect x="641.12" y="196.92" width="1.2" height="0.9" fill="#d2472b" fill-opacity="0.85"/>
<rect x="641.76" y="193.67" width="1.2" height="0.9" fill="#d2472b" fill-opacity="0.85"/>
<rect x="641.20" y="201.62" width="1.2" height="0.9" fill="#d2472b" fill-opacity="0.85"/>
<rect x="640.84" y="201.01" width="1.2" height="0.9" fill="#d2472b" fill-opacity="0.85"/>
<rect x="641.23" y="195.30" width="1.2" height="0.9" fill="#d2472b" fill-opacity="0.85"/>
<rect x="641.38" y="201.48" width="1.2" height="0.9" fill="#d2472b" fill-opacity="0.85"/>
<rect x="641.34" y="192.63" width="1.2" height="0.9" fill="#d2472b" fill-opacity="0.85"/>
<rect x="641.49" y="203.46" width="1.2" height="0.9" fill="#d2472b" fill-opacity="0.85"/>
<rect x="641.78" y="203.68" width="1.2" height="0.9" fill="#d2472b" fill-opacity="0.85"/>
<rect x="640.96" y="195.23" width="1.2" height="0.9" fill="#d2472b" fill-opacity="0.85"/>
<rect x="641.77" y="199.12" width="1.2" height="0.9" fill="#d2472b" fill-opacity="0.85"/>
<rect x="641.73" y="196.98" width="1.2" height="0.9" fill="#d2472b" fill-opacity="0.85"/>
<rect x="641.22" y="202.76" width="1.2" height="0.9" fill="#d2472b" fill-opacity="0.85"/>
<rect x="641.20" y="210.10" width="1.2" height="1.0" fill="#d2472b" fill-opacity="0.85"/>
<rect x="648.90" y="187.00" width="1.2" height="1.0" fill="#3a7dbf" fill-opacity="0.85"/>
<rect x="649.45" y="201.30" width="1.2" height="0.9" fill="#3a7dbf" fill-opacity="0.85"/>
<rect x="648.65" y="203.52" width="1.2" height="0.9" fill="#3a7dbf" fill-opacity="0.85"/>
<rect x="648.53" y="204.39" width="1.2" height="0.9" fill="#3a7dbf" fill-opacity="0.85"/>
<rect x="649.45" y="197.73" width="1.2" height="0.9" fill="#3a7dbf" fill-opacity="0.85"/>
<rect x="648.67" y="204.41" width="1.2" height="0.9" fill="#3a7dbf" fill-opacity="0.85"/>
<rect x="649.04" y="196.62" width="1.2" height="0.9" fill="#3a7dbf" fill-opacity="0.85"/>
<rect x="649.12" y="204.35" width="1.2" height="0.9" fill="#3a7dbf" fill-opacity="0.85"/>
<rect x="649.17" y="205.65" width="1.2" height="0.9" fill="#3a7dbf" fill-opacity="0.85"/>
<rect x="649.03" y="204.04" width="1.2" height="0.9" fill="#3a7dbf" fill-opacity="0.85"/>
<rect x="648.81" y="197.62" width="1.2" height="0.9" fill="#3a7dbf" fill-opacity="0.85"/>
<rect x="648.93" y="199.41" width="1.2" height="0.9" fill="#3a7dbf" fill-opacity="0.85"/>
<rect x="648.62" y="204.28" width="1.2" height="0.9" fill="#3a7dbf" fill-opacity="0.85"/>
<rect x="649.18" y="193.51" width="1.2" height="0.9" fill="#3a7dbf" fill-opacity="0.85"/>
<rect x="648.80" y="196.34" width="1.2" height="0.9" fill="#3a7dbf" fill-opacity="0.85"/>
<rect x="651.10" y="186.40" width="1.2" height="1.0" fill="#d2472b" fill-opacity="0.85"/>
<rect x="651.50" y="193.95" width="1.2" height="0.9" fill="#d2472b" fill-opacity="0.85"/>
<rect x="650.85" y="195.84" width="1.2" height="0.9" fill="#d2472b" fill-opacity="0.85"/>
<rect x="651.11" y="202.20" width="1.2" height="0.9" fill="#d2472b" fill-opacity="0.85"/>
<rect x="651.57" y="195.88" width="1.2" height="0.9" fill="#d2472b" fill-opacity="0.85"/>
<rect x="650.93" y="197.49" width="1.2" height="0.9" fill="#d2472b" fill-opacity="0.85"/>
<rect x="651.45" y="204.14" width="1.2" height="0.9" fill="#d2472b" fill-opacity="0.85"/>
<rect x="650.80" y="201.52" width="1.2" height="0.9" fill="#d2472b" fill-opacity="0.85"/>
<rect x="651.22" y="202.31" width="1.2" height="0.9" fill="#d2472b" fill-opacity="0.85"/>
<rect x="650.94" y="202.51" width="1.2" height="0.9" fill="#d2472b" fill-opacity="0.85"/>
<rect x="651.45" y="201.92" width="1.2" height="0.9" fill="#d2472b" fill-opacity="0.85"/>
<rect x="651.29" y="197.21" width="1.2" height="0.9" fill="#d2472b" fill-opacity="0.85"/>
<rect x="651.69" y="201.91" width="1.2" height="0.9" fill="#d2472b" fill-opacity="0.85"/>
<rect x="651.44" y="203.60" width="1.2" height="0.9" fill="#d2472b" fill-opacity="0.85"/>
<rect x="651.23" y="194.19" width="1.2" height="0.9" fill="#d2472b" fill-opacity="0.85"/>
<rect x="651.10" y="210.10" width="1.2" height="1.0" fill="#d2472b" fill-opacity="0.85"/>
<line x1="616.80" y1="186.10" x2="616.80" y2="212.55" stroke="#333" stroke-width="0.75" />
<line x1="616.45" y1="212.20" x2="654.80" y2="212.20" stroke="#333" stroke-width="0.75" />
<line x1="615.50" y1="191.50" x2="616.80" y2="191.50" stroke="#333" stroke-width="0.6" />
<text x="614.70" y="193.80" font-size="6.6" fill="#444444" text-anchor="end" >20</text>
<line x1="615.50" y1="198.40" x2="616.80" y2="198.40" stroke="#333" stroke-width="0.6" />
<text x="614.70" y="200.70" font-size="6.6" fill="#444444" text-anchor="end" >16</text>
<line x1="615.50" y1="205.60" x2="616.80" y2="205.60" stroke="#333" stroke-width="0.6" />
<text x="614.70" y="207.90" font-size="6.6" fill="#444444" text-anchor="end" >12</text>
<line x1="620.50" y1="212.20" x2="620.50" y2="213.50" stroke="#333" stroke-width="0.6" />
<text x="620.50" y="219.90" font-size="6.6" fill="#444444" text-anchor="middle" >2</text>
<line x1="630.60" y1="212.20" x2="630.60" y2="213.50" stroke="#333" stroke-width="0.6" />
<text x="630.60" y="219.90" font-size="6.6" fill="#444444" text-anchor="middle" >3</text>
<line x1="640.70" y1="212.20" x2="640.70" y2="213.50" stroke="#333" stroke-width="0.6" />
<text x="640.70" y="219.90" font-size="6.6" fill="#444444" text-anchor="middle" >4</text>
<line x1="650.60" y1="212.20" x2="650.60" y2="213.50" stroke="#333" stroke-width="0.6" />
<text x="650.60" y="219.90" font-size="6.6" fill="#444444" text-anchor="middle" >5</text>
<path d="M586.10,235.30 L614.20,235.80 L642.30,237.30 L670.50,238.30" fill="none" stroke="#3a7dbf" stroke-width="1.1" stroke-opacity="0.7"/>
<path d="M591.80,236.80 L619.90,243.20 L648.10,243.70 L676.00,241.10" fill="none" stroke="#d2472b" stroke-width="1.1" stroke-opacity="0.8"/>
<g stroke="#3a7dbf" stroke-width="1.1" stroke-opacity="0.95"><line x1="586.10" y1="224.00" x2="586.10" y2="245.80"/><line x1="584.60" y1="224.00" x2="587.60" y2="224.00"/><line x1="584.60" y1="245.80" x2="587.60" y2="245.80"/></g>
<circle cx="586.10" cy="235.30" r="2.1" fill="#3a7dbf"/>
<g stroke="#3a7dbf" stroke-width="1.1" stroke-opacity="0.95"><line x1="614.20" y1="224.00" x2="614.20" y2="246.40"/><line x1="612.70" y1="224.00" x2="615.70" y2="224.00"/><line x1="612.70" y1="246.40" x2="615.70" y2="246.40"/></g>
<circle cx="614.20" cy="235.80" r="2.1" fill="#3a7dbf"/>
<g stroke="#3a7dbf" stroke-width="1.1" stroke-opacity="0.95"><line x1="642.30" y1="225.50" x2="642.30" y2="247.50"/><line x1="640.80" y1="225.50" x2="643.80" y2="225.50"/><line x1="640.80" y1="247.50" x2="643.80" y2="247.50"/></g>
<circle cx="642.30" cy="237.30" r="2.1" fill="#3a7dbf"/>
<g stroke="#3a7dbf" stroke-width="1.1" stroke-opacity="0.95"><line x1="670.50" y1="226.60" x2="670.50" y2="248.60"/><line x1="669.00" y1="226.60" x2="672.00" y2="226.60"/><line x1="669.00" y1="248.60" x2="672.00" y2="248.60"/></g>
<circle cx="670.50" cy="238.30" r="2.1" fill="#3a7dbf"/>
<g stroke="#d2472b" stroke-width="1.1" stroke-opacity="0.85"><line x1="591.80" y1="226.20" x2="591.80" y2="248.10"/><line x1="590.30" y1="226.20" x2="593.30" y2="226.20"/><line x1="590.30" y1="248.10" x2="593.30" y2="248.10"/></g>
<circle cx="591.80" cy="236.80" r="2.1" fill="#d2472b"/>
<g stroke="#d2472b" stroke-width="1.1" stroke-opacity="0.85"><line x1="619.90" y1="232.10" x2="619.90" y2="253.90"/><line x1="618.40" y1="232.10" x2="621.40" y2="232.10"/><line x1="618.40" y1="253.90" x2="621.40" y2="253.90"/></g>
<circle cx="619.90" cy="243.20" r="2.1" fill="#d2472b"/>
<g stroke="#d2472b" stroke-width="1.1" stroke-opacity="0.85"><line x1="648.10" y1="232.60" x2="648.10" y2="254.50"/><line x1="646.60" y1="232.60" x2="649.60" y2="232.60"/><line x1="646.60" y1="254.50" x2="649.60" y2="254.50"/></g>
<circle cx="648.10" cy="243.70" r="2.1" fill="#d2472b"/>
<g stroke="#d2472b" stroke-width="1.1" stroke-opacity="0.85"><line x1="676.00" y1="230.40" x2="676.00" y2="251.30"/><line x1="674.50" y1="230.40" x2="677.50" y2="230.40"/><line x1="674.50" y1="251.30" x2="677.50" y2="251.30"/></g>
<circle cx="676.00" cy="241.10" r="2.1" fill="#d2472b"/>
<text x="1.60" y="325.10" font-size="22" fill="#000" text-anchor="start" stroke="#000" stroke-width="0.15">E</text>
<rect x="31.3" y="374.4" width="68.70" height="29.30" rx="5" fill="#faf6ef"/>
<text x="42.10" y="394.30" font-size="15.6" fill="#111" text-anchor="start" stroke="#111" stroke-width="0.15">Δ HbO</text>
<rect x="315.1" y="332.9" width="68.80" height="30.10" rx="5" fill="#edf0f7"/>
<text x="323.10" y="352.90" font-size="15.2" fill="#111" text-anchor="start" stroke="#111" stroke-width="0.15">Δ Alpha</text>
<rect x="316.5" y="394.6" width="68.60" height="28.70" rx="5" fill="#eef0f7"/>
<text x="326.70" y="414.60" font-size="15.2" fill="#111" text-anchor="start" stroke="#111" stroke-width="0.15">Δ Beta</text>
<rect x="608.1" y="374.1" width="68.70" height="29.50" rx="5" fill="#eff4ec"/>
<text x="618.40" y="394.10" font-size="14.7" fill="#111" text-anchor="start" stroke="#111" stroke-width="0.15">Δ VCT</text>
<line x1="104" y1="386.6" x2="311.8" y2="347.5" stroke="#222" stroke-width="1.3" stroke-dasharray="4.7 3.4"/>
<path d="M307.44,351.37 L311.80,347.50 L306.33,345.48" fill="none" stroke="#222" stroke-width="1.3"/>
<line x1="104" y1="390" x2="313.2" y2="410.4" stroke="#222" stroke-width="1.3" stroke-dasharray="4.7 3.4"/>
<path d="M307.93,412.90 L313.20,410.40 L308.51,406.93" fill="none" stroke="#222" stroke-width="1.3"/>
<line x1="386.7" y1="346.5" x2="600.3" y2="385.9" stroke="#222" stroke-width="1.3" stroke-dasharray="4.7 3.4"/>
<path d="M594.84,387.94 L600.30,385.90 L595.93,382.04" fill="none" stroke="#222" stroke-width="1.3"/>
<line x1="386" y1="409.9" x2="600.3" y2="393" stroke="#222" stroke-width="1.3" stroke-dasharray="4.7 3.4"/>
<path d="M595.55,396.38 L600.30,393.00 L595.08,390.40" fill="none" stroke="#222" stroke-width="1.3"/>
<path d="M65.8,404.2 L65.8,449.3" fill="none" stroke="#222" stroke-width="1.3" stroke-dasharray="4.7 3.4"/>
<path d="M68.6,449.3 L643.8,449.3" fill="none" stroke="#222" stroke-width="1.3" stroke-dasharray="4.7 3.4"/>
<path d="M643.8,449.9 L643.8,405.5" fill="none" stroke="#222" stroke-width="1.3" stroke-dasharray="4.7 3.4"/>
<path d="M646.80,410.00 L643.80,405.00 L640.80,410.00" fill="none" stroke="#222" stroke-width="1.3"/>
<text x="172.50" y="344.00" font-size="12.5" fill="#111" text-anchor="start" font-style="italic" stroke="#111" stroke-width="0.2">β</text>
<text x="183.29" y="344.00" font-size="12.5" fill="#111" text-anchor="start" stroke="#111" stroke-width="0.2">=</text>
<text x="193.61" y="344.00" font-size="12.5" fill="#111" text-anchor="start" stroke="#111" stroke-width="0.2">0.058</text>
<text x="150.41" y="358.80" font-size="12.5" fill="#111" text-anchor="start" font-style="italic" stroke="#111" stroke-width="0.2">Pr</text>
<text x="165.42" y="358.80" font-size="12.5" fill="#111" text-anchor="start" stroke="#111" stroke-width="0.2">(<tspan dx="1.6" font-style="italic">β</tspan>&gt;0)</text>
<text x="199.69" y="358.80" font-size="12.5" fill="#111" text-anchor="start" stroke="#111" stroke-width="0.2">=</text>
<text x="210.11" y="358.80" font-size="12.5" fill="#111" text-anchor="start" stroke="#111" stroke-width="0.2">0.554</text>
<text x="173.50" y="414.60" font-size="12.5" fill="#111" text-anchor="start" font-style="italic" stroke="#111" stroke-width="0.2">β</text>
<text x="183.99" y="414.60" font-size="12.5" fill="#111" text-anchor="start" stroke="#111" stroke-width="0.2">=</text>
<text x="194.99" y="414.60" font-size="12.5" fill="#111" text-anchor="start" stroke="#111" stroke-width="0.2">−</text>
<text x="202.11" y="414.60" font-size="12.5" fill="#111" text-anchor="start" stroke="#111" stroke-width="0.2">0.047</text>
<text x="151.41" y="429.70" font-size="12.5" fill="#111" text-anchor="start" font-style="italic" stroke="#111" stroke-width="0.2">Pr</text>
<text x="166.42" y="429.70" font-size="12.5" fill="#111" text-anchor="start" stroke="#111" stroke-width="0.2">(<tspan dx="1.6" font-style="italic">β</tspan>&lt;0)</text>
<text x="201.19" y="429.70" font-size="12.5" fill="#111" text-anchor="start" stroke="#111" stroke-width="0.2">=</text>
<text x="211.51" y="429.70" font-size="12.5" fill="#111" text-anchor="start" stroke="#111" stroke-width="0.2">0.552</text>
<text x="484.10" y="343.00" font-size="12.5" fill="#111" text-anchor="start" font-style="italic" stroke="#111" stroke-width="0.2">β</text>
<text x="494.59" y="343.00" font-size="12.5" fill="#111" text-anchor="start" stroke="#111" stroke-width="0.2">=</text>
<text x="505.49" y="343.00" font-size="12.5" fill="#111" text-anchor="start" stroke="#111" stroke-width="0.2">−</text>
<text x="512.21" y="343.00" font-size="12.5" fill="#111" text-anchor="start" stroke="#111" stroke-width="0.2">0.134</text>
<text x="465.11" y="357.90" font-size="12.5" fill="#111" text-anchor="start" font-style="italic" stroke="#111" stroke-width="0.2">Pr</text>
<text x="480.23" y="357.90" font-size="12.5" fill="#111" text-anchor="start" stroke="#111" stroke-width="0.2">(<tspan dx="1.6" font-style="italic">β</tspan>&lt;0)</text>
<text x="513.99" y="357.90" font-size="12.5" fill="#111" text-anchor="start" stroke="#111" stroke-width="0.2">=</text>
<text x="525.91" y="357.90" font-size="12.5" fill="#111" text-anchor="start" stroke="#111" stroke-width="0.2">0.886</text>
<text x="485.60" y="412.90" font-size="12.5" fill="#111" text-anchor="start" font-style="italic" stroke="#111" stroke-width="0.2">β</text>
<text x="495.39" y="412.90" font-size="12.5" fill="#111" text-anchor="start" stroke="#111" stroke-width="0.2">=</text>
<text x="506.69" y="412.90" font-size="12.5" fill="#111" text-anchor="start" stroke="#111" stroke-width="0.2">−</text>
<text x="513.41" y="412.90" font-size="12.5" fill="#111" text-anchor="start" stroke="#111" stroke-width="0.2">0.132</text>
<text x="466.81" y="427.40" font-size="12.5" fill="#111" text-anchor="start" font-style="italic" stroke="#111" stroke-width="0.2">Pr</text>
<text x="481.03" y="427.40" font-size="12.5" fill="#111" text-anchor="start" stroke="#111" stroke-width="0.2">(<tspan dx="1.6" font-style="italic">β</tspan>&lt;0)</text>
<text x="515.49" y="427.40" font-size="12.5" fill="#111" text-anchor="start" stroke="#111" stroke-width="0.2">=</text>
<text x="525.91" y="427.40" font-size="12.5" fill="#111" text-anchor="start" stroke="#111" stroke-width="0.2">0.758</text>
<text x="281.60" y="464.60" font-size="12.5" fill="#111" text-anchor="start" font-style="italic" stroke="#111" stroke-width="0.2">β</text>
<text x="291.49" y="464.60" font-size="12.5" fill="#111" text-anchor="start" stroke="#111" stroke-width="0.2">=</text>
<text x="302.71" y="464.60" font-size="12.5" fill="#111" text-anchor="start" stroke="#111" stroke-width="0.2">0.239,</text>
<text x="340.91" y="464.60" font-size="12.5" fill="#111" text-anchor="start" font-style="italic" stroke="#111" stroke-width="0.2">Pr</text>
<text x="356.03" y="464.60" font-size="12.5" fill="#111" text-anchor="start" stroke="#111" stroke-width="0.2">(<tspan dx="1.6" font-style="italic">β</tspan>&gt;0)</text>
<text x="390.39" y="464.60" font-size="12.5" fill="#111" text-anchor="start" stroke="#111" stroke-width="0.2">=</text>
<text x="400.81" y="464.60" font-size="12.5" fill="#111" text-anchor="start" stroke="#111" stroke-width="0.2">0.864</text>
</svg>
</body></html>
